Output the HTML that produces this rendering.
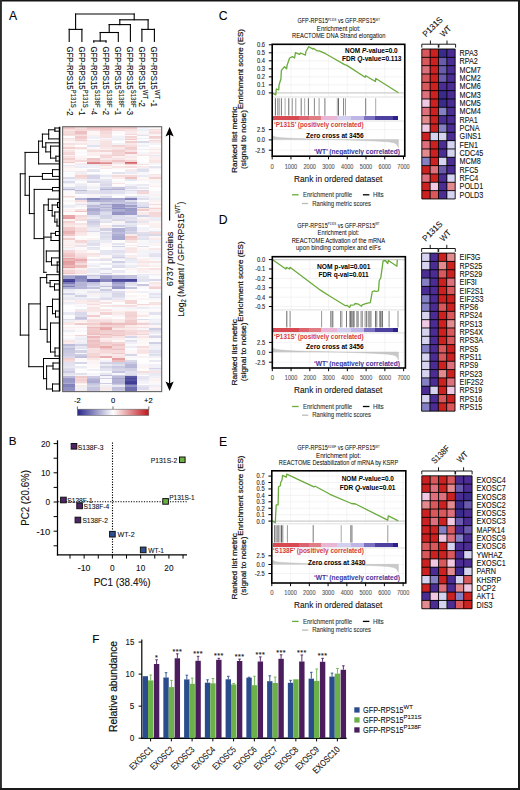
<!DOCTYPE html>
<html><head><meta charset="utf-8"><style>
html,body{margin:0;padding:0;background:#fff;}
svg{display:block;font-family:"Liberation Sans", sans-serif;}
</style></head><body>
<svg width="520" height="790" viewBox="0 0 520 790">
<rect width="520" height="790" fill="#fff"/>
<rect x="0" y="0" width="520" height="1.5" fill="#151515"/><rect x="0" y="0" width="1.9" height="790" fill="#2a2a2a"/><rect x="518" y="0" width="2" height="790" fill="#1a1a1a"/><rect x="0" y="788" width="520" height="2" fill="#1a1a1a"/>
<text x="9.00" y="19.80" font-size="12.2" fill="#000" stroke="#000" stroke-width="0.1" >A</text>
<text x="8.80" y="445.40" font-size="11.6" fill="#000" stroke="#000" stroke-width="0.1" >B</text>
<text x="218.80" y="20.30" font-size="12.2" fill="#000" stroke="#000" stroke-width="0.1" >C</text>
<text x="218.80" y="224.30" font-size="12.2" fill="#000" stroke="#000" stroke-width="0.1" >D</text>
<text x="219.00" y="445.80" font-size="12.2" fill="#000" stroke="#000" stroke-width="0.1" >E</text>
<text x="92.20" y="642.60" font-size="11.6" fill="#000" stroke="#000" stroke-width="0.1" >F</text>
<line x1="75.60" y1="14.00" x2="134.20" y2="14.00" stroke="#000" stroke-width="1.1" stroke-linecap="square"/>
<line x1="75.60" y1="14.00" x2="75.60" y2="29.40" stroke="#000" stroke-width="1.1" stroke-linecap="square"/>
<line x1="69.20" y1="29.40" x2="81.90" y2="29.40" stroke="#000" stroke-width="1.1" stroke-linecap="square"/>
<line x1="69.20" y1="29.40" x2="69.20" y2="41.50" stroke="#000" stroke-width="1.1" stroke-linecap="square"/>
<line x1="81.90" y1="29.40" x2="81.90" y2="41.50" stroke="#000" stroke-width="1.1" stroke-linecap="square"/>
<line x1="134.20" y1="14.00" x2="134.20" y2="19.80" stroke="#000" stroke-width="1.1" stroke-linecap="square"/>
<line x1="119.80" y1="19.80" x2="148.10" y2="19.80" stroke="#000" stroke-width="1.1" stroke-linecap="square"/>
<line x1="148.10" y1="19.80" x2="148.10" y2="29.40" stroke="#000" stroke-width="1.1" stroke-linecap="square"/>
<line x1="141.90" y1="29.40" x2="154.40" y2="29.40" stroke="#000" stroke-width="1.1" stroke-linecap="square"/>
<line x1="141.90" y1="29.40" x2="141.90" y2="41.50" stroke="#000" stroke-width="1.1" stroke-linecap="square"/>
<line x1="154.40" y1="29.40" x2="154.40" y2="41.50" stroke="#000" stroke-width="1.1" stroke-linecap="square"/>
<line x1="119.80" y1="19.80" x2="119.80" y2="24.60" stroke="#000" stroke-width="1.1" stroke-linecap="square"/>
<line x1="109.20" y1="24.60" x2="130.40" y2="24.60" stroke="#000" stroke-width="1.1" stroke-linecap="square"/>
<line x1="130.40" y1="24.60" x2="130.40" y2="41.50" stroke="#000" stroke-width="1.1" stroke-linecap="square"/>
<line x1="109.20" y1="24.60" x2="109.20" y2="32.50" stroke="#000" stroke-width="1.1" stroke-linecap="square"/>
<line x1="100.20" y1="32.50" x2="118.30" y2="32.50" stroke="#000" stroke-width="1.1" stroke-linecap="square"/>
<line x1="118.30" y1="32.50" x2="118.30" y2="41.50" stroke="#000" stroke-width="1.1" stroke-linecap="square"/>
<line x1="100.20" y1="32.50" x2="100.20" y2="41.00" stroke="#000" stroke-width="1.1" stroke-linecap="square"/>
<line x1="93.80" y1="41.00" x2="106.00" y2="41.00" stroke="#000" stroke-width="1.1" stroke-linecap="square"/>
<line x1="93.80" y1="41.00" x2="93.80" y2="42.30" stroke="#000" stroke-width="1.1" stroke-linecap="square"/>
<line x1="106.00" y1="41.00" x2="106.00" y2="42.30" stroke="#000" stroke-width="1.1" stroke-linecap="square"/>
<text transform="translate(66.50,46.6) rotate(90) scale(0.88,1)" font-size="8.8" fill="#111" stroke="#111" stroke-width="0.1">GFP-RPS15<tspan font-size="6.8" dy="-4.2" dx="0.3">P131S</tspan><tspan dy="4.2" dx="1">-2</tspan></text>
<text transform="translate(78.60,46.6) rotate(90) scale(0.88,1)" font-size="8.8" fill="#111" stroke="#111" stroke-width="0.1">GFP-RPS15<tspan font-size="6.8" dy="-4.2" dx="0.3">P131S</tspan><tspan dy="4.2" dx="1">-1</tspan></text>
<text transform="translate(90.70,46.6) rotate(90) scale(0.88,1)" font-size="8.8" fill="#111" stroke="#111" stroke-width="0.1">GFP-RPS15<tspan font-size="6.8" dy="-4.2" dx="0.3">S138F</tspan><tspan dy="4.2" dx="1">-4</tspan></text>
<text transform="translate(102.80,46.6) rotate(90) scale(0.88,1)" font-size="8.8" fill="#111" stroke="#111" stroke-width="0.1">GFP-RPS15<tspan font-size="6.8" dy="-4.2" dx="0.3">S138F</tspan><tspan dy="4.2" dx="1">-2</tspan></text>
<text transform="translate(114.90,46.6) rotate(90) scale(0.88,1)" font-size="8.8" fill="#111" stroke="#111" stroke-width="0.1">GFP-RPS15<tspan font-size="6.8" dy="-4.2" dx="0.3">S138F</tspan><tspan dy="4.2" dx="1">-1</tspan></text>
<text transform="translate(127.00,46.6) rotate(90) scale(0.88,1)" font-size="8.8" fill="#111" stroke="#111" stroke-width="0.1">GFP-RPS15<tspan font-size="6.8" dy="-4.2" dx="0.3">S138F</tspan><tspan dy="4.2" dx="1">-3</tspan></text>
<text transform="translate(139.10,46.6) rotate(90) scale(0.88,1)" font-size="8.8" fill="#111" stroke="#111" stroke-width="0.1">GFP-RPS15<tspan font-size="6.8" dy="-4.2" dx="0.3">WT</tspan><tspan dy="4.2" dx="1">-2</tspan></text>
<text transform="translate(151.20,46.6) rotate(90) scale(0.88,1)" font-size="8.8" fill="#111" stroke="#111" stroke-width="0.1">GFP-RPS15<tspan font-size="6.8" dy="-4.2" dx="0.3">WT</tspan><tspan dy="4.2" dx="1">-1</tspan></text>
<g shape-rendering="crispEdges">
<rect x="62.6" y="126.7" width="12.44" height="2.05" fill="#f0c7c8"/>
<rect x="74.99" y="126.7" width="12.44" height="2.05" fill="#f5dcdd"/>
<rect x="87.38" y="126.7" width="12.44" height="2.05" fill="#efc4c5"/>
<rect x="99.76" y="126.7" width="12.44" height="2.05" fill="#efc4c5"/>
<rect x="112.15" y="126.7" width="12.44" height="2.05" fill="#f2cecf"/>
<rect x="124.54" y="126.7" width="12.44" height="2.05" fill="#f1cbcc"/>
<rect x="136.92" y="126.7" width="12.44" height="2.05" fill="#f4f3f9"/>
<rect x="149.31" y="126.7" width="12.44" height="2.05" fill="#fdf8f8"/>
<rect x="62.6" y="128.7" width="12.44" height="1.05" fill="#f6dcdd"/>
<rect x="74.99" y="128.7" width="12.44" height="1.05" fill="#f3d4d5"/>
<rect x="87.38" y="128.7" width="12.44" height="1.05" fill="#f3d2d3"/>
<rect x="99.76" y="128.7" width="12.44" height="1.05" fill="#efc4c5"/>
<rect x="112.15" y="128.7" width="12.44" height="1.05" fill="#f6dcdd"/>
<rect x="124.54" y="128.7" width="12.44" height="1.05" fill="#f6dedf"/>
<rect x="136.92" y="128.7" width="12.44" height="1.05" fill="#eeeef6"/>
<rect x="149.31" y="128.7" width="12.44" height="1.05" fill="#f5dbdc"/>
<rect x="62.6" y="129.7" width="12.44" height="1.05" fill="#f8e5e6"/>
<rect x="74.99" y="129.7" width="12.44" height="1.05" fill="#f6dedf"/>
<rect x="87.38" y="129.7" width="12.44" height="1.05" fill="#f5dbdc"/>
<rect x="99.76" y="129.7" width="12.44" height="1.05" fill="#f2cecf"/>
<rect x="112.15" y="129.7" width="12.44" height="1.05" fill="#f4d8d8"/>
<rect x="124.54" y="129.7" width="12.44" height="1.05" fill="#f7e1e2"/>
<rect x="136.92" y="129.7" width="12.44" height="1.05" fill="#efeff6"/>
<rect x="149.31" y="129.7" width="12.44" height="1.05" fill="#faebec"/>
<rect x="62.6" y="130.7" width="12.44" height="0.35" fill="#faeeee"/>
<rect x="74.99" y="130.7" width="12.44" height="0.35" fill="#f6e0e0"/>
<rect x="87.38" y="130.7" width="12.44" height="0.35" fill="#f2cfd0"/>
<rect x="99.76" y="130.7" width="12.44" height="0.35" fill="#eec0c1"/>
<rect x="112.15" y="130.7" width="12.44" height="0.35" fill="#f6ddde"/>
<rect x="124.54" y="130.7" width="12.44" height="0.35" fill="#f2d0d1"/>
<rect x="136.92" y="130.7" width="12.44" height="0.35" fill="#e6e6f1"/>
<rect x="149.31" y="130.7" width="12.44" height="0.35" fill="#f9f9fb"/>
<rect x="62.6" y="131" width="12.44" height="2.55" fill="#f5dada"/>
<rect x="74.99" y="131" width="12.44" height="2.55" fill="#eebfc0"/>
<rect x="87.38" y="131" width="12.44" height="2.55" fill="#fcf6f6"/>
<rect x="99.76" y="131" width="12.44" height="2.55" fill="#f5dadb"/>
<rect x="112.15" y="131" width="12.44" height="2.55" fill="#fdf8f9"/>
<rect x="124.54" y="131" width="12.44" height="2.55" fill="#f9e9ea"/>
<rect x="136.92" y="131" width="12.44" height="2.55" fill="#f7f7fa"/>
<rect x="149.31" y="131" width="12.44" height="2.55" fill="#f6dede"/>
<rect x="62.6" y="133.5" width="12.44" height="1.55" fill="#f3d4d5"/>
<rect x="74.99" y="133.5" width="12.44" height="1.55" fill="#f2d0d1"/>
<rect x="87.38" y="133.5" width="12.44" height="1.55" fill="#fdf8f8"/>
<rect x="99.76" y="133.5" width="12.44" height="1.55" fill="#f6e0e0"/>
<rect x="112.15" y="133.5" width="12.44" height="1.55" fill="#fffefe"/>
<rect x="124.54" y="133.5" width="12.44" height="1.55" fill="#f5d9da"/>
<rect x="136.92" y="133.5" width="12.44" height="1.55" fill="#faeeee"/>
<rect x="149.31" y="133.5" width="12.44" height="1.55" fill="#fbf1f1"/>
<rect x="62.6" y="135" width="12.44" height="1.05" fill="#f6e0e0"/>
<rect x="74.99" y="135" width="12.44" height="1.05" fill="#f7e0e1"/>
<rect x="87.38" y="135" width="12.44" height="1.05" fill="#faeeee"/>
<rect x="99.76" y="135" width="12.44" height="1.05" fill="#f7e0e0"/>
<rect x="112.15" y="135" width="12.44" height="1.05" fill="#fdf7f7"/>
<rect x="124.54" y="135" width="12.44" height="1.05" fill="#fdf8f8"/>
<rect x="136.92" y="135" width="12.44" height="1.05" fill="#e3e3f0"/>
<rect x="149.31" y="135" width="12.44" height="1.05" fill="#f7f7fa"/>
<rect x="62.6" y="136" width="12.44" height="2.05" fill="#fdfdfe"/>
<rect x="74.99" y="136" width="12.44" height="2.05" fill="#f1cacb"/>
<rect x="87.38" y="136" width="12.44" height="2.05" fill="#f1f0f7"/>
<rect x="99.76" y="136" width="12.44" height="2.05" fill="#f6e0e0"/>
<rect x="112.15" y="136" width="12.44" height="2.05" fill="#f1f1f7"/>
<rect x="124.54" y="136" width="12.44" height="2.05" fill="#f3d4d5"/>
<rect x="136.92" y="136" width="12.44" height="2.05" fill="#fcfcfd"/>
<rect x="149.31" y="136" width="12.44" height="2.05" fill="#f2d0d1"/>
<rect x="62.6" y="138" width="12.44" height="1.05" fill="#f7e2e2"/>
<rect x="74.99" y="138" width="12.44" height="1.05" fill="#f1cdce"/>
<rect x="87.38" y="138" width="12.44" height="1.05" fill="#efeff6"/>
<rect x="99.76" y="138" width="12.44" height="1.05" fill="#f6f6fa"/>
<rect x="112.15" y="138" width="12.44" height="1.05" fill="#f0f0f7"/>
<rect x="124.54" y="138" width="12.44" height="1.05" fill="#f7e3e3"/>
<rect x="136.92" y="138" width="12.44" height="1.05" fill="#eeeef6"/>
<rect x="149.31" y="138" width="12.44" height="1.05" fill="#f5d9da"/>
<rect x="62.6" y="139" width="12.44" height="1.05" fill="#faebeb"/>
<rect x="74.99" y="139" width="12.44" height="1.05" fill="#f6dcdd"/>
<rect x="87.38" y="139" width="12.44" height="1.05" fill="#fefefe"/>
<rect x="99.76" y="139" width="12.44" height="1.05" fill="#faeced"/>
<rect x="112.15" y="139" width="12.44" height="1.05" fill="#ededf5"/>
<rect x="124.54" y="139" width="12.44" height="1.05" fill="#f0cacb"/>
<rect x="136.92" y="139" width="12.44" height="1.05" fill="#fefefe"/>
<rect x="149.31" y="139" width="12.44" height="1.05" fill="#fdf9fa"/>
<rect x="62.6" y="140" width="12.44" height="1.05" fill="#f9eaea"/>
<rect x="74.99" y="140" width="12.44" height="1.05" fill="#f2cecf"/>
<rect x="87.38" y="140" width="12.44" height="1.05" fill="#eeeef5"/>
<rect x="99.76" y="140" width="12.44" height="1.05" fill="#f9eaeb"/>
<rect x="112.15" y="140" width="12.44" height="1.05" fill="#f7f7fb"/>
<rect x="124.54" y="140" width="12.44" height="1.05" fill="#fcf4f4"/>
<rect x="136.92" y="140" width="12.44" height="1.05" fill="#fcfcfd"/>
<rect x="149.31" y="140" width="12.44" height="1.05" fill="#f5d9d9"/>
<rect x="62.6" y="141" width="12.44" height="2.05" fill="#fdf8f8"/>
<rect x="74.99" y="141" width="12.44" height="2.05" fill="#fbefef"/>
<rect x="87.38" y="141" width="12.44" height="2.05" fill="#fbf1f1"/>
<rect x="99.76" y="141" width="12.44" height="2.05" fill="#f7e3e3"/>
<rect x="112.15" y="141" width="12.44" height="2.05" fill="#ffffff"/>
<rect x="124.54" y="141" width="12.44" height="2.05" fill="#f1cdce"/>
<rect x="136.92" y="141" width="12.44" height="2.05" fill="#dad9ea"/>
<rect x="149.31" y="141" width="12.44" height="2.05" fill="#f8e7e7"/>
<rect x="62.6" y="143" width="12.44" height="1.55" fill="#f7e0e1"/>
<rect x="74.99" y="143" width="12.44" height="1.55" fill="#f9e8e8"/>
<rect x="87.38" y="143" width="12.44" height="1.55" fill="#f2f2f8"/>
<rect x="99.76" y="143" width="12.44" height="1.55" fill="#f7e2e2"/>
<rect x="112.15" y="143" width="12.44" height="1.55" fill="#f1f1f7"/>
<rect x="124.54" y="143" width="12.44" height="1.55" fill="#f8e7e7"/>
<rect x="136.92" y="143" width="12.44" height="1.55" fill="#f8f8fb"/>
<rect x="149.31" y="143" width="12.44" height="1.55" fill="#f4f3f9"/>
<rect x="62.6" y="144.5" width="12.44" height="2.55" fill="#fbefef"/>
<rect x="74.99" y="144.5" width="12.44" height="2.55" fill="#ffffff"/>
<rect x="87.38" y="144.5" width="12.44" height="2.55" fill="#e2e1ef"/>
<rect x="99.76" y="144.5" width="12.44" height="2.55" fill="#f7e0e1"/>
<rect x="112.15" y="144.5" width="12.44" height="2.55" fill="#f3d2d3"/>
<rect x="124.54" y="144.5" width="12.44" height="2.55" fill="#f6dedf"/>
<rect x="136.92" y="144.5" width="12.44" height="2.55" fill="#f1f1f7"/>
<rect x="149.31" y="144.5" width="12.44" height="2.55" fill="#ffffff"/>
<rect x="62.6" y="147" width="12.44" height="2.05" fill="#f2cecf"/>
<rect x="74.99" y="147" width="12.44" height="2.05" fill="#f5dbdc"/>
<rect x="87.38" y="147" width="12.44" height="2.05" fill="#fdf9fa"/>
<rect x="99.76" y="147" width="12.44" height="2.05" fill="#f8e7e7"/>
<rect x="112.15" y="147" width="12.44" height="2.05" fill="#f8e7e7"/>
<rect x="124.54" y="147" width="12.44" height="2.05" fill="#f1cdce"/>
<rect x="136.92" y="147" width="12.44" height="2.05" fill="#fcfcfe"/>
<rect x="149.31" y="147" width="12.44" height="2.05" fill="#fcf5f5"/>
<rect x="62.6" y="149" width="12.44" height="1.05" fill="#fcf3f3"/>
<rect x="74.99" y="149" width="12.44" height="1.05" fill="#fbf1f2"/>
<rect x="87.38" y="149" width="12.44" height="1.05" fill="#f9eaea"/>
<rect x="99.76" y="149" width="12.44" height="1.05" fill="#fbf0f0"/>
<rect x="112.15" y="149" width="12.44" height="1.05" fill="#f6dfe0"/>
<rect x="124.54" y="149" width="12.44" height="1.05" fill="#f3d2d3"/>
<rect x="136.92" y="149" width="12.44" height="1.05" fill="#f0f0f7"/>
<rect x="149.31" y="149" width="12.44" height="1.05" fill="#f9e9e9"/>
<rect x="62.6" y="150" width="12.44" height="2.05" fill="#f8e5e6"/>
<rect x="74.99" y="150" width="12.44" height="2.05" fill="#fefdfd"/>
<rect x="87.38" y="150" width="12.44" height="2.05" fill="#f5dbdc"/>
<rect x="99.76" y="150" width="12.44" height="2.05" fill="#f3d4d5"/>
<rect x="112.15" y="150" width="12.44" height="2.05" fill="#f2cecf"/>
<rect x="124.54" y="150" width="12.44" height="2.05" fill="#f7e3e3"/>
<rect x="136.92" y="150" width="12.44" height="2.05" fill="#fefdfd"/>
<rect x="149.31" y="150" width="12.44" height="2.05" fill="#fdf7f7"/>
<rect x="62.6" y="152" width="12.44" height="2.05" fill="#f4d8d9"/>
<rect x="74.99" y="152" width="12.44" height="2.05" fill="#fafafc"/>
<rect x="87.38" y="152" width="12.44" height="2.05" fill="#fbf0f0"/>
<rect x="99.76" y="152" width="12.44" height="2.05" fill="#fcf2f3"/>
<rect x="112.15" y="152" width="12.44" height="2.05" fill="#f4d5d6"/>
<rect x="124.54" y="152" width="12.44" height="2.05" fill="#ecbabb"/>
<rect x="136.92" y="152" width="12.44" height="2.05" fill="#f6f5fa"/>
<rect x="149.31" y="152" width="12.44" height="2.05" fill="#faecec"/>
<rect x="62.6" y="154" width="12.44" height="1.05" fill="#f4d6d7"/>
<rect x="74.99" y="154" width="12.44" height="1.05" fill="#ffffff"/>
<rect x="87.38" y="154" width="12.44" height="1.05" fill="#faeeee"/>
<rect x="99.76" y="154" width="12.44" height="1.05" fill="#f8e6e6"/>
<rect x="112.15" y="154" width="12.44" height="1.05" fill="#f4d5d6"/>
<rect x="124.54" y="154" width="12.44" height="1.05" fill="#fbf0f1"/>
<rect x="136.92" y="154" width="12.44" height="1.05" fill="#faeced"/>
<rect x="149.31" y="154" width="12.44" height="1.05" fill="#f7f7fb"/>
<rect x="62.6" y="155" width="12.44" height="1.05" fill="#fcf2f3"/>
<rect x="74.99" y="155" width="12.44" height="1.05" fill="#fdf7f7"/>
<rect x="87.38" y="155" width="12.44" height="1.05" fill="#fbefef"/>
<rect x="99.76" y="155" width="12.44" height="1.05" fill="#f4d6d7"/>
<rect x="112.15" y="155" width="12.44" height="1.05" fill="#f2cfcf"/>
<rect x="124.54" y="155" width="12.44" height="1.05" fill="#f3f3f9"/>
<rect x="136.92" y="155" width="12.44" height="1.05" fill="#f9e8e8"/>
<rect x="149.31" y="155" width="12.44" height="1.05" fill="#e9e9f3"/>
<rect x="62.6" y="156" width="12.44" height="2.05" fill="#f7e1e1"/>
<rect x="74.99" y="156" width="12.44" height="2.05" fill="#fcf5f5"/>
<rect x="87.38" y="156" width="12.44" height="2.05" fill="#fdfdfe"/>
<rect x="99.76" y="156" width="12.44" height="2.05" fill="#f4d8d9"/>
<rect x="112.15" y="156" width="12.44" height="2.05" fill="#faeeee"/>
<rect x="124.54" y="156" width="12.44" height="2.05" fill="#f9e9e9"/>
<rect x="136.92" y="156" width="12.44" height="2.05" fill="#fdfdfe"/>
<rect x="149.31" y="156" width="12.44" height="2.05" fill="#faeded"/>
<rect x="62.6" y="158" width="12.44" height="2.05" fill="#f2cfd0"/>
<rect x="74.99" y="158" width="12.44" height="2.05" fill="#faeeee"/>
<rect x="87.38" y="158" width="12.44" height="2.05" fill="#efc5c6"/>
<rect x="99.76" y="158" width="12.44" height="2.05" fill="#f9e9ea"/>
<rect x="112.15" y="158" width="12.44" height="2.05" fill="#f7e3e3"/>
<rect x="124.54" y="158" width="12.44" height="2.05" fill="#faeeee"/>
<rect x="136.92" y="158" width="12.44" height="2.05" fill="#fefdfd"/>
<rect x="149.31" y="158" width="12.44" height="2.05" fill="#faeeee"/>
<rect x="62.6" y="160" width="12.44" height="1.55" fill="#f7e1e1"/>
<rect x="74.99" y="160" width="12.44" height="1.55" fill="#f5d9da"/>
<rect x="87.38" y="160" width="12.44" height="1.55" fill="#f1cacb"/>
<rect x="99.76" y="160" width="12.44" height="1.55" fill="#f5d9d9"/>
<rect x="112.15" y="160" width="12.44" height="1.55" fill="#efc6c7"/>
<rect x="124.54" y="160" width="12.44" height="1.55" fill="#f4d6d7"/>
<rect x="136.92" y="160" width="12.44" height="1.55" fill="#ffffff"/>
<rect x="149.31" y="160" width="12.44" height="1.55" fill="#f8e6e6"/>
<rect x="62.6" y="161.5" width="12.44" height="1.05" fill="#f0c8c9"/>
<rect x="74.99" y="161.5" width="12.44" height="1.05" fill="#fdfdfe"/>
<rect x="87.38" y="161.5" width="12.44" height="1.05" fill="#de8688"/>
<rect x="99.76" y="161.5" width="12.44" height="1.05" fill="#e6a4a6"/>
<rect x="112.15" y="161.5" width="12.44" height="1.05" fill="#f6dddd"/>
<rect x="124.54" y="161.5" width="12.44" height="1.05" fill="#d56769"/>
<rect x="136.92" y="161.5" width="12.44" height="1.05" fill="#fdf8f8"/>
<rect x="149.31" y="161.5" width="12.44" height="1.05" fill="#f8e6e6"/>
<rect x="62.6" y="162.5" width="12.44" height="1.05" fill="#fefafa"/>
<rect x="74.99" y="162.5" width="12.44" height="1.05" fill="#faebec"/>
<rect x="87.38" y="162.5" width="12.44" height="1.05" fill="#dc7e80"/>
<rect x="99.76" y="162.5" width="12.44" height="1.05" fill="#e08d8f"/>
<rect x="112.15" y="162.5" width="12.44" height="1.05" fill="#f8e5e6"/>
<rect x="124.54" y="162.5" width="12.44" height="1.05" fill="#dd8183"/>
<rect x="136.92" y="162.5" width="12.44" height="1.05" fill="#fdf8f9"/>
<rect x="149.31" y="162.5" width="12.44" height="1.05" fill="#f6f6fa"/>
<rect x="62.6" y="163.5" width="12.44" height="1.55" fill="#fcfcfd"/>
<rect x="74.99" y="163.5" width="12.44" height="1.55" fill="#edecf5"/>
<rect x="87.38" y="163.5" width="12.44" height="1.55" fill="#e8e8f3"/>
<rect x="99.76" y="163.5" width="12.44" height="1.55" fill="#f7e3e4"/>
<rect x="112.15" y="163.5" width="12.44" height="1.55" fill="#fcf4f4"/>
<rect x="124.54" y="163.5" width="12.44" height="1.55" fill="#f4d8d9"/>
<rect x="136.92" y="163.5" width="12.44" height="1.55" fill="#f7e2e3"/>
<rect x="149.31" y="163.5" width="12.44" height="1.55" fill="#f6f6fa"/>
<rect x="62.6" y="165" width="12.44" height="1.05" fill="#e9e9f3"/>
<rect x="74.99" y="165" width="12.44" height="1.05" fill="#f4f4f9"/>
<rect x="87.38" y="165" width="12.44" height="1.05" fill="#f0eff6"/>
<rect x="99.76" y="165" width="12.44" height="1.05" fill="#f5dcdd"/>
<rect x="112.15" y="165" width="12.44" height="1.05" fill="#fefafa"/>
<rect x="124.54" y="165" width="12.44" height="1.05" fill="#fcf3f3"/>
<rect x="136.92" y="165" width="12.44" height="1.05" fill="#ffffff"/>
<rect x="149.31" y="165" width="12.44" height="1.05" fill="#ffffff"/>
<rect x="62.6" y="166" width="12.44" height="1.55" fill="#fbf0f1"/>
<rect x="74.99" y="166" width="12.44" height="1.55" fill="#ececf5"/>
<rect x="87.38" y="166" width="12.44" height="1.55" fill="#f0f0f7"/>
<rect x="99.76" y="166" width="12.44" height="1.55" fill="#fbf2f2"/>
<rect x="112.15" y="166" width="12.44" height="1.55" fill="#f8e6e7"/>
<rect x="124.54" y="166" width="12.44" height="1.55" fill="#f6dfe0"/>
<rect x="136.92" y="166" width="12.44" height="1.55" fill="#faecec"/>
<rect x="149.31" y="166" width="12.44" height="1.55" fill="#e5e5f1"/>
<rect x="62.6" y="167.5" width="12.44" height="0.55" fill="#eeeef6"/>
<rect x="74.99" y="167.5" width="12.44" height="0.55" fill="#fcf4f4"/>
<rect x="87.38" y="167.5" width="12.44" height="0.55" fill="#f9f9fc"/>
<rect x="99.76" y="167.5" width="12.44" height="0.55" fill="#f9e9ea"/>
<rect x="112.15" y="167.5" width="12.44" height="0.55" fill="#fcfcfd"/>
<rect x="124.54" y="167.5" width="12.44" height="0.55" fill="#f9eaea"/>
<rect x="136.92" y="167.5" width="12.44" height="0.55" fill="#f6f6fa"/>
<rect x="149.31" y="167.5" width="12.44" height="0.55" fill="#f6f6fa"/>
<rect x="62.6" y="168" width="12.44" height="1.05" fill="#fdf8f8"/>
<rect x="74.99" y="168" width="12.44" height="1.05" fill="#fefbfb"/>
<rect x="87.38" y="168" width="12.44" height="1.05" fill="#fffefe"/>
<rect x="99.76" y="168" width="12.44" height="1.05" fill="#f9e8e8"/>
<rect x="112.15" y="168" width="12.44" height="1.05" fill="#fcf5f5"/>
<rect x="124.54" y="168" width="12.44" height="1.05" fill="#fdfdfe"/>
<rect x="136.92" y="168" width="12.44" height="1.05" fill="#ebebf4"/>
<rect x="149.31" y="168" width="12.44" height="1.05" fill="#f4f3f9"/>
<rect x="62.6" y="169" width="12.44" height="2.05" fill="#fdf8f8"/>
<rect x="74.99" y="169" width="12.44" height="2.05" fill="#fdf9f9"/>
<rect x="87.38" y="169" width="12.44" height="2.05" fill="#e8e8f2"/>
<rect x="99.76" y="169" width="12.44" height="2.05" fill="#fffefe"/>
<rect x="112.15" y="169" width="12.44" height="2.05" fill="#fffefe"/>
<rect x="124.54" y="169" width="12.44" height="2.05" fill="#f9e9ea"/>
<rect x="136.92" y="169" width="12.44" height="2.05" fill="#dfdfed"/>
<rect x="149.31" y="169" width="12.44" height="2.05" fill="#fefafa"/>
<rect x="62.6" y="171" width="12.44" height="1.05" fill="#f1f1f7"/>
<rect x="74.99" y="171" width="12.44" height="1.05" fill="#f9eaea"/>
<rect x="87.38" y="171" width="12.44" height="1.05" fill="#e1e0ee"/>
<rect x="99.76" y="171" width="12.44" height="1.05" fill="#fefafa"/>
<rect x="112.15" y="171" width="12.44" height="1.05" fill="#ffffff"/>
<rect x="124.54" y="171" width="12.44" height="1.05" fill="#eaeaf3"/>
<rect x="136.92" y="171" width="12.44" height="1.05" fill="#e2e1ef"/>
<rect x="149.31" y="171" width="12.44" height="1.05" fill="#fefdfd"/>
<rect x="62.6" y="172" width="12.44" height="1.55" fill="#fbfbfd"/>
<rect x="74.99" y="172" width="12.44" height="1.55" fill="#eeeef6"/>
<rect x="87.38" y="172" width="12.44" height="1.55" fill="#fdfdfe"/>
<rect x="99.76" y="172" width="12.44" height="1.55" fill="#fffefe"/>
<rect x="112.15" y="172" width="12.44" height="1.55" fill="#e3e3ef"/>
<rect x="124.54" y="172" width="12.44" height="1.55" fill="#ececf5"/>
<rect x="136.92" y="172" width="12.44" height="1.55" fill="#f7f7fb"/>
<rect x="149.31" y="172" width="12.44" height="1.55" fill="#fefefe"/>
<rect x="62.6" y="173.5" width="12.44" height="1.05" fill="#fafafc"/>
<rect x="74.99" y="173.5" width="12.44" height="1.05" fill="#f9e9e9"/>
<rect x="87.38" y="173.5" width="12.44" height="1.05" fill="#ebebf4"/>
<rect x="99.76" y="173.5" width="12.44" height="1.05" fill="#f6f6fa"/>
<rect x="112.15" y="173.5" width="12.44" height="1.05" fill="#fdf6f6"/>
<rect x="124.54" y="173.5" width="12.44" height="1.05" fill="#fdf7f8"/>
<rect x="136.92" y="173.5" width="12.44" height="1.05" fill="#fdf8f8"/>
<rect x="149.31" y="173.5" width="12.44" height="1.05" fill="#f8e6e6"/>
<rect x="62.6" y="174.5" width="12.44" height="0.55" fill="#f8e4e5"/>
<rect x="74.99" y="174.5" width="12.44" height="0.55" fill="#f4d7d8"/>
<rect x="87.38" y="174.5" width="12.44" height="0.55" fill="#fdfdfe"/>
<rect x="99.76" y="174.5" width="12.44" height="0.55" fill="#fefbfc"/>
<rect x="112.15" y="174.5" width="12.44" height="0.55" fill="#f9eaea"/>
<rect x="124.54" y="174.5" width="12.44" height="0.55" fill="#f5f5fa"/>
<rect x="136.92" y="174.5" width="12.44" height="0.55" fill="#c5c5df"/>
<rect x="149.31" y="174.5" width="12.44" height="0.55" fill="#fcf5f5"/>
<rect x="62.6" y="175" width="12.44" height="1.55" fill="#fbfbfd"/>
<rect x="74.99" y="175" width="12.44" height="1.55" fill="#f3d2d2"/>
<rect x="87.38" y="175" width="12.44" height="1.55" fill="#d5d4e8"/>
<rect x="99.76" y="175" width="12.44" height="1.55" fill="#e9e9f3"/>
<rect x="112.15" y="175" width="12.44" height="1.55" fill="#f5dbdc"/>
<rect x="124.54" y="175" width="12.44" height="1.55" fill="#f5dcdc"/>
<rect x="136.92" y="175" width="12.44" height="1.55" fill="#eaeaf3"/>
<rect x="149.31" y="175" width="12.44" height="1.55" fill="#faeced"/>
<rect x="62.6" y="176.5" width="12.44" height="2.55" fill="#dcdcec"/>
<rect x="74.99" y="176.5" width="12.44" height="2.55" fill="#f5dada"/>
<rect x="87.38" y="176.5" width="12.44" height="2.55" fill="#d5d4e8"/>
<rect x="99.76" y="176.5" width="12.44" height="2.55" fill="#f7f7fa"/>
<rect x="112.15" y="176.5" width="12.44" height="2.55" fill="#faecec"/>
<rect x="124.54" y="176.5" width="12.44" height="2.55" fill="#eec2c3"/>
<rect x="136.92" y="176.5" width="12.44" height="2.55" fill="#fdf9f9"/>
<rect x="149.31" y="176.5" width="12.44" height="2.55" fill="#f3d2d2"/>
<rect x="62.6" y="179" width="12.44" height="1.55" fill="#f2f2f8"/>
<rect x="74.99" y="179" width="12.44" height="1.55" fill="#f1f1f7"/>
<rect x="87.38" y="179" width="12.44" height="1.55" fill="#eaeaf4"/>
<rect x="99.76" y="179" width="12.44" height="1.55" fill="#e7e6f2"/>
<rect x="112.15" y="179" width="12.44" height="1.55" fill="#fefdfd"/>
<rect x="124.54" y="179" width="12.44" height="1.55" fill="#e7e7f2"/>
<rect x="136.92" y="179" width="12.44" height="1.55" fill="#fcf3f4"/>
<rect x="149.31" y="179" width="12.44" height="1.55" fill="#fcf3f3"/>
<rect x="62.6" y="180.5" width="12.44" height="2.05" fill="#dbdbeb"/>
<rect x="74.99" y="180.5" width="12.44" height="2.05" fill="#fdfdfe"/>
<rect x="87.38" y="180.5" width="12.44" height="2.05" fill="#d9d9ea"/>
<rect x="99.76" y="180.5" width="12.44" height="2.05" fill="#e1e0ee"/>
<rect x="112.15" y="180.5" width="12.44" height="2.05" fill="#f9f9fc"/>
<rect x="124.54" y="180.5" width="12.44" height="2.05" fill="#fdfdfe"/>
<rect x="136.92" y="180.5" width="12.44" height="2.05" fill="#fefcfc"/>
<rect x="149.31" y="180.5" width="12.44" height="2.05" fill="#f6f6fa"/>
<rect x="62.6" y="182.5" width="12.44" height="0.55" fill="#eaeaf4"/>
<rect x="74.99" y="182.5" width="12.44" height="0.55" fill="#f5f5fa"/>
<rect x="87.38" y="182.5" width="12.44" height="0.55" fill="#f5f5f9"/>
<rect x="99.76" y="182.5" width="12.44" height="0.55" fill="#e9e8f3"/>
<rect x="112.15" y="182.5" width="12.44" height="0.55" fill="#f7f7fa"/>
<rect x="124.54" y="182.5" width="12.44" height="0.55" fill="#ececf4"/>
<rect x="136.92" y="182.5" width="12.44" height="0.55" fill="#fefeff"/>
<rect x="149.31" y="182.5" width="12.44" height="0.55" fill="#fdf7f7"/>
<rect x="62.6" y="183" width="12.44" height="1.05" fill="#efeff6"/>
<rect x="74.99" y="183" width="12.44" height="1.05" fill="#f3f2f8"/>
<rect x="87.38" y="183" width="12.44" height="1.05" fill="#fdfdfe"/>
<rect x="99.76" y="183" width="12.44" height="1.05" fill="#ddddec"/>
<rect x="112.15" y="183" width="12.44" height="1.05" fill="#f8e4e4"/>
<rect x="124.54" y="183" width="12.44" height="1.05" fill="#fffefe"/>
<rect x="136.92" y="183" width="12.44" height="1.05" fill="#fffefe"/>
<rect x="149.31" y="183" width="12.44" height="1.05" fill="#fdf7f7"/>
<rect x="62.6" y="184" width="12.44" height="1.55" fill="#f9f9fc"/>
<rect x="74.99" y="184" width="12.44" height="1.55" fill="#ececf4"/>
<rect x="87.38" y="184" width="12.44" height="1.55" fill="#fdf8f8"/>
<rect x="99.76" y="184" width="12.44" height="1.55" fill="#dad9ea"/>
<rect x="112.15" y="184" width="12.44" height="1.55" fill="#fefcfc"/>
<rect x="124.54" y="184" width="12.44" height="1.55" fill="#f1f0f7"/>
<rect x="136.92" y="184" width="12.44" height="1.55" fill="#eaeaf3"/>
<rect x="149.31" y="184" width="12.44" height="1.55" fill="#fdf7f7"/>
<rect x="62.6" y="185.5" width="12.44" height="1.55" fill="#f8f8fb"/>
<rect x="74.99" y="185.5" width="12.44" height="1.55" fill="#e5e4f0"/>
<rect x="87.38" y="185.5" width="12.44" height="1.55" fill="#f3f2f8"/>
<rect x="99.76" y="185.5" width="12.44" height="1.55" fill="#e5e5f1"/>
<rect x="112.15" y="185.5" width="12.44" height="1.55" fill="#fcf4f4"/>
<rect x="124.54" y="185.5" width="12.44" height="1.55" fill="#e0dfee"/>
<rect x="136.92" y="185.5" width="12.44" height="1.55" fill="#fdf8f8"/>
<rect x="149.31" y="185.5" width="12.44" height="1.55" fill="#faeeee"/>
<rect x="62.6" y="187" width="12.44" height="2.05" fill="#dddcec"/>
<rect x="74.99" y="187" width="12.44" height="2.05" fill="#e2e1ef"/>
<rect x="87.38" y="187" width="12.44" height="2.05" fill="#efeff6"/>
<rect x="99.76" y="187" width="12.44" height="2.05" fill="#cecee4"/>
<rect x="112.15" y="187" width="12.44" height="2.05" fill="#c5c4df"/>
<rect x="124.54" y="187" width="12.44" height="2.05" fill="#dedded"/>
<rect x="136.92" y="187" width="12.44" height="2.05" fill="#e8e8f2"/>
<rect x="149.31" y="187" width="12.44" height="2.05" fill="#fefefe"/>
<rect x="62.6" y="189" width="12.44" height="1.05" fill="#b7b7d7"/>
<rect x="74.99" y="189" width="12.44" height="1.05" fill="#e8e8f2"/>
<rect x="87.38" y="189" width="12.44" height="1.05" fill="#f9f9fc"/>
<rect x="99.76" y="189" width="12.44" height="1.05" fill="#b2b2d5"/>
<rect x="112.15" y="189" width="12.44" height="1.05" fill="#b2b1d4"/>
<rect x="124.54" y="189" width="12.44" height="1.05" fill="#f3f2f8"/>
<rect x="136.92" y="189" width="12.44" height="1.05" fill="#fdf7f7"/>
<rect x="149.31" y="189" width="12.44" height="1.05" fill="#fefcfc"/>
<rect x="62.6" y="190" width="12.44" height="1.05" fill="#efeef6"/>
<rect x="74.99" y="190" width="12.44" height="1.05" fill="#babad9"/>
<rect x="87.38" y="190" width="12.44" height="1.05" fill="#e6e6f1"/>
<rect x="99.76" y="190" width="12.44" height="1.05" fill="#dcdbeb"/>
<rect x="112.15" y="190" width="12.44" height="1.05" fill="#e3e3f0"/>
<rect x="124.54" y="190" width="12.44" height="1.05" fill="#dedeed"/>
<rect x="136.92" y="190" width="12.44" height="1.05" fill="#d7d7e9"/>
<rect x="149.31" y="190" width="12.44" height="1.05" fill="#fefdfe"/>
<rect x="62.6" y="191" width="12.44" height="2.55" fill="#fdf9f9"/>
<rect x="74.99" y="191" width="12.44" height="2.55" fill="#ddddec"/>
<rect x="87.38" y="191" width="12.44" height="2.55" fill="#e2e2ef"/>
<rect x="99.76" y="191" width="12.44" height="2.55" fill="#dcdbec"/>
<rect x="112.15" y="191" width="12.44" height="2.55" fill="#e0dfee"/>
<rect x="124.54" y="191" width="12.44" height="2.55" fill="#efeef6"/>
<rect x="136.92" y="191" width="12.44" height="2.55" fill="#f4d5d6"/>
<rect x="149.31" y="191" width="12.44" height="2.55" fill="#f5f5fa"/>
<rect x="62.6" y="193.5" width="12.44" height="0.55" fill="#fefbfb"/>
<rect x="74.99" y="193.5" width="12.44" height="0.55" fill="#d4d4e7"/>
<rect x="87.38" y="193.5" width="12.44" height="0.55" fill="#f3f2f8"/>
<rect x="99.76" y="193.5" width="12.44" height="0.55" fill="#d2d2e6"/>
<rect x="112.15" y="193.5" width="12.44" height="0.55" fill="#f0f0f7"/>
<rect x="124.54" y="193.5" width="12.44" height="0.55" fill="#f7f7fb"/>
<rect x="136.92" y="193.5" width="12.44" height="0.55" fill="#fcf4f4"/>
<rect x="149.31" y="193.5" width="12.44" height="0.55" fill="#fdf8f9"/>
<rect x="62.6" y="194" width="12.44" height="1.55" fill="#fdf9f9"/>
<rect x="74.99" y="194" width="12.44" height="1.55" fill="#fcfcfe"/>
<rect x="87.38" y="194" width="12.44" height="1.55" fill="#fcf3f4"/>
<rect x="99.76" y="194" width="12.44" height="1.55" fill="#f1f1f7"/>
<rect x="112.15" y="194" width="12.44" height="1.55" fill="#f7f7fb"/>
<rect x="124.54" y="194" width="12.44" height="1.55" fill="#fefcfc"/>
<rect x="136.92" y="194" width="12.44" height="1.55" fill="#f5f5f9"/>
<rect x="149.31" y="194" width="12.44" height="1.55" fill="#fbf1f1"/>
<rect x="62.6" y="195.5" width="12.44" height="1.55" fill="#f4d6d7"/>
<rect x="74.99" y="195.5" width="12.44" height="1.55" fill="#f6f5fa"/>
<rect x="87.38" y="195.5" width="12.44" height="1.55" fill="#f8f8fb"/>
<rect x="99.76" y="195.5" width="12.44" height="1.55" fill="#dbdbeb"/>
<rect x="112.15" y="195.5" width="12.44" height="1.55" fill="#ffffff"/>
<rect x="124.54" y="195.5" width="12.44" height="1.55" fill="#e2e2ef"/>
<rect x="136.92" y="195.5" width="12.44" height="1.55" fill="#eaeaf3"/>
<rect x="149.31" y="195.5" width="12.44" height="1.55" fill="#f6f6fa"/>
<rect x="62.6" y="197" width="12.44" height="1.05" fill="#f9eaea"/>
<rect x="74.99" y="197" width="12.44" height="1.05" fill="#f6f6fa"/>
<rect x="87.38" y="197" width="12.44" height="1.05" fill="#f0f0f7"/>
<rect x="99.76" y="197" width="12.44" height="1.05" fill="#dfdfed"/>
<rect x="112.15" y="197" width="12.44" height="1.05" fill="#fbfbfd"/>
<rect x="124.54" y="197" width="12.44" height="1.05" fill="#d7d7e9"/>
<rect x="136.92" y="197" width="12.44" height="1.05" fill="#eeeef6"/>
<rect x="149.31" y="197" width="12.44" height="1.05" fill="#f3f3f8"/>
<rect x="62.6" y="198" width="12.44" height="2.05" fill="#fefeff"/>
<rect x="74.99" y="198" width="12.44" height="2.05" fill="#b7b6d7"/>
<rect x="87.38" y="198" width="12.44" height="2.05" fill="#8c8bc0"/>
<rect x="99.76" y="198" width="12.44" height="2.05" fill="#a8a7cf"/>
<rect x="112.15" y="198" width="12.44" height="2.05" fill="#a8a7cf"/>
<rect x="124.54" y="198" width="12.44" height="2.05" fill="#8483bb"/>
<rect x="136.92" y="198" width="12.44" height="2.05" fill="#dedeed"/>
<rect x="149.31" y="198" width="12.44" height="2.05" fill="#efeff6"/>
<rect x="62.6" y="200" width="12.44" height="1.55" fill="#fcf5f5"/>
<rect x="74.99" y="200" width="12.44" height="1.55" fill="#f6dede"/>
<rect x="87.38" y="200" width="12.44" height="1.55" fill="#aeadd2"/>
<rect x="99.76" y="200" width="12.44" height="1.55" fill="#b3b3d5"/>
<rect x="112.15" y="200" width="12.44" height="1.55" fill="#bbbbd9"/>
<rect x="124.54" y="200" width="12.44" height="1.55" fill="#dcdcec"/>
<rect x="136.92" y="200" width="12.44" height="1.55" fill="#fcfcfe"/>
<rect x="149.31" y="200" width="12.44" height="1.55" fill="#fbf1f1"/>
<rect x="62.6" y="201.5" width="12.44" height="2.55" fill="#fdfdfe"/>
<rect x="74.99" y="201.5" width="12.44" height="2.55" fill="#fbf1f1"/>
<rect x="87.38" y="201.5" width="12.44" height="2.55" fill="#e2e2ef"/>
<rect x="99.76" y="201.5" width="12.44" height="2.55" fill="#d1d1e6"/>
<rect x="112.15" y="201.5" width="12.44" height="2.55" fill="#c7c6e0"/>
<rect x="124.54" y="201.5" width="12.44" height="2.55" fill="#bfbedb"/>
<rect x="136.92" y="201.5" width="12.44" height="2.55" fill="#e4e4f0"/>
<rect x="149.31" y="201.5" width="12.44" height="2.55" fill="#fdf7f7"/>
<rect x="62.6" y="204" width="12.44" height="1.05" fill="#f9f9fc"/>
<rect x="74.99" y="204" width="12.44" height="1.05" fill="#e1e1ef"/>
<rect x="87.38" y="204" width="12.44" height="1.05" fill="#dbdbeb"/>
<rect x="99.76" y="204" width="12.44" height="1.05" fill="#acabd1"/>
<rect x="112.15" y="204" width="12.44" height="1.05" fill="#9695c5"/>
<rect x="124.54" y="204" width="12.44" height="1.05" fill="#cccce3"/>
<rect x="136.92" y="204" width="12.44" height="1.05" fill="#e5e5f1"/>
<rect x="149.31" y="204" width="12.44" height="1.05" fill="#f5dadb"/>
<rect x="62.6" y="205" width="12.44" height="2.05" fill="#ebebf4"/>
<rect x="74.99" y="205" width="12.44" height="2.05" fill="#f3f3f8"/>
<rect x="87.38" y="205" width="12.44" height="2.05" fill="#bab9d9"/>
<rect x="99.76" y="205" width="12.44" height="2.05" fill="#cac9e2"/>
<rect x="112.15" y="205" width="12.44" height="2.05" fill="#9695c5"/>
<rect x="124.54" y="205" width="12.44" height="2.05" fill="#9e9eca"/>
<rect x="136.92" y="205" width="12.44" height="2.05" fill="#dfdeed"/>
<rect x="149.31" y="205" width="12.44" height="2.05" fill="#fdf7f7"/>
<rect x="62.6" y="207" width="12.44" height="1.05" fill="#efeff6"/>
<rect x="74.99" y="207" width="12.44" height="1.05" fill="#fdf8f8"/>
<rect x="87.38" y="207" width="12.44" height="1.05" fill="#c9c9e1"/>
<rect x="99.76" y="207" width="12.44" height="1.05" fill="#b3b3d5"/>
<rect x="112.15" y="207" width="12.44" height="1.05" fill="#a09fca"/>
<rect x="124.54" y="207" width="12.44" height="1.05" fill="#c0bfdc"/>
<rect x="136.92" y="207" width="12.44" height="1.05" fill="#babad9"/>
<rect x="149.31" y="207" width="12.44" height="1.05" fill="#faeeee"/>
<rect x="62.6" y="208" width="12.44" height="1.05" fill="#fefafa"/>
<rect x="74.99" y="208" width="12.44" height="1.05" fill="#fefeff"/>
<rect x="87.38" y="208" width="12.44" height="1.05" fill="#afaed3"/>
<rect x="99.76" y="208" width="12.44" height="1.05" fill="#cfcee4"/>
<rect x="112.15" y="208" width="12.44" height="1.05" fill="#8e8dc1"/>
<rect x="124.54" y="208" width="12.44" height="1.05" fill="#9897c6"/>
<rect x="136.92" y="208" width="12.44" height="1.05" fill="#f8e6e6"/>
<rect x="149.31" y="208" width="12.44" height="1.05" fill="#f3d2d3"/>
<rect x="62.6" y="209" width="12.44" height="1.55" fill="#fcf4f4"/>
<rect x="74.99" y="209" width="12.44" height="1.55" fill="#f7e3e3"/>
<rect x="87.38" y="209" width="12.44" height="1.55" fill="#a7a6ce"/>
<rect x="99.76" y="209" width="12.44" height="1.55" fill="#bfbfdc"/>
<rect x="112.15" y="209" width="12.44" height="1.55" fill="#aeaed2"/>
<rect x="124.54" y="209" width="12.44" height="1.55" fill="#9c9bc8"/>
<rect x="136.92" y="209" width="12.44" height="1.55" fill="#f1cbcc"/>
<rect x="149.31" y="209" width="12.44" height="1.55" fill="#faebeb"/>
<rect x="62.6" y="210.5" width="12.44" height="1.55" fill="#f9e8e8"/>
<rect x="74.99" y="210.5" width="12.44" height="1.55" fill="#efc3c4"/>
<rect x="87.38" y="210.5" width="12.44" height="1.55" fill="#b8b7d8"/>
<rect x="99.76" y="210.5" width="12.44" height="1.55" fill="#d0d0e5"/>
<rect x="112.15" y="210.5" width="12.44" height="1.55" fill="#aaa9d0"/>
<rect x="124.54" y="210.5" width="12.44" height="1.55" fill="#a2a1cc"/>
<rect x="136.92" y="210.5" width="12.44" height="1.55" fill="#fdf7f7"/>
<rect x="149.31" y="210.5" width="12.44" height="1.55" fill="#faecec"/>
<rect x="62.6" y="212" width="12.44" height="2.55" fill="#fefbfb"/>
<rect x="74.99" y="212" width="12.44" height="2.55" fill="#fefdfd"/>
<rect x="87.38" y="212" width="12.44" height="2.55" fill="#bbbbd9"/>
<rect x="99.76" y="212" width="12.44" height="2.55" fill="#dedded"/>
<rect x="112.15" y="212" width="12.44" height="2.55" fill="#9493c4"/>
<rect x="124.54" y="212" width="12.44" height="2.55" fill="#9e9eca"/>
<rect x="136.92" y="212" width="12.44" height="2.55" fill="#f9eaea"/>
<rect x="149.31" y="212" width="12.44" height="2.55" fill="#f4d8d9"/>
<rect x="62.6" y="214.5" width="12.44" height="0.55" fill="#f0f0f7"/>
<rect x="74.99" y="214.5" width="12.44" height="0.55" fill="#fdf6f6"/>
<rect x="87.38" y="214.5" width="12.44" height="0.55" fill="#babad9"/>
<rect x="99.76" y="214.5" width="12.44" height="0.55" fill="#d8d7e9"/>
<rect x="112.15" y="214.5" width="12.44" height="0.55" fill="#9392c3"/>
<rect x="124.54" y="214.5" width="12.44" height="0.55" fill="#b2b2d5"/>
<rect x="136.92" y="214.5" width="12.44" height="0.55" fill="#f9f9fc"/>
<rect x="149.31" y="214.5" width="12.44" height="0.55" fill="#faecec"/>
<rect x="62.6" y="215" width="12.44" height="2.05" fill="#e7a8a9"/>
<rect x="74.99" y="215" width="12.44" height="2.05" fill="#f4d8d9"/>
<rect x="87.38" y="215" width="12.44" height="2.05" fill="#e3e3f0"/>
<rect x="99.76" y="215" width="12.44" height="2.05" fill="#d3d3e7"/>
<rect x="112.15" y="215" width="12.44" height="2.05" fill="#dfdeed"/>
<rect x="124.54" y="215" width="12.44" height="2.05" fill="#e8e7f2"/>
<rect x="136.92" y="215" width="12.44" height="2.05" fill="#d4d3e7"/>
<rect x="149.31" y="215" width="12.44" height="2.05" fill="#f5dadb"/>
<rect x="62.6" y="217" width="12.44" height="2.05" fill="#e6a2a4"/>
<rect x="74.99" y="217" width="12.44" height="2.05" fill="#f7e1e1"/>
<rect x="87.38" y="217" width="12.44" height="2.05" fill="#ececf4"/>
<rect x="99.76" y="217" width="12.44" height="2.05" fill="#d5d5e8"/>
<rect x="112.15" y="217" width="12.44" height="2.05" fill="#e1e1ef"/>
<rect x="124.54" y="217" width="12.44" height="2.05" fill="#dedeed"/>
<rect x="136.92" y="217" width="12.44" height="2.05" fill="#f4f4f9"/>
<rect x="149.31" y="217" width="12.44" height="2.05" fill="#ededf5"/>
<rect x="62.6" y="219" width="12.44" height="1.55" fill="#fbf2f2"/>
<rect x="74.99" y="219" width="12.44" height="1.55" fill="#f6dddd"/>
<rect x="87.38" y="219" width="12.44" height="1.55" fill="#d9d8ea"/>
<rect x="99.76" y="219" width="12.44" height="1.55" fill="#eaeaf3"/>
<rect x="112.15" y="219" width="12.44" height="1.55" fill="#d8d8ea"/>
<rect x="124.54" y="219" width="12.44" height="1.55" fill="#e2e2ef"/>
<rect x="136.92" y="219" width="12.44" height="1.55" fill="#f9e9e9"/>
<rect x="149.31" y="219" width="12.44" height="1.55" fill="#ededf5"/>
<rect x="62.6" y="220.5" width="12.44" height="2.05" fill="#f2d1d2"/>
<rect x="74.99" y="220.5" width="12.44" height="2.05" fill="#fefdfd"/>
<rect x="87.38" y="220.5" width="12.44" height="2.05" fill="#cbcbe2"/>
<rect x="99.76" y="220.5" width="12.44" height="2.05" fill="#e3e3f0"/>
<rect x="112.15" y="220.5" width="12.44" height="2.05" fill="#fcf3f4"/>
<rect x="124.54" y="220.5" width="12.44" height="2.05" fill="#cecee4"/>
<rect x="136.92" y="220.5" width="12.44" height="2.05" fill="#e7e7f2"/>
<rect x="149.31" y="220.5" width="12.44" height="2.05" fill="#fdf7f7"/>
<rect x="62.6" y="222.5" width="12.44" height="0.55" fill="#eaeaf4"/>
<rect x="74.99" y="222.5" width="12.44" height="0.55" fill="#f8e6e6"/>
<rect x="87.38" y="222.5" width="12.44" height="0.55" fill="#dad9ea"/>
<rect x="99.76" y="222.5" width="12.44" height="0.55" fill="#e8e8f2"/>
<rect x="112.15" y="222.5" width="12.44" height="0.55" fill="#e8e8f2"/>
<rect x="124.54" y="222.5" width="12.44" height="0.55" fill="#cdcde3"/>
<rect x="136.92" y="222.5" width="12.44" height="0.55" fill="#fefeff"/>
<rect x="149.31" y="222.5" width="12.44" height="0.55" fill="#f8e5e5"/>
<rect x="62.6" y="223" width="12.44" height="2.05" fill="#f7e1e1"/>
<rect x="74.99" y="223" width="12.44" height="2.05" fill="#f7e3e3"/>
<rect x="87.38" y="223" width="12.44" height="2.05" fill="#d4d4e7"/>
<rect x="99.76" y="223" width="12.44" height="2.05" fill="#fcfcfd"/>
<rect x="112.15" y="223" width="12.44" height="2.05" fill="#f2f2f8"/>
<rect x="124.54" y="223" width="12.44" height="2.05" fill="#e8e8f2"/>
<rect x="136.92" y="223" width="12.44" height="2.05" fill="#faeeee"/>
<rect x="149.31" y="223" width="12.44" height="2.05" fill="#fbf1f1"/>
<rect x="62.6" y="225" width="12.44" height="2.05" fill="#f9e8e8"/>
<rect x="74.99" y="225" width="12.44" height="2.05" fill="#fbefef"/>
<rect x="87.38" y="225" width="12.44" height="2.05" fill="#dedeed"/>
<rect x="99.76" y="225" width="12.44" height="2.05" fill="#faeded"/>
<rect x="112.15" y="225" width="12.44" height="2.05" fill="#d1d1e6"/>
<rect x="124.54" y="225" width="12.44" height="2.05" fill="#e2e2ef"/>
<rect x="136.92" y="225" width="12.44" height="2.05" fill="#ffffff"/>
<rect x="149.31" y="225" width="12.44" height="2.05" fill="#fbefef"/>
<rect x="62.6" y="227" width="12.44" height="1.05" fill="#f1cdce"/>
<rect x="74.99" y="227" width="12.44" height="1.05" fill="#f7e3e3"/>
<rect x="87.38" y="227" width="12.44" height="1.05" fill="#eae9f3"/>
<rect x="99.76" y="227" width="12.44" height="1.05" fill="#fbf0f0"/>
<rect x="112.15" y="227" width="12.44" height="1.05" fill="#f5f5fa"/>
<rect x="124.54" y="227" width="12.44" height="1.05" fill="#c9c9e1"/>
<rect x="136.92" y="227" width="12.44" height="1.05" fill="#f2f2f8"/>
<rect x="149.31" y="227" width="12.44" height="1.05" fill="#fbf0f1"/>
<rect x="62.6" y="228" width="12.44" height="2.55" fill="#f0cacb"/>
<rect x="74.99" y="228" width="12.44" height="2.55" fill="#f6dddd"/>
<rect x="87.38" y="228" width="12.44" height="2.55" fill="#ebebf4"/>
<rect x="99.76" y="228" width="12.44" height="2.55" fill="#d1d0e5"/>
<rect x="112.15" y="228" width="12.44" height="2.55" fill="#b1b0d4"/>
<rect x="124.54" y="228" width="12.44" height="2.55" fill="#cacae2"/>
<rect x="136.92" y="228" width="12.44" height="2.55" fill="#f2f2f8"/>
<rect x="149.31" y="228" width="12.44" height="2.55" fill="#fafafc"/>
<rect x="62.6" y="230.5" width="12.44" height="1.55" fill="#e9b0b2"/>
<rect x="74.99" y="230.5" width="12.44" height="1.55" fill="#f4d6d7"/>
<rect x="87.38" y="230.5" width="12.44" height="1.55" fill="#dadaeb"/>
<rect x="99.76" y="230.5" width="12.44" height="1.55" fill="#f1f1f7"/>
<rect x="112.15" y="230.5" width="12.44" height="1.55" fill="#b1b1d4"/>
<rect x="124.54" y="230.5" width="12.44" height="1.55" fill="#d6d5e8"/>
<rect x="136.92" y="230.5" width="12.44" height="1.55" fill="#fcf4f4"/>
<rect x="149.31" y="230.5" width="12.44" height="1.55" fill="#e7e7f2"/>
<rect x="62.6" y="232" width="12.44" height="1.55" fill="#ebb4b5"/>
<rect x="74.99" y="232" width="12.44" height="1.55" fill="#f8e4e5"/>
<rect x="87.38" y="232" width="12.44" height="1.55" fill="#f8f8fb"/>
<rect x="99.76" y="232" width="12.44" height="1.55" fill="#d8d8e9"/>
<rect x="112.15" y="232" width="12.44" height="1.55" fill="#bdbcda"/>
<rect x="124.54" y="232" width="12.44" height="1.55" fill="#d0d0e5"/>
<rect x="136.92" y="232" width="12.44" height="1.55" fill="#dfdfed"/>
<rect x="149.31" y="232" width="12.44" height="1.55" fill="#f5dadb"/>
<rect x="62.6" y="233.5" width="12.44" height="0.55" fill="#eab2b4"/>
<rect x="74.99" y="233.5" width="12.44" height="0.55" fill="#f4f3f9"/>
<rect x="87.38" y="233.5" width="12.44" height="0.55" fill="#ebebf4"/>
<rect x="99.76" y="233.5" width="12.44" height="0.55" fill="#eae9f3"/>
<rect x="112.15" y="233.5" width="12.44" height="0.55" fill="#c8c7e0"/>
<rect x="124.54" y="233.5" width="12.44" height="0.55" fill="#e0dfee"/>
<rect x="136.92" y="233.5" width="12.44" height="0.55" fill="#ebebf4"/>
<rect x="149.31" y="233.5" width="12.44" height="0.55" fill="#ebebf4"/>
<rect x="62.6" y="234" width="12.44" height="2.05" fill="#f0c8c9"/>
<rect x="74.99" y="234" width="12.44" height="2.05" fill="#faebeb"/>
<rect x="87.38" y="234" width="12.44" height="2.05" fill="#fdf7f7"/>
<rect x="99.76" y="234" width="12.44" height="2.05" fill="#e2e2ef"/>
<rect x="112.15" y="234" width="12.44" height="2.05" fill="#afafd3"/>
<rect x="124.54" y="234" width="12.44" height="2.05" fill="#faebeb"/>
<rect x="136.92" y="234" width="12.44" height="2.05" fill="#dadaea"/>
<rect x="149.31" y="234" width="12.44" height="2.05" fill="#d9d9ea"/>
<rect x="62.6" y="236" width="12.44" height="2.05" fill="#fbf1f2"/>
<rect x="74.99" y="236" width="12.44" height="2.05" fill="#fefcfc"/>
<rect x="87.38" y="236" width="12.44" height="2.05" fill="#fffefe"/>
<rect x="99.76" y="236" width="12.44" height="2.05" fill="#dbdbeb"/>
<rect x="112.15" y="236" width="12.44" height="2.05" fill="#a8a7cf"/>
<rect x="124.54" y="236" width="12.44" height="2.05" fill="#efc4c5"/>
<rect x="136.92" y="236" width="12.44" height="2.05" fill="#e7e6f1"/>
<rect x="149.31" y="236" width="12.44" height="2.05" fill="#fcf3f3"/>
<rect x="62.6" y="238" width="12.44" height="2.05" fill="#f1cccd"/>
<rect x="74.99" y="238" width="12.44" height="2.05" fill="#fdf9f9"/>
<rect x="87.38" y="238" width="12.44" height="2.05" fill="#fbf2f2"/>
<rect x="99.76" y="238" width="12.44" height="2.05" fill="#e2e2ef"/>
<rect x="112.15" y="238" width="12.44" height="2.05" fill="#a8a7cf"/>
<rect x="124.54" y="238" width="12.44" height="2.05" fill="#f1cdce"/>
<rect x="136.92" y="238" width="12.44" height="2.05" fill="#e3e3f0"/>
<rect x="149.31" y="238" width="12.44" height="2.05" fill="#faebec"/>
<rect x="62.6" y="240" width="12.44" height="2.55" fill="#fbf1f1"/>
<rect x="74.99" y="240" width="12.44" height="2.55" fill="#f4d6d7"/>
<rect x="87.38" y="240" width="12.44" height="2.55" fill="#e7e7f2"/>
<rect x="99.76" y="240" width="12.44" height="2.55" fill="#ededf5"/>
<rect x="112.15" y="240" width="12.44" height="2.55" fill="#fcfcfd"/>
<rect x="124.54" y="240" width="12.44" height="2.55" fill="#f8e7e7"/>
<rect x="136.92" y="240" width="12.44" height="2.55" fill="#f8f8fb"/>
<rect x="149.31" y="240" width="12.44" height="2.55" fill="#f1f1f7"/>
<rect x="62.6" y="242.5" width="12.44" height="2.05" fill="#fbeff0"/>
<rect x="74.99" y="242.5" width="12.44" height="2.05" fill="#faeeee"/>
<rect x="87.38" y="242.5" width="12.44" height="2.05" fill="#dfdeed"/>
<rect x="99.76" y="242.5" width="12.44" height="2.05" fill="#fdf7f7"/>
<rect x="112.15" y="242.5" width="12.44" height="2.05" fill="#e3e2ef"/>
<rect x="124.54" y="242.5" width="12.44" height="2.05" fill="#fdfdfe"/>
<rect x="136.92" y="242.5" width="12.44" height="2.05" fill="#f5f5fa"/>
<rect x="149.31" y="242.5" width="12.44" height="2.05" fill="#fcf3f3"/>
<rect x="62.6" y="244.5" width="12.44" height="1.05" fill="#f9eaea"/>
<rect x="74.99" y="244.5" width="12.44" height="1.05" fill="#e7e7f2"/>
<rect x="87.38" y="244.5" width="12.44" height="1.05" fill="#e1e0ee"/>
<rect x="99.76" y="244.5" width="12.44" height="1.05" fill="#f9f9fc"/>
<rect x="112.15" y="244.5" width="12.44" height="1.05" fill="#f7f7fb"/>
<rect x="124.54" y="244.5" width="12.44" height="1.05" fill="#faecec"/>
<rect x="136.92" y="244.5" width="12.44" height="1.05" fill="#fefafa"/>
<rect x="149.31" y="244.5" width="12.44" height="1.05" fill="#f5f5fa"/>
<rect x="62.6" y="245.5" width="12.44" height="1.55" fill="#fcf5f5"/>
<rect x="74.99" y="245.5" width="12.44" height="1.55" fill="#f6ddde"/>
<rect x="87.38" y="245.5" width="12.44" height="1.55" fill="#fbfbfd"/>
<rect x="99.76" y="245.5" width="12.44" height="1.55" fill="#fdf7f7"/>
<rect x="112.15" y="245.5" width="12.44" height="1.55" fill="#d2d2e6"/>
<rect x="124.54" y="245.5" width="12.44" height="1.55" fill="#ffffff"/>
<rect x="136.92" y="245.5" width="12.44" height="1.55" fill="#dedeed"/>
<rect x="149.31" y="245.5" width="12.44" height="1.55" fill="#fefcfc"/>
<rect x="62.6" y="247" width="12.44" height="1.05" fill="#f9e9e9"/>
<rect x="74.99" y="247" width="12.44" height="1.05" fill="#fcfcfe"/>
<rect x="87.38" y="247" width="12.44" height="1.05" fill="#e3e2ef"/>
<rect x="99.76" y="247" width="12.44" height="1.05" fill="#fffefe"/>
<rect x="112.15" y="247" width="12.44" height="1.05" fill="#f3f3f8"/>
<rect x="124.54" y="247" width="12.44" height="1.05" fill="#f9ebeb"/>
<rect x="136.92" y="247" width="12.44" height="1.05" fill="#fefafa"/>
<rect x="149.31" y="247" width="12.44" height="1.05" fill="#fffdfd"/>
<rect x="62.6" y="248" width="12.44" height="2.05" fill="#f5f5f9"/>
<rect x="74.99" y="248" width="12.44" height="2.05" fill="#fdf7f7"/>
<rect x="87.38" y="248" width="12.44" height="2.05" fill="#e8e8f2"/>
<rect x="99.76" y="248" width="12.44" height="2.05" fill="#fffefe"/>
<rect x="112.15" y="248" width="12.44" height="2.05" fill="#f3f3f8"/>
<rect x="124.54" y="248" width="12.44" height="2.05" fill="#f8e5e5"/>
<rect x="136.92" y="248" width="12.44" height="2.05" fill="#fdf6f7"/>
<rect x="149.31" y="248" width="12.44" height="2.05" fill="#f9e9e9"/>
<rect x="62.6" y="250" width="12.44" height="2.55" fill="#f4d7d8"/>
<rect x="74.99" y="250" width="12.44" height="2.55" fill="#faedee"/>
<rect x="87.38" y="250" width="12.44" height="2.55" fill="#fefafa"/>
<rect x="99.76" y="250" width="12.44" height="2.55" fill="#e6e6f1"/>
<rect x="112.15" y="250" width="12.44" height="2.55" fill="#e1e1ef"/>
<rect x="124.54" y="250" width="12.44" height="2.55" fill="#f9e7e8"/>
<rect x="136.92" y="250" width="12.44" height="2.55" fill="#f3f3f8"/>
<rect x="149.31" y="250" width="12.44" height="2.55" fill="#f4f3f9"/>
<rect x="62.6" y="252.5" width="12.44" height="2.05" fill="#f0c8c9"/>
<rect x="74.99" y="252.5" width="12.44" height="2.05" fill="#f7e1e2"/>
<rect x="87.38" y="252.5" width="12.44" height="2.05" fill="#f7e2e3"/>
<rect x="99.76" y="252.5" width="12.44" height="2.05" fill="#e6e6f1"/>
<rect x="112.15" y="252.5" width="12.44" height="2.05" fill="#ecebf4"/>
<rect x="124.54" y="252.5" width="12.44" height="2.05" fill="#fdfdfe"/>
<rect x="136.92" y="252.5" width="12.44" height="2.05" fill="#f4f4f9"/>
<rect x="149.31" y="252.5" width="12.44" height="2.05" fill="#e6e5f1"/>
<rect x="62.6" y="254.5" width="12.44" height="2.05" fill="#eec1c2"/>
<rect x="74.99" y="254.5" width="12.44" height="2.05" fill="#f5dcdd"/>
<rect x="87.38" y="254.5" width="12.44" height="2.05" fill="#faebeb"/>
<rect x="99.76" y="254.5" width="12.44" height="2.05" fill="#fdf9f9"/>
<rect x="112.15" y="254.5" width="12.44" height="2.05" fill="#dedeed"/>
<rect x="124.54" y="254.5" width="12.44" height="2.05" fill="#faeded"/>
<rect x="136.92" y="254.5" width="12.44" height="2.05" fill="#f1f1f7"/>
<rect x="149.31" y="254.5" width="12.44" height="2.05" fill="#e2e1ef"/>
<rect x="62.6" y="256.5" width="12.44" height="1.55" fill="#f4d6d7"/>
<rect x="74.99" y="256.5" width="12.44" height="1.55" fill="#f3d3d3"/>
<rect x="87.38" y="256.5" width="12.44" height="1.55" fill="#ffffff"/>
<rect x="99.76" y="256.5" width="12.44" height="1.55" fill="#fbfbfd"/>
<rect x="112.15" y="256.5" width="12.44" height="1.55" fill="#d0d0e5"/>
<rect x="124.54" y="256.5" width="12.44" height="1.55" fill="#faebeb"/>
<rect x="136.92" y="256.5" width="12.44" height="1.55" fill="#fcfcfd"/>
<rect x="149.31" y="256.5" width="12.44" height="1.55" fill="#f6f6fa"/>
<rect x="62.6" y="258" width="12.44" height="1.05" fill="#e6a2a3"/>
<rect x="74.99" y="258" width="12.44" height="1.05" fill="#f1cccc"/>
<rect x="87.38" y="258" width="12.44" height="1.05" fill="#fafafc"/>
<rect x="99.76" y="258" width="12.44" height="1.05" fill="#f8e4e5"/>
<rect x="112.15" y="258" width="12.44" height="1.05" fill="#eaeaf3"/>
<rect x="124.54" y="258" width="12.44" height="1.05" fill="#e3e3ef"/>
<rect x="136.92" y="258" width="12.44" height="1.05" fill="#fcf5f5"/>
<rect x="149.31" y="258" width="12.44" height="1.05" fill="#f2f2f8"/>
<rect x="62.6" y="259" width="12.44" height="2.05" fill="#ebb5b6"/>
<rect x="74.99" y="259" width="12.44" height="2.05" fill="#e8aaac"/>
<rect x="87.38" y="259" width="12.44" height="2.05" fill="#e9e8f3"/>
<rect x="99.76" y="259" width="12.44" height="2.05" fill="#e3e3f0"/>
<rect x="112.15" y="259" width="12.44" height="2.05" fill="#f8f8fb"/>
<rect x="124.54" y="259" width="12.44" height="2.05" fill="#e9e9f3"/>
<rect x="136.92" y="259" width="12.44" height="2.05" fill="#faeeee"/>
<rect x="149.31" y="259" width="12.44" height="2.05" fill="#f9f9fb"/>
<rect x="62.6" y="261" width="12.44" height="2.05" fill="#e59ea0"/>
<rect x="74.99" y="261" width="12.44" height="2.05" fill="#f0c7c8"/>
<rect x="87.38" y="261" width="12.44" height="2.05" fill="#ffffff"/>
<rect x="99.76" y="261" width="12.44" height="2.05" fill="#fefbfb"/>
<rect x="112.15" y="261" width="12.44" height="2.05" fill="#d0d0e5"/>
<rect x="124.54" y="261" width="12.44" height="2.05" fill="#ececf5"/>
<rect x="136.92" y="261" width="12.44" height="2.05" fill="#f8e6e6"/>
<rect x="149.31" y="261" width="12.44" height="2.05" fill="#f8e4e5"/>
<rect x="62.6" y="263" width="12.44" height="2.05" fill="#e5a1a3"/>
<rect x="74.99" y="263" width="12.44" height="2.05" fill="#f5dcdc"/>
<rect x="87.38" y="263" width="12.44" height="2.05" fill="#f5f4f9"/>
<rect x="99.76" y="263" width="12.44" height="2.05" fill="#eaeaf3"/>
<rect x="112.15" y="263" width="12.44" height="2.05" fill="#ececf5"/>
<rect x="124.54" y="263" width="12.44" height="2.05" fill="#f8f8fb"/>
<rect x="136.92" y="263" width="12.44" height="2.05" fill="#fbf0f1"/>
<rect x="149.31" y="263" width="12.44" height="2.05" fill="#f9f9fc"/>
<rect x="62.6" y="265" width="12.44" height="1.55" fill="#ebb5b6"/>
<rect x="74.99" y="265" width="12.44" height="1.55" fill="#edbdbe"/>
<rect x="87.38" y="265" width="12.44" height="1.55" fill="#ededf5"/>
<rect x="99.76" y="265" width="12.44" height="1.55" fill="#fefeff"/>
<rect x="112.15" y="265" width="12.44" height="1.55" fill="#e0dfee"/>
<rect x="124.54" y="265" width="12.44" height="1.55" fill="#ededf5"/>
<rect x="136.92" y="265" width="12.44" height="1.55" fill="#f9e9e9"/>
<rect x="149.31" y="265" width="12.44" height="1.55" fill="#fbf1f1"/>
<rect x="62.6" y="266.5" width="12.44" height="1.05" fill="#e5a1a3"/>
<rect x="74.99" y="266.5" width="12.44" height="1.05" fill="#efc4c5"/>
<rect x="87.38" y="266.5" width="12.44" height="1.05" fill="#fdf9f9"/>
<rect x="99.76" y="266.5" width="12.44" height="1.05" fill="#f6f6fa"/>
<rect x="112.15" y="266.5" width="12.44" height="1.05" fill="#dbdbeb"/>
<rect x="124.54" y="266.5" width="12.44" height="1.05" fill="#ebebf4"/>
<rect x="136.92" y="266.5" width="12.44" height="1.05" fill="#fefdfd"/>
<rect x="149.31" y="266.5" width="12.44" height="1.05" fill="#fefbfb"/>
<rect x="62.6" y="267.5" width="12.44" height="0.55" fill="#f2cfcf"/>
<rect x="74.99" y="267.5" width="12.44" height="0.55" fill="#ecbabc"/>
<rect x="87.38" y="267.5" width="12.44" height="0.55" fill="#fefdfd"/>
<rect x="99.76" y="267.5" width="12.44" height="0.55" fill="#fdf8f8"/>
<rect x="112.15" y="267.5" width="12.44" height="0.55" fill="#f6f6fa"/>
<rect x="124.54" y="267.5" width="12.44" height="0.55" fill="#d2d1e6"/>
<rect x="136.92" y="267.5" width="12.44" height="0.55" fill="#fbefef"/>
<rect x="149.31" y="267.5" width="12.44" height="0.55" fill="#f3f3f8"/>
<rect x="62.6" y="268" width="12.44" height="2.05" fill="#f8e5e5"/>
<rect x="74.99" y="268" width="12.44" height="2.05" fill="#fbf0f0"/>
<rect x="87.38" y="268" width="12.44" height="2.05" fill="#eaeaf3"/>
<rect x="99.76" y="268" width="12.44" height="2.05" fill="#e1e0ee"/>
<rect x="112.15" y="268" width="12.44" height="2.05" fill="#ffffff"/>
<rect x="124.54" y="268" width="12.44" height="2.05" fill="#fcf3f3"/>
<rect x="136.92" y="268" width="12.44" height="2.05" fill="#faecec"/>
<rect x="149.31" y="268" width="12.44" height="2.05" fill="#f7e3e4"/>
<rect x="62.6" y="270" width="12.44" height="2.55" fill="#f3d5d5"/>
<rect x="74.99" y="270" width="12.44" height="2.55" fill="#f8e4e4"/>
<rect x="87.38" y="270" width="12.44" height="2.55" fill="#ebeaf4"/>
<rect x="99.76" y="270" width="12.44" height="2.55" fill="#f6f6fa"/>
<rect x="112.15" y="270" width="12.44" height="2.55" fill="#eae9f3"/>
<rect x="124.54" y="270" width="12.44" height="2.55" fill="#fbfbfd"/>
<rect x="136.92" y="270" width="12.44" height="2.55" fill="#fbf0f1"/>
<rect x="149.31" y="270" width="12.44" height="2.55" fill="#fcf4f5"/>
<rect x="62.6" y="272.5" width="12.44" height="1.05" fill="#f0c8c9"/>
<rect x="74.99" y="272.5" width="12.44" height="1.05" fill="#f6dedf"/>
<rect x="87.38" y="272.5" width="12.44" height="1.05" fill="#f7f7fa"/>
<rect x="99.76" y="272.5" width="12.44" height="1.05" fill="#d1d0e5"/>
<rect x="112.15" y="272.5" width="12.44" height="1.05" fill="#fefbfb"/>
<rect x="124.54" y="272.5" width="12.44" height="1.05" fill="#fdfdfe"/>
<rect x="136.92" y="272.5" width="12.44" height="1.05" fill="#fdfdfe"/>
<rect x="149.31" y="272.5" width="12.44" height="1.05" fill="#fdf7f7"/>
<rect x="62.6" y="273.5" width="12.44" height="1.55" fill="#fbeff0"/>
<rect x="74.99" y="273.5" width="12.44" height="1.55" fill="#fefbfb"/>
<rect x="87.38" y="273.5" width="12.44" height="1.55" fill="#ededf5"/>
<rect x="99.76" y="273.5" width="12.44" height="1.55" fill="#f0f0f7"/>
<rect x="112.15" y="273.5" width="12.44" height="1.55" fill="#f6f6fa"/>
<rect x="124.54" y="273.5" width="12.44" height="1.55" fill="#fefeff"/>
<rect x="136.92" y="273.5" width="12.44" height="1.55" fill="#eaeaf4"/>
<rect x="149.31" y="273.5" width="12.44" height="1.55" fill="#efeff6"/>
<rect x="62.6" y="275" width="12.44" height="1.05" fill="#b9b8d8"/>
<rect x="74.99" y="275" width="12.44" height="1.05" fill="#b5b5d6"/>
<rect x="87.38" y="275" width="12.44" height="1.05" fill="#c9c8e1"/>
<rect x="99.76" y="275" width="12.44" height="1.05" fill="#b6b5d7"/>
<rect x="112.15" y="275" width="12.44" height="1.05" fill="#c1c1dd"/>
<rect x="124.54" y="275" width="12.44" height="1.05" fill="#c3c3de"/>
<rect x="136.92" y="275" width="12.44" height="1.05" fill="#eeeef6"/>
<rect x="149.31" y="275" width="12.44" height="1.05" fill="#fcf3f3"/>
<rect x="62.6" y="276" width="12.44" height="2.55" fill="#a5a4cd"/>
<rect x="74.99" y="276" width="12.44" height="2.55" fill="#8887bd"/>
<rect x="87.38" y="276" width="12.44" height="2.55" fill="#dbdbeb"/>
<rect x="99.76" y="276" width="12.44" height="2.55" fill="#a4a3cc"/>
<rect x="112.15" y="276" width="12.44" height="2.55" fill="#bbbad9"/>
<rect x="124.54" y="276" width="12.44" height="2.55" fill="#c5c5df"/>
<rect x="136.92" y="276" width="12.44" height="2.55" fill="#e6e6f1"/>
<rect x="149.31" y="276" width="12.44" height="2.55" fill="#fbfbfd"/>
<rect x="62.6" y="278.5" width="12.44" height="0.55" fill="#aeaed2"/>
<rect x="74.99" y="278.5" width="12.44" height="0.55" fill="#9796c5"/>
<rect x="87.38" y="278.5" width="12.44" height="0.55" fill="#d7d6e9"/>
<rect x="99.76" y="278.5" width="12.44" height="0.55" fill="#c0bfdc"/>
<rect x="112.15" y="278.5" width="12.44" height="0.55" fill="#b8b7d8"/>
<rect x="124.54" y="278.5" width="12.44" height="0.55" fill="#c9c8e1"/>
<rect x="136.92" y="278.5" width="12.44" height="0.55" fill="#e7e6f1"/>
<rect x="149.31" y="278.5" width="12.44" height="0.55" fill="#fafafc"/>
<rect x="62.6" y="279" width="12.44" height="1.55" fill="#474699"/>
<rect x="74.99" y="279" width="12.44" height="1.55" fill="#908fc2"/>
<rect x="87.38" y="279" width="12.44" height="1.55" fill="#5c5aa5"/>
<rect x="99.76" y="279" width="12.44" height="1.55" fill="#8886bd"/>
<rect x="112.15" y="279" width="12.44" height="1.55" fill="#4d4b9c"/>
<rect x="124.54" y="279" width="12.44" height="1.55" fill="#48469a"/>
<rect x="136.92" y="279" width="12.44" height="1.55" fill="#e1e1ef"/>
<rect x="149.31" y="279" width="12.44" height="1.55" fill="#dadaeb"/>
<rect x="62.6" y="280.5" width="12.44" height="1.55" fill="#373590"/>
<rect x="74.99" y="280.5" width="12.44" height="1.55" fill="#9897c6"/>
<rect x="87.38" y="280.5" width="12.44" height="1.55" fill="#5452a0"/>
<rect x="99.76" y="280.5" width="12.44" height="1.55" fill="#8988be"/>
<rect x="112.15" y="280.5" width="12.44" height="1.55" fill="#5957a3"/>
<rect x="124.54" y="280.5" width="12.44" height="1.55" fill="#5c5ba5"/>
<rect x="136.92" y="280.5" width="12.44" height="1.55" fill="#e3e3ef"/>
<rect x="149.31" y="280.5" width="12.44" height="1.55" fill="#fbfbfd"/>
<rect x="62.6" y="282" width="12.44" height="1.55" fill="#7b7ab6"/>
<rect x="74.99" y="282" width="12.44" height="1.55" fill="#b6b5d7"/>
<rect x="87.38" y="282" width="12.44" height="1.55" fill="#c0bfdc"/>
<rect x="99.76" y="282" width="12.44" height="1.55" fill="#ebebf4"/>
<rect x="112.15" y="282" width="12.44" height="1.55" fill="#a09fcb"/>
<rect x="124.54" y="282" width="12.44" height="1.55" fill="#dcdbeb"/>
<rect x="136.92" y="282" width="12.44" height="1.55" fill="#fefefe"/>
<rect x="149.31" y="282" width="12.44" height="1.55" fill="#f9e7e8"/>
<rect x="62.6" y="283.5" width="12.44" height="2.05" fill="#a6a5ce"/>
<rect x="74.99" y="283.5" width="12.44" height="2.05" fill="#b4b3d6"/>
<rect x="87.38" y="283.5" width="12.44" height="2.05" fill="#cdcde3"/>
<rect x="99.76" y="283.5" width="12.44" height="2.05" fill="#e7e6f1"/>
<rect x="112.15" y="283.5" width="12.44" height="2.05" fill="#b0b0d4"/>
<rect x="124.54" y="283.5" width="12.44" height="2.05" fill="#e3e3f0"/>
<rect x="136.92" y="283.5" width="12.44" height="2.05" fill="#c9c8e1"/>
<rect x="149.31" y="283.5" width="12.44" height="2.05" fill="#faeeee"/>
<rect x="62.6" y="285.5" width="12.44" height="1.05" fill="#8180b9"/>
<rect x="74.99" y="285.5" width="12.44" height="1.05" fill="#bab9d9"/>
<rect x="87.38" y="285.5" width="12.44" height="1.05" fill="#e1e0ee"/>
<rect x="99.76" y="285.5" width="12.44" height="1.05" fill="#bfbfdc"/>
<rect x="112.15" y="285.5" width="12.44" height="1.05" fill="#a09fca"/>
<rect x="124.54" y="285.5" width="12.44" height="1.05" fill="#f5f5f9"/>
<rect x="136.92" y="285.5" width="12.44" height="1.05" fill="#fcf2f3"/>
<rect x="149.31" y="285.5" width="12.44" height="1.05" fill="#f6e0e0"/>
<rect x="62.6" y="286.5" width="12.44" height="2.05" fill="#b4b4d6"/>
<rect x="74.99" y="286.5" width="12.44" height="2.05" fill="#b4b4d6"/>
<rect x="87.38" y="286.5" width="12.44" height="2.05" fill="#c1c0dd"/>
<rect x="99.76" y="286.5" width="12.44" height="2.05" fill="#efeff6"/>
<rect x="112.15" y="286.5" width="12.44" height="2.05" fill="#9594c4"/>
<rect x="124.54" y="286.5" width="12.44" height="2.05" fill="#c6c6e0"/>
<rect x="136.92" y="286.5" width="12.44" height="2.05" fill="#f9f9fc"/>
<rect x="149.31" y="286.5" width="12.44" height="2.05" fill="#f3d1d2"/>
<rect x="62.6" y="288.5" width="12.44" height="0.55" fill="#8584bb"/>
<rect x="74.99" y="288.5" width="12.44" height="0.55" fill="#9b9ac7"/>
<rect x="87.38" y="288.5" width="12.44" height="0.55" fill="#dfdfed"/>
<rect x="99.76" y="288.5" width="12.44" height="0.55" fill="#eae9f3"/>
<rect x="112.15" y="288.5" width="12.44" height="0.55" fill="#a5a4cd"/>
<rect x="124.54" y="288.5" width="12.44" height="0.55" fill="#d8d7e9"/>
<rect x="136.92" y="288.5" width="12.44" height="0.55" fill="#f3f3f8"/>
<rect x="149.31" y="288.5" width="12.44" height="0.55" fill="#faeded"/>
<rect x="62.6" y="289" width="12.44" height="2.05" fill="#eaeaf4"/>
<rect x="74.99" y="289" width="12.44" height="2.05" fill="#f3f3f8"/>
<rect x="87.38" y="289" width="12.44" height="2.05" fill="#f5f4f9"/>
<rect x="99.76" y="289" width="12.44" height="2.05" fill="#cbcbe2"/>
<rect x="112.15" y="289" width="12.44" height="2.05" fill="#f5f5fa"/>
<rect x="124.54" y="289" width="12.44" height="2.05" fill="#fefafa"/>
<rect x="136.92" y="289" width="12.44" height="2.05" fill="#ffffff"/>
<rect x="149.31" y="289" width="12.44" height="2.05" fill="#fbfbfd"/>
<rect x="62.6" y="291" width="12.44" height="2.05" fill="#f1f1f7"/>
<rect x="74.99" y="291" width="12.44" height="2.05" fill="#f8f8fb"/>
<rect x="87.38" y="291" width="12.44" height="2.05" fill="#e5e5f1"/>
<rect x="99.76" y="291" width="12.44" height="2.05" fill="#e4e4f0"/>
<rect x="112.15" y="291" width="12.44" height="2.05" fill="#ddddec"/>
<rect x="124.54" y="291" width="12.44" height="2.05" fill="#fbefef"/>
<rect x="136.92" y="291" width="12.44" height="2.05" fill="#f1f1f7"/>
<rect x="149.31" y="291" width="12.44" height="2.05" fill="#f7f7fb"/>
<rect x="62.6" y="293" width="12.44" height="2.05" fill="#d3d3e7"/>
<rect x="74.99" y="293" width="12.44" height="2.05" fill="#f0f0f7"/>
<rect x="87.38" y="293" width="12.44" height="2.05" fill="#fbefef"/>
<rect x="99.76" y="293" width="12.44" height="2.05" fill="#eeeef5"/>
<rect x="112.15" y="293" width="12.44" height="2.05" fill="#d7d7e9"/>
<rect x="124.54" y="293" width="12.44" height="2.05" fill="#fffefe"/>
<rect x="136.92" y="293" width="12.44" height="2.05" fill="#fefdfd"/>
<rect x="149.31" y="293" width="12.44" height="2.05" fill="#e5e5f1"/>
<rect x="62.6" y="295" width="12.44" height="2.05" fill="#f1f0f7"/>
<rect x="74.99" y="295" width="12.44" height="2.05" fill="#d3d3e7"/>
<rect x="87.38" y="295" width="12.44" height="2.05" fill="#f5f5f9"/>
<rect x="99.76" y="295" width="12.44" height="2.05" fill="#eeeef6"/>
<rect x="112.15" y="295" width="12.44" height="2.05" fill="#d9d9ea"/>
<rect x="124.54" y="295" width="12.44" height="2.05" fill="#fcf3f3"/>
<rect x="136.92" y="295" width="12.44" height="2.05" fill="#fdf9f9"/>
<rect x="149.31" y="295" width="12.44" height="2.05" fill="#eeeef6"/>
<rect x="62.6" y="297" width="12.44" height="1.05" fill="#eaeaf3"/>
<rect x="74.99" y="297" width="12.44" height="1.05" fill="#ededf5"/>
<rect x="87.38" y="297" width="12.44" height="1.05" fill="#fdf8f9"/>
<rect x="99.76" y="297" width="12.44" height="1.05" fill="#e5e4f0"/>
<rect x="112.15" y="297" width="12.44" height="1.05" fill="#e1e1ef"/>
<rect x="124.54" y="297" width="12.44" height="1.05" fill="#f9f9fc"/>
<rect x="136.92" y="297" width="12.44" height="1.05" fill="#ffffff"/>
<rect x="149.31" y="297" width="12.44" height="1.05" fill="#dfdfed"/>
<rect x="62.6" y="298" width="12.44" height="1.55" fill="#e8e8f2"/>
<rect x="74.99" y="298" width="12.44" height="1.55" fill="#ecebf4"/>
<rect x="87.38" y="298" width="12.44" height="1.55" fill="#e8e8f2"/>
<rect x="99.76" y="298" width="12.44" height="1.55" fill="#dcdbeb"/>
<rect x="112.15" y="298" width="12.44" height="1.55" fill="#e9e8f3"/>
<rect x="124.54" y="298" width="12.44" height="1.55" fill="#fefafa"/>
<rect x="136.92" y="298" width="12.44" height="1.55" fill="#fcf5f5"/>
<rect x="149.31" y="298" width="12.44" height="1.55" fill="#f7f7fa"/>
<rect x="62.6" y="299.5" width="12.44" height="0.55" fill="#d9d9ea"/>
<rect x="74.99" y="299.5" width="12.44" height="0.55" fill="#d5d4e8"/>
<rect x="87.38" y="299.5" width="12.44" height="0.55" fill="#ffffff"/>
<rect x="99.76" y="299.5" width="12.44" height="0.55" fill="#fdf7f7"/>
<rect x="112.15" y="299.5" width="12.44" height="0.55" fill="#dad9ea"/>
<rect x="124.54" y="299.5" width="12.44" height="0.55" fill="#f8f8fb"/>
<rect x="136.92" y="299.5" width="12.44" height="0.55" fill="#f6f6fa"/>
<rect x="149.31" y="299.5" width="12.44" height="0.55" fill="#faebeb"/>
<rect x="62.6" y="300" width="12.44" height="2.05" fill="#fcf3f3"/>
<rect x="74.99" y="300" width="12.44" height="2.05" fill="#f9eaeb"/>
<rect x="87.38" y="300" width="12.44" height="2.05" fill="#f6e0e0"/>
<rect x="99.76" y="300" width="12.44" height="2.05" fill="#fdf7f7"/>
<rect x="112.15" y="300" width="12.44" height="2.05" fill="#f9ebeb"/>
<rect x="124.54" y="300" width="12.44" height="2.05" fill="#f4d6d7"/>
<rect x="136.92" y="300" width="12.44" height="2.05" fill="#fdfdfe"/>
<rect x="149.31" y="300" width="12.44" height="2.05" fill="#fefbfb"/>
<rect x="62.6" y="302" width="12.44" height="1.55" fill="#ededf5"/>
<rect x="74.99" y="302" width="12.44" height="1.55" fill="#faecec"/>
<rect x="87.38" y="302" width="12.44" height="1.55" fill="#faecec"/>
<rect x="99.76" y="302" width="12.44" height="1.55" fill="#f7e3e4"/>
<rect x="112.15" y="302" width="12.44" height="1.55" fill="#fffefe"/>
<rect x="124.54" y="302" width="12.44" height="1.55" fill="#f4d5d6"/>
<rect x="136.92" y="302" width="12.44" height="1.55" fill="#fdfdfe"/>
<rect x="149.31" y="302" width="12.44" height="1.55" fill="#f7e3e4"/>
<rect x="62.6" y="303.5" width="12.44" height="1.05" fill="#f6f6fa"/>
<rect x="74.99" y="303.5" width="12.44" height="1.05" fill="#fafafc"/>
<rect x="87.38" y="303.5" width="12.44" height="1.05" fill="#f5dbdb"/>
<rect x="99.76" y="303.5" width="12.44" height="1.05" fill="#fefefe"/>
<rect x="112.15" y="303.5" width="12.44" height="1.05" fill="#f8f8fb"/>
<rect x="124.54" y="303.5" width="12.44" height="1.05" fill="#fdf9f9"/>
<rect x="136.92" y="303.5" width="12.44" height="1.05" fill="#f4d7d7"/>
<rect x="149.31" y="303.5" width="12.44" height="1.05" fill="#f7e0e0"/>
<rect x="62.6" y="304.5" width="12.44" height="2.05" fill="#fefefe"/>
<rect x="74.99" y="304.5" width="12.44" height="2.05" fill="#f6f6fa"/>
<rect x="87.38" y="304.5" width="12.44" height="2.05" fill="#fcf4f4"/>
<rect x="99.76" y="304.5" width="12.44" height="2.05" fill="#f8e7e7"/>
<rect x="112.15" y="304.5" width="12.44" height="2.05" fill="#f7e0e1"/>
<rect x="124.54" y="304.5" width="12.44" height="2.05" fill="#f6dede"/>
<rect x="136.92" y="304.5" width="12.44" height="2.05" fill="#fcf5f5"/>
<rect x="149.31" y="304.5" width="12.44" height="2.05" fill="#fdf9f9"/>
<rect x="62.6" y="306.5" width="12.44" height="2.55" fill="#ffffff"/>
<rect x="74.99" y="306.5" width="12.44" height="2.55" fill="#fffefe"/>
<rect x="87.38" y="306.5" width="12.44" height="2.55" fill="#f8e4e4"/>
<rect x="99.76" y="306.5" width="12.44" height="2.55" fill="#fefdfd"/>
<rect x="112.15" y="306.5" width="12.44" height="2.55" fill="#f8f7fb"/>
<rect x="124.54" y="306.5" width="12.44" height="2.55" fill="#f2f2f8"/>
<rect x="136.92" y="306.5" width="12.44" height="2.55" fill="#ececf4"/>
<rect x="149.31" y="306.5" width="12.44" height="2.55" fill="#f4f3f9"/>
<rect x="62.6" y="309" width="12.44" height="2.05" fill="#fcfcfe"/>
<rect x="74.99" y="309" width="12.44" height="2.05" fill="#ecebf4"/>
<rect x="87.38" y="309" width="12.44" height="2.05" fill="#f8e7e7"/>
<rect x="99.76" y="309" width="12.44" height="2.05" fill="#f8e4e5"/>
<rect x="112.15" y="309" width="12.44" height="2.05" fill="#fcf5f5"/>
<rect x="124.54" y="309" width="12.44" height="2.05" fill="#fcf5f5"/>
<rect x="136.92" y="309" width="12.44" height="2.05" fill="#fcfcfd"/>
<rect x="149.31" y="309" width="12.44" height="2.05" fill="#fefbfb"/>
<rect x="62.6" y="311" width="12.44" height="1.05" fill="#fefcfc"/>
<rect x="74.99" y="311" width="12.44" height="1.05" fill="#f7e2e2"/>
<rect x="87.38" y="311" width="12.44" height="1.05" fill="#f9e8e8"/>
<rect x="99.76" y="311" width="12.44" height="1.05" fill="#fbf1f2"/>
<rect x="112.15" y="311" width="12.44" height="1.05" fill="#faeeee"/>
<rect x="124.54" y="311" width="12.44" height="1.05" fill="#f7e3e4"/>
<rect x="136.92" y="311" width="12.44" height="1.05" fill="#f8f8fb"/>
<rect x="149.31" y="311" width="12.44" height="1.05" fill="#fdf6f6"/>
<rect x="62.6" y="312" width="12.44" height="2.55" fill="#e8e8f2"/>
<rect x="74.99" y="312" width="12.44" height="2.55" fill="#d8d8e9"/>
<rect x="87.38" y="312" width="12.44" height="2.55" fill="#fcf4f5"/>
<rect x="99.76" y="312" width="12.44" height="2.55" fill="#f3d3d3"/>
<rect x="112.15" y="312" width="12.44" height="2.55" fill="#f9e8e8"/>
<rect x="124.54" y="312" width="12.44" height="2.55" fill="#f3d4d5"/>
<rect x="136.92" y="312" width="12.44" height="2.55" fill="#fdf7f7"/>
<rect x="149.31" y="312" width="12.44" height="2.55" fill="#e3e3f0"/>
<rect x="62.6" y="314.5" width="12.44" height="2.05" fill="#fcfcfe"/>
<rect x="74.99" y="314.5" width="12.44" height="2.05" fill="#dddcec"/>
<rect x="87.38" y="314.5" width="12.44" height="2.05" fill="#f1cdce"/>
<rect x="99.76" y="314.5" width="12.44" height="2.05" fill="#fffefe"/>
<rect x="112.15" y="314.5" width="12.44" height="2.05" fill="#fcf4f4"/>
<rect x="124.54" y="314.5" width="12.44" height="2.05" fill="#f2cfd0"/>
<rect x="136.92" y="314.5" width="12.44" height="2.05" fill="#f9e8e8"/>
<rect x="149.31" y="314.5" width="12.44" height="2.05" fill="#fbfbfd"/>
<rect x="62.6" y="316.5" width="12.44" height="2.55" fill="#fbfafd"/>
<rect x="74.99" y="316.5" width="12.44" height="2.55" fill="#c4c3de"/>
<rect x="87.38" y="316.5" width="12.44" height="2.55" fill="#fcf4f4"/>
<rect x="99.76" y="316.5" width="12.44" height="2.55" fill="#fcf4f4"/>
<rect x="112.15" y="316.5" width="12.44" height="2.55" fill="#fefcfc"/>
<rect x="124.54" y="316.5" width="12.44" height="2.55" fill="#f5d9da"/>
<rect x="136.92" y="316.5" width="12.44" height="2.55" fill="#ffffff"/>
<rect x="149.31" y="316.5" width="12.44" height="2.55" fill="#fafafc"/>
<rect x="62.6" y="319" width="12.44" height="1.05" fill="#dcdbeb"/>
<rect x="74.99" y="319" width="12.44" height="1.05" fill="#cdcde4"/>
<rect x="87.38" y="319" width="12.44" height="1.05" fill="#f6e0e0"/>
<rect x="99.76" y="319" width="12.44" height="1.05" fill="#f8e4e4"/>
<rect x="112.15" y="319" width="12.44" height="1.05" fill="#f9e9e9"/>
<rect x="124.54" y="319" width="12.44" height="1.05" fill="#f5d9da"/>
<rect x="136.92" y="319" width="12.44" height="1.05" fill="#ddddec"/>
<rect x="149.31" y="319" width="12.44" height="1.05" fill="#eeeef6"/>
<rect x="62.6" y="320" width="12.44" height="1.55" fill="#efeff6"/>
<rect x="74.99" y="320" width="12.44" height="1.55" fill="#fbefef"/>
<rect x="87.38" y="320" width="12.44" height="1.55" fill="#f5dcdc"/>
<rect x="99.76" y="320" width="12.44" height="1.55" fill="#f6dfe0"/>
<rect x="112.15" y="320" width="12.44" height="1.55" fill="#f9eaea"/>
<rect x="124.54" y="320" width="12.44" height="1.55" fill="#f1cbcc"/>
<rect x="136.92" y="320" width="12.44" height="1.55" fill="#fdf7f8"/>
<rect x="149.31" y="320" width="12.44" height="1.55" fill="#f2f2f8"/>
<rect x="62.6" y="321.5" width="12.44" height="1.05" fill="#f8e5e6"/>
<rect x="74.99" y="321.5" width="12.44" height="1.05" fill="#fefafa"/>
<rect x="87.38" y="321.5" width="12.44" height="1.05" fill="#f7e1e1"/>
<rect x="99.76" y="321.5" width="12.44" height="1.05" fill="#f1cacb"/>
<rect x="112.15" y="321.5" width="12.44" height="1.05" fill="#f7e3e4"/>
<rect x="124.54" y="321.5" width="12.44" height="1.05" fill="#f1cbcb"/>
<rect x="136.92" y="321.5" width="12.44" height="1.05" fill="#faecec"/>
<rect x="149.31" y="321.5" width="12.44" height="1.05" fill="#efeff6"/>
<rect x="62.6" y="322.5" width="12.44" height="2.05" fill="#f8e6e7"/>
<rect x="74.99" y="322.5" width="12.44" height="2.05" fill="#f0c9c9"/>
<rect x="87.38" y="322.5" width="12.44" height="2.05" fill="#f2cfcf"/>
<rect x="99.76" y="322.5" width="12.44" height="2.05" fill="#ebb6b7"/>
<rect x="112.15" y="322.5" width="12.44" height="2.05" fill="#edbec0"/>
<rect x="124.54" y="322.5" width="12.44" height="2.05" fill="#eebfc0"/>
<rect x="136.92" y="322.5" width="12.44" height="2.05" fill="#f2cfd0"/>
<rect x="149.31" y="322.5" width="12.44" height="2.05" fill="#e2e2ef"/>
<rect x="62.6" y="324.5" width="12.44" height="2.05" fill="#fcfcfd"/>
<rect x="74.99" y="324.5" width="12.44" height="2.05" fill="#f9f9fc"/>
<rect x="87.38" y="324.5" width="12.44" height="2.05" fill="#f6ddde"/>
<rect x="99.76" y="324.5" width="12.44" height="2.05" fill="#f3d3d3"/>
<rect x="112.15" y="324.5" width="12.44" height="2.05" fill="#f3d2d3"/>
<rect x="124.54" y="324.5" width="12.44" height="2.05" fill="#f9eaea"/>
<rect x="136.92" y="324.5" width="12.44" height="2.05" fill="#fcf4f4"/>
<rect x="149.31" y="324.5" width="12.44" height="2.05" fill="#fcf5f5"/>
<rect x="62.6" y="326.5" width="12.44" height="1.55" fill="#faeeef"/>
<rect x="74.99" y="326.5" width="12.44" height="1.55" fill="#fbeff0"/>
<rect x="87.38" y="326.5" width="12.44" height="1.55" fill="#edbcbd"/>
<rect x="99.76" y="326.5" width="12.44" height="1.55" fill="#e9aeb0"/>
<rect x="112.15" y="326.5" width="12.44" height="1.55" fill="#f2d1d2"/>
<rect x="124.54" y="326.5" width="12.44" height="1.55" fill="#f7e0e0"/>
<rect x="136.92" y="326.5" width="12.44" height="1.55" fill="#f6dedf"/>
<rect x="149.31" y="326.5" width="12.44" height="1.55" fill="#faeeee"/>
<rect x="62.6" y="328" width="12.44" height="1.55" fill="#fcf4f5"/>
<rect x="74.99" y="328" width="12.44" height="1.55" fill="#fbfbfd"/>
<rect x="87.38" y="328" width="12.44" height="1.55" fill="#f1cbcb"/>
<rect x="99.76" y="328" width="12.44" height="1.55" fill="#e8aaab"/>
<rect x="112.15" y="328" width="12.44" height="1.55" fill="#f9e8e8"/>
<rect x="124.54" y="328" width="12.44" height="1.55" fill="#f9e9e9"/>
<rect x="136.92" y="328" width="12.44" height="1.55" fill="#f6f6fa"/>
<rect x="149.31" y="328" width="12.44" height="1.55" fill="#cecee4"/>
<rect x="62.6" y="329.5" width="12.44" height="2.05" fill="#ededf5"/>
<rect x="74.99" y="329.5" width="12.44" height="2.05" fill="#fcf6f6"/>
<rect x="87.38" y="329.5" width="12.44" height="2.05" fill="#f0c9ca"/>
<rect x="99.76" y="329.5" width="12.44" height="2.05" fill="#f1cdce"/>
<rect x="112.15" y="329.5" width="12.44" height="2.05" fill="#f1cbcc"/>
<rect x="124.54" y="329.5" width="12.44" height="2.05" fill="#f5dadb"/>
<rect x="136.92" y="329.5" width="12.44" height="2.05" fill="#f6dcdd"/>
<rect x="149.31" y="329.5" width="12.44" height="2.05" fill="#e1e1ee"/>
<rect x="62.6" y="331.5" width="12.44" height="2.05" fill="#fbfbfd"/>
<rect x="74.99" y="331.5" width="12.44" height="2.05" fill="#fffefe"/>
<rect x="87.38" y="331.5" width="12.44" height="2.05" fill="#efc5c6"/>
<rect x="99.76" y="331.5" width="12.44" height="2.05" fill="#f3d2d3"/>
<rect x="112.15" y="331.5" width="12.44" height="2.05" fill="#f2cfd0"/>
<rect x="124.54" y="331.5" width="12.44" height="2.05" fill="#f4d5d6"/>
<rect x="136.92" y="331.5" width="12.44" height="2.05" fill="#f8e4e5"/>
<rect x="149.31" y="331.5" width="12.44" height="2.05" fill="#edecf5"/>
<rect x="62.6" y="333.5" width="12.44" height="1.55" fill="#fefefe"/>
<rect x="74.99" y="333.5" width="12.44" height="1.55" fill="#fefdfd"/>
<rect x="87.38" y="333.5" width="12.44" height="1.55" fill="#edbebf"/>
<rect x="99.76" y="333.5" width="12.44" height="1.55" fill="#edbbbc"/>
<rect x="112.15" y="333.5" width="12.44" height="1.55" fill="#f2d1d2"/>
<rect x="124.54" y="333.5" width="12.44" height="1.55" fill="#f4d5d6"/>
<rect x="136.92" y="333.5" width="12.44" height="1.55" fill="#f3d3d4"/>
<rect x="149.31" y="333.5" width="12.44" height="1.55" fill="#fbfbfd"/>
<rect x="62.6" y="335" width="12.44" height="1.05" fill="#fcf2f3"/>
<rect x="74.99" y="335" width="12.44" height="1.05" fill="#f3d3d4"/>
<rect x="87.38" y="335" width="12.44" height="1.05" fill="#f8e4e5"/>
<rect x="99.76" y="335" width="12.44" height="1.05" fill="#f3d2d3"/>
<rect x="112.15" y="335" width="12.44" height="1.05" fill="#efc3c4"/>
<rect x="124.54" y="335" width="12.44" height="1.05" fill="#f9e9ea"/>
<rect x="136.92" y="335" width="12.44" height="1.05" fill="#fcf5f6"/>
<rect x="149.31" y="335" width="12.44" height="1.05" fill="#e4e4f0"/>
<rect x="62.6" y="336" width="12.44" height="1.55" fill="#fefdfd"/>
<rect x="74.99" y="336" width="12.44" height="1.55" fill="#f2f2f8"/>
<rect x="87.38" y="336" width="12.44" height="1.55" fill="#ecb8b9"/>
<rect x="99.76" y="336" width="12.44" height="1.55" fill="#f2d0d1"/>
<rect x="112.15" y="336" width="12.44" height="1.55" fill="#f7e1e1"/>
<rect x="124.54" y="336" width="12.44" height="1.55" fill="#d7d7e9"/>
<rect x="136.92" y="336" width="12.44" height="1.55" fill="#f9e7e8"/>
<rect x="149.31" y="336" width="12.44" height="1.55" fill="#d8d7e9"/>
<rect x="62.6" y="337.5" width="12.44" height="2.05" fill="#f7f7fb"/>
<rect x="74.99" y="337.5" width="12.44" height="2.05" fill="#ececf4"/>
<rect x="87.38" y="337.5" width="12.44" height="2.05" fill="#f2d1d2"/>
<rect x="99.76" y="337.5" width="12.44" height="2.05" fill="#faedee"/>
<rect x="112.15" y="337.5" width="12.44" height="2.05" fill="#faedee"/>
<rect x="124.54" y="337.5" width="12.44" height="2.05" fill="#f8f8fb"/>
<rect x="136.92" y="337.5" width="12.44" height="2.05" fill="#fcf3f3"/>
<rect x="149.31" y="337.5" width="12.44" height="2.05" fill="#f9f9fc"/>
<rect x="62.6" y="339.5" width="12.44" height="2.05" fill="#f8e5e5"/>
<rect x="74.99" y="339.5" width="12.44" height="2.05" fill="#f2f2f8"/>
<rect x="87.38" y="339.5" width="12.44" height="2.05" fill="#eebfc0"/>
<rect x="99.76" y="339.5" width="12.44" height="2.05" fill="#f8e6e6"/>
<rect x="112.15" y="339.5" width="12.44" height="2.05" fill="#fdf8f8"/>
<rect x="124.54" y="339.5" width="12.44" height="2.05" fill="#e0e0ee"/>
<rect x="136.92" y="339.5" width="12.44" height="2.05" fill="#fdf8f8"/>
<rect x="149.31" y="339.5" width="12.44" height="2.05" fill="#fefbfb"/>
<rect x="62.6" y="341.5" width="12.44" height="2.05" fill="#faecec"/>
<rect x="74.99" y="341.5" width="12.44" height="2.05" fill="#eeeef6"/>
<rect x="87.38" y="341.5" width="12.44" height="2.05" fill="#f0c8c9"/>
<rect x="99.76" y="341.5" width="12.44" height="2.05" fill="#f1cccd"/>
<rect x="112.15" y="341.5" width="12.44" height="2.05" fill="#f4d5d6"/>
<rect x="124.54" y="341.5" width="12.44" height="2.05" fill="#f1f0f7"/>
<rect x="136.92" y="341.5" width="12.44" height="2.05" fill="#fdf8f8"/>
<rect x="149.31" y="341.5" width="12.44" height="2.05" fill="#cfcfe5"/>
<rect x="62.6" y="343.5" width="12.44" height="0.55" fill="#fefbfb"/>
<rect x="74.99" y="343.5" width="12.44" height="0.55" fill="#e2e2ef"/>
<rect x="87.38" y="343.5" width="12.44" height="0.55" fill="#f1cccd"/>
<rect x="99.76" y="343.5" width="12.44" height="0.55" fill="#f4d7d7"/>
<rect x="112.15" y="343.5" width="12.44" height="0.55" fill="#f8e6e6"/>
<rect x="124.54" y="343.5" width="12.44" height="0.55" fill="#c1c1dd"/>
<rect x="136.92" y="343.5" width="12.44" height="0.55" fill="#f6dfdf"/>
<rect x="149.31" y="343.5" width="12.44" height="0.55" fill="#ebebf4"/>
<rect x="62.6" y="344" width="12.44" height="2.05" fill="#bdbddb"/>
<rect x="74.99" y="344" width="12.44" height="2.05" fill="#d0d0e5"/>
<rect x="87.38" y="344" width="12.44" height="2.05" fill="#eec2c3"/>
<rect x="99.76" y="344" width="12.44" height="2.05" fill="#f3d1d2"/>
<rect x="112.15" y="344" width="12.44" height="2.05" fill="#efc4c5"/>
<rect x="124.54" y="344" width="12.44" height="2.05" fill="#fafafc"/>
<rect x="136.92" y="344" width="12.44" height="2.05" fill="#fefafa"/>
<rect x="149.31" y="344" width="12.44" height="2.05" fill="#eeeef6"/>
<rect x="62.6" y="346" width="12.44" height="1.55" fill="#d1d1e6"/>
<rect x="74.99" y="346" width="12.44" height="1.55" fill="#e7e6f1"/>
<rect x="87.38" y="346" width="12.44" height="1.55" fill="#efc3c5"/>
<rect x="99.76" y="346" width="12.44" height="1.55" fill="#e8acad"/>
<rect x="112.15" y="346" width="12.44" height="1.55" fill="#f3d5d6"/>
<rect x="124.54" y="346" width="12.44" height="1.55" fill="#eeedf5"/>
<rect x="136.92" y="346" width="12.44" height="1.55" fill="#f6dddd"/>
<rect x="149.31" y="346" width="12.44" height="1.55" fill="#f1f1f8"/>
<rect x="62.6" y="347.5" width="12.44" height="1.05" fill="#bdbddb"/>
<rect x="74.99" y="347.5" width="12.44" height="1.05" fill="#e1e0ee"/>
<rect x="87.38" y="347.5" width="12.44" height="1.05" fill="#f8e4e4"/>
<rect x="99.76" y="347.5" width="12.44" height="1.05" fill="#efc4c5"/>
<rect x="112.15" y="347.5" width="12.44" height="1.05" fill="#f3d1d2"/>
<rect x="124.54" y="347.5" width="12.44" height="1.05" fill="#fbfbfd"/>
<rect x="136.92" y="347.5" width="12.44" height="1.05" fill="#fbefef"/>
<rect x="149.31" y="347.5" width="12.44" height="1.05" fill="#f0f0f7"/>
<rect x="62.6" y="348.5" width="12.44" height="1.55" fill="#c2c1dd"/>
<rect x="74.99" y="348.5" width="12.44" height="1.55" fill="#fafafc"/>
<rect x="87.38" y="348.5" width="12.44" height="1.55" fill="#f7e0e1"/>
<rect x="99.76" y="348.5" width="12.44" height="1.55" fill="#f2d0d1"/>
<rect x="112.15" y="348.5" width="12.44" height="1.55" fill="#eec0c1"/>
<rect x="124.54" y="348.5" width="12.44" height="1.55" fill="#fdfdfe"/>
<rect x="136.92" y="348.5" width="12.44" height="1.55" fill="#f9eaea"/>
<rect x="149.31" y="348.5" width="12.44" height="1.55" fill="#f0f0f7"/>
<rect x="62.6" y="350" width="12.44" height="2.55" fill="#c8c7e0"/>
<rect x="74.99" y="350" width="12.44" height="2.55" fill="#d2d1e6"/>
<rect x="87.38" y="350" width="12.44" height="2.55" fill="#f7e0e0"/>
<rect x="99.76" y="350" width="12.44" height="2.55" fill="#f5d9da"/>
<rect x="112.15" y="350" width="12.44" height="2.55" fill="#f5dbdc"/>
<rect x="124.54" y="350" width="12.44" height="2.55" fill="#fdf7f7"/>
<rect x="136.92" y="350" width="12.44" height="2.55" fill="#f8e4e5"/>
<rect x="149.31" y="350" width="12.44" height="2.55" fill="#e0e0ee"/>
<rect x="62.6" y="352.5" width="12.44" height="1.55" fill="#cfcee4"/>
<rect x="74.99" y="352.5" width="12.44" height="1.55" fill="#f9f9fc"/>
<rect x="87.38" y="352.5" width="12.44" height="1.55" fill="#f3d4d4"/>
<rect x="99.76" y="352.5" width="12.44" height="1.55" fill="#f7e2e2"/>
<rect x="112.15" y="352.5" width="12.44" height="1.55" fill="#f1cacb"/>
<rect x="124.54" y="352.5" width="12.44" height="1.55" fill="#fcf2f2"/>
<rect x="136.92" y="352.5" width="12.44" height="1.55" fill="#f9e9e9"/>
<rect x="149.31" y="352.5" width="12.44" height="1.55" fill="#ebebf4"/>
<rect x="62.6" y="354" width="12.44" height="1.55" fill="#cecde4"/>
<rect x="74.99" y="354" width="12.44" height="1.55" fill="#cccce3"/>
<rect x="87.38" y="354" width="12.44" height="1.55" fill="#f4d6d7"/>
<rect x="99.76" y="354" width="12.44" height="1.55" fill="#f9ebeb"/>
<rect x="112.15" y="354" width="12.44" height="1.55" fill="#f9e8e8"/>
<rect x="124.54" y="354" width="12.44" height="1.55" fill="#d7d6e9"/>
<rect x="136.92" y="354" width="12.44" height="1.55" fill="#fefdfd"/>
<rect x="149.31" y="354" width="12.44" height="1.55" fill="#dedeed"/>
<rect x="62.6" y="355.5" width="12.44" height="2.05" fill="#d8d7e9"/>
<rect x="74.99" y="355.5" width="12.44" height="2.05" fill="#bfbedb"/>
<rect x="87.38" y="355.5" width="12.44" height="2.05" fill="#f2d0d1"/>
<rect x="99.76" y="355.5" width="12.44" height="2.05" fill="#e9aeaf"/>
<rect x="112.15" y="355.5" width="12.44" height="2.05" fill="#f7e1e2"/>
<rect x="124.54" y="355.5" width="12.44" height="2.05" fill="#f8f8fb"/>
<rect x="136.92" y="355.5" width="12.44" height="2.05" fill="#fbf2f2"/>
<rect x="149.31" y="355.5" width="12.44" height="2.05" fill="#f1f1f7"/>
<rect x="62.6" y="357.5" width="12.44" height="0.55" fill="#d5d5e8"/>
<rect x="74.99" y="357.5" width="12.44" height="0.55" fill="#babad9"/>
<rect x="87.38" y="357.5" width="12.44" height="0.55" fill="#f8e5e5"/>
<rect x="99.76" y="357.5" width="12.44" height="0.55" fill="#f1cacb"/>
<rect x="112.15" y="357.5" width="12.44" height="0.55" fill="#f7e1e2"/>
<rect x="124.54" y="357.5" width="12.44" height="0.55" fill="#fdf7f7"/>
<rect x="136.92" y="357.5" width="12.44" height="0.55" fill="#faeeee"/>
<rect x="149.31" y="357.5" width="12.44" height="0.55" fill="#ececf5"/>
<rect x="62.6" y="358" width="12.44" height="2.05" fill="#f2cfd0"/>
<rect x="74.99" y="358" width="12.44" height="2.05" fill="#fdf9f9"/>
<rect x="87.38" y="358" width="12.44" height="2.05" fill="#f8e7e7"/>
<rect x="99.76" y="358" width="12.44" height="2.05" fill="#fdf7f7"/>
<rect x="112.15" y="358" width="12.44" height="2.05" fill="#e5a0a2"/>
<rect x="124.54" y="358" width="12.44" height="2.05" fill="#fafafc"/>
<rect x="136.92" y="358" width="12.44" height="2.05" fill="#fefefe"/>
<rect x="149.31" y="358" width="12.44" height="2.05" fill="#fdfdfe"/>
<rect x="62.6" y="360" width="12.44" height="2.05" fill="#f5dadb"/>
<rect x="74.99" y="360" width="12.44" height="2.05" fill="#fbfbfd"/>
<rect x="87.38" y="360" width="12.44" height="2.05" fill="#fcf4f4"/>
<rect x="99.76" y="360" width="12.44" height="2.05" fill="#f2f2f8"/>
<rect x="112.15" y="360" width="12.44" height="2.05" fill="#edbbbc"/>
<rect x="124.54" y="360" width="12.44" height="2.05" fill="#d9d8ea"/>
<rect x="136.92" y="360" width="12.44" height="2.05" fill="#ffffff"/>
<rect x="149.31" y="360" width="12.44" height="2.05" fill="#eaeaf3"/>
<rect x="62.6" y="362" width="12.44" height="1.55" fill="#e0e0ee"/>
<rect x="74.99" y="362" width="12.44" height="1.55" fill="#d8d7e9"/>
<rect x="87.38" y="362" width="12.44" height="1.55" fill="#fcf4f4"/>
<rect x="99.76" y="362" width="12.44" height="1.55" fill="#d3d3e7"/>
<rect x="112.15" y="362" width="12.44" height="1.55" fill="#d0d0e5"/>
<rect x="124.54" y="362" width="12.44" height="1.55" fill="#cbcae2"/>
<rect x="136.92" y="362" width="12.44" height="1.55" fill="#fefcfc"/>
<rect x="149.31" y="362" width="12.44" height="1.55" fill="#fffdfd"/>
<rect x="62.6" y="363.5" width="12.44" height="2.05" fill="#e3e2ef"/>
<rect x="74.99" y="363.5" width="12.44" height="2.05" fill="#fefeff"/>
<rect x="87.38" y="363.5" width="12.44" height="2.05" fill="#fdf7f7"/>
<rect x="99.76" y="363.5" width="12.44" height="2.05" fill="#ebebf4"/>
<rect x="112.15" y="363.5" width="12.44" height="2.05" fill="#dedeed"/>
<rect x="124.54" y="363.5" width="12.44" height="2.05" fill="#b9b8d8"/>
<rect x="136.92" y="363.5" width="12.44" height="2.05" fill="#f7f7fb"/>
<rect x="149.31" y="363.5" width="12.44" height="2.05" fill="#f1f1f7"/>
<rect x="62.6" y="365.5" width="12.44" height="2.05" fill="#e8e8f2"/>
<rect x="74.99" y="365.5" width="12.44" height="2.05" fill="#ebebf4"/>
<rect x="87.38" y="365.5" width="12.44" height="2.05" fill="#fdf9f9"/>
<rect x="99.76" y="365.5" width="12.44" height="2.05" fill="#d4d4e7"/>
<rect x="112.15" y="365.5" width="12.44" height="2.05" fill="#c9c9e1"/>
<rect x="124.54" y="365.5" width="12.44" height="2.05" fill="#b6b6d7"/>
<rect x="136.92" y="365.5" width="12.44" height="2.05" fill="#fcf4f4"/>
<rect x="149.31" y="365.5" width="12.44" height="2.05" fill="#f1f1f7"/>
<rect x="62.6" y="367.5" width="12.44" height="1.05" fill="#ddddec"/>
<rect x="74.99" y="367.5" width="12.44" height="1.05" fill="#f6f6fa"/>
<rect x="87.38" y="367.5" width="12.44" height="1.05" fill="#fefefe"/>
<rect x="99.76" y="367.5" width="12.44" height="1.05" fill="#e2e1ef"/>
<rect x="112.15" y="367.5" width="12.44" height="1.05" fill="#d1d1e6"/>
<rect x="124.54" y="367.5" width="12.44" height="1.05" fill="#cecee4"/>
<rect x="136.92" y="367.5" width="12.44" height="1.05" fill="#fdf7f8"/>
<rect x="149.31" y="367.5" width="12.44" height="1.05" fill="#d7d6e9"/>
<rect x="62.6" y="368.5" width="12.44" height="2.55" fill="#dad9ea"/>
<rect x="74.99" y="368.5" width="12.44" height="2.55" fill="#fefbfb"/>
<rect x="87.38" y="368.5" width="12.44" height="2.55" fill="#f0f0f7"/>
<rect x="99.76" y="368.5" width="12.44" height="2.55" fill="#e5e5f1"/>
<rect x="112.15" y="368.5" width="12.44" height="2.55" fill="#d7d7e9"/>
<rect x="124.54" y="368.5" width="12.44" height="2.55" fill="#d1d0e5"/>
<rect x="136.92" y="368.5" width="12.44" height="2.55" fill="#fefbfb"/>
<rect x="149.31" y="368.5" width="12.44" height="2.55" fill="#ecebf4"/>
<rect x="62.6" y="371" width="12.44" height="2.05" fill="#cccbe3"/>
<rect x="74.99" y="371" width="12.44" height="2.05" fill="#fefeff"/>
<rect x="87.38" y="371" width="12.44" height="2.05" fill="#ffffff"/>
<rect x="99.76" y="371" width="12.44" height="2.05" fill="#f9f8fb"/>
<rect x="112.15" y="371" width="12.44" height="2.05" fill="#c6c5df"/>
<rect x="124.54" y="371" width="12.44" height="2.05" fill="#e0e0ee"/>
<rect x="136.92" y="371" width="12.44" height="2.05" fill="#f6ddde"/>
<rect x="149.31" y="371" width="12.44" height="2.05" fill="#f8e4e5"/>
<rect x="62.6" y="373" width="12.44" height="2.05" fill="#e3e3f0"/>
<rect x="74.99" y="373" width="12.44" height="2.05" fill="#e2e2ef"/>
<rect x="87.38" y="373" width="12.44" height="2.05" fill="#f6f6fa"/>
<rect x="99.76" y="373" width="12.44" height="2.05" fill="#e6e6f1"/>
<rect x="112.15" y="373" width="12.44" height="2.05" fill="#f7f7fb"/>
<rect x="124.54" y="373" width="12.44" height="2.05" fill="#e0dfee"/>
<rect x="136.92" y="373" width="12.44" height="2.05" fill="#efeff6"/>
<rect x="149.31" y="373" width="12.44" height="2.05" fill="#e9e9f3"/>
<rect x="62.6" y="375" width="12.44" height="1.05" fill="#eaeaf3"/>
<rect x="74.99" y="375" width="12.44" height="1.05" fill="#f5f5fa"/>
<rect x="87.38" y="375" width="12.44" height="1.05" fill="#f8f8fb"/>
<rect x="99.76" y="375" width="12.44" height="1.05" fill="#bfbedb"/>
<rect x="112.15" y="375" width="12.44" height="1.05" fill="#cfcfe5"/>
<rect x="124.54" y="375" width="12.44" height="1.05" fill="#cfcee4"/>
<rect x="136.92" y="375" width="12.44" height="1.05" fill="#fefafa"/>
<rect x="149.31" y="375" width="12.44" height="1.05" fill="#ebebf4"/>
<rect x="62.6" y="376" width="12.44" height="1.55" fill="#bbbad9"/>
<rect x="74.99" y="376" width="12.44" height="1.55" fill="#f0c9ca"/>
<rect x="87.38" y="376" width="12.44" height="1.55" fill="#cccbe3"/>
<rect x="99.76" y="376" width="12.44" height="1.55" fill="#f6f6fa"/>
<rect x="112.15" y="376" width="12.44" height="1.55" fill="#bbbad9"/>
<rect x="124.54" y="376" width="12.44" height="1.55" fill="#5958a3"/>
<rect x="136.92" y="376" width="12.44" height="1.55" fill="#e6e5f1"/>
<rect x="149.31" y="376" width="12.44" height="1.55" fill="#f0f0f7"/>
<rect x="62.6" y="377.5" width="12.44" height="1.55" fill="#9c9bc8"/>
<rect x="74.99" y="377.5" width="12.44" height="1.55" fill="#f4d7d8"/>
<rect x="87.38" y="377.5" width="12.44" height="1.55" fill="#bfbedb"/>
<rect x="99.76" y="377.5" width="12.44" height="1.55" fill="#d2d1e6"/>
<rect x="112.15" y="377.5" width="12.44" height="1.55" fill="#a7a6ce"/>
<rect x="124.54" y="377.5" width="12.44" height="1.55" fill="#48469a"/>
<rect x="136.92" y="377.5" width="12.44" height="1.55" fill="#e3e3f0"/>
<rect x="149.31" y="377.5" width="12.44" height="1.55" fill="#fcf4f4"/>
<rect x="62.6" y="379" width="12.44" height="2.05" fill="#9796c5"/>
<rect x="74.99" y="379" width="12.44" height="2.05" fill="#f2d0d1"/>
<rect x="87.38" y="379" width="12.44" height="2.05" fill="#b2b1d4"/>
<rect x="99.76" y="379" width="12.44" height="2.05" fill="#f9f9fc"/>
<rect x="112.15" y="379" width="12.44" height="2.05" fill="#b3b2d5"/>
<rect x="124.54" y="379" width="12.44" height="2.05" fill="#5553a1"/>
<rect x="136.92" y="379" width="12.44" height="2.05" fill="#ebebf4"/>
<rect x="149.31" y="379" width="12.44" height="2.05" fill="#fbf1f1"/>
<rect x="62.6" y="381" width="12.44" height="2.05" fill="#9b9ac8"/>
<rect x="74.99" y="381" width="12.44" height="2.05" fill="#f4d7d8"/>
<rect x="87.38" y="381" width="12.44" height="2.05" fill="#acabd1"/>
<rect x="99.76" y="381" width="12.44" height="2.05" fill="#fafafc"/>
<rect x="112.15" y="381" width="12.44" height="2.05" fill="#afaed3"/>
<rect x="124.54" y="381" width="12.44" height="2.05" fill="#413f96"/>
<rect x="136.92" y="381" width="12.44" height="2.05" fill="#f2f2f8"/>
<rect x="149.31" y="381" width="12.44" height="2.05" fill="#fdf7f7"/>
<rect x="62.6" y="383" width="12.44" height="1.05" fill="#acabd1"/>
<rect x="74.99" y="383" width="12.44" height="1.05" fill="#faeeee"/>
<rect x="87.38" y="383" width="12.44" height="1.05" fill="#c3c2de"/>
<rect x="99.76" y="383" width="12.44" height="1.05" fill="#cecde4"/>
<rect x="112.15" y="383" width="12.44" height="1.05" fill="#b5b4d6"/>
<rect x="124.54" y="383" width="12.44" height="1.05" fill="#3d3b94"/>
<rect x="136.92" y="383" width="12.44" height="1.05" fill="#f5f5fa"/>
<rect x="149.31" y="383" width="12.44" height="1.05" fill="#f9f9fc"/>
<rect x="62.6" y="384" width="12.44" height="1.05" fill="#8382bb"/>
<rect x="74.99" y="384" width="12.44" height="1.05" fill="#fefbfb"/>
<rect x="87.38" y="384" width="12.44" height="1.05" fill="#c8c8e1"/>
<rect x="99.76" y="384" width="12.44" height="1.05" fill="#fdf9f9"/>
<rect x="112.15" y="384" width="12.44" height="1.05" fill="#cacae2"/>
<rect x="124.54" y="384" width="12.44" height="1.05" fill="#6765ab"/>
<rect x="136.92" y="384" width="12.44" height="1.05" fill="#ffffff"/>
<rect x="149.31" y="384" width="12.44" height="1.05" fill="#f7f7fb"/>
<rect x="62.6" y="385" width="12.44" height="2.05" fill="#8483bb"/>
<rect x="74.99" y="385" width="12.44" height="2.05" fill="#f9eaea"/>
<rect x="87.38" y="385" width="12.44" height="2.05" fill="#d3d3e7"/>
<rect x="99.76" y="385" width="12.44" height="2.05" fill="#f0f0f7"/>
<rect x="112.15" y="385" width="12.44" height="2.05" fill="#e9e9f3"/>
<rect x="124.54" y="385" width="12.44" height="2.05" fill="#8f8ec1"/>
<rect x="136.92" y="385" width="12.44" height="2.05" fill="#e5e5f1"/>
<rect x="149.31" y="385" width="12.44" height="2.05" fill="#eeeef6"/>
<rect x="62.6" y="387" width="12.44" height="2.55" fill="#908fc2"/>
<rect x="74.99" y="387" width="12.44" height="2.55" fill="#f0eff6"/>
<rect x="87.38" y="387" width="12.44" height="2.55" fill="#c5c4df"/>
<rect x="99.76" y="387" width="12.44" height="2.55" fill="#f9e8e8"/>
<rect x="112.15" y="387" width="12.44" height="2.55" fill="#c1c1dd"/>
<rect x="124.54" y="387" width="12.44" height="2.55" fill="#6e6daf"/>
<rect x="136.92" y="387" width="12.44" height="2.55" fill="#dddcec"/>
<rect x="149.31" y="387" width="12.44" height="2.55" fill="#fcf2f3"/>
<rect x="62.6" y="389.5" width="12.44" height="2.15" fill="#9594c4"/>
<rect x="74.99" y="389.5" width="12.44" height="2.15" fill="#f8e6e7"/>
<rect x="87.38" y="389.5" width="12.44" height="2.15" fill="#c5c5df"/>
<rect x="99.76" y="389.5" width="12.44" height="2.15" fill="#f0f0f7"/>
<rect x="112.15" y="389.5" width="12.44" height="2.15" fill="#c9c9e1"/>
<rect x="124.54" y="389.5" width="12.44" height="2.15" fill="#6d6cae"/>
<rect x="136.92" y="389.5" width="12.44" height="2.15" fill="#fbf0f0"/>
<rect x="149.31" y="389.5" width="12.44" height="2.15" fill="#f2f2f8"/>
</g>
<rect x="62.6" y="126.7" width="99.1" height="264.9" fill="none" stroke="#666" stroke-width="1.1"/>
<line x1="20.30" y1="173.80" x2="20.30" y2="335.10" stroke="#000" stroke-width="1.0" stroke-linecap="square"/>
<line x1="20.30" y1="173.80" x2="25.10" y2="173.80" stroke="#000" stroke-width="1.0" stroke-linecap="square"/>
<line x1="25.10" y1="152.40" x2="25.10" y2="195.30" stroke="#000" stroke-width="1.0" stroke-linecap="square"/>
<line x1="25.10" y1="152.40" x2="38.60" y2="152.40" stroke="#000" stroke-width="1.0" stroke-linecap="square"/>
<line x1="38.60" y1="141.10" x2="38.60" y2="163.90" stroke="#000" stroke-width="1.0" stroke-linecap="square"/>
<line x1="38.60" y1="163.90" x2="59.40" y2="163.90" stroke="#000" stroke-width="1.0" stroke-linecap="square"/>
<line x1="38.60" y1="141.10" x2="42.40" y2="141.10" stroke="#000" stroke-width="1.0" stroke-linecap="square"/>
<line x1="42.40" y1="134.10" x2="42.40" y2="147.10" stroke="#000" stroke-width="1.0" stroke-linecap="square"/>
<line x1="42.40" y1="134.10" x2="48.70" y2="134.10" stroke="#000" stroke-width="1.0" stroke-linecap="square"/>
<line x1="42.40" y1="147.10" x2="45.80" y2="147.10" stroke="#000" stroke-width="1.0" stroke-linecap="square"/>
<line x1="48.70" y1="129.80" x2="48.70" y2="138.90" stroke="#000" stroke-width="1.0" stroke-linecap="square"/>
<line x1="48.70" y1="138.90" x2="59.40" y2="138.90" stroke="#000" stroke-width="1.0" stroke-linecap="square"/>
<line x1="48.70" y1="129.80" x2="54.90" y2="129.80" stroke="#000" stroke-width="1.0" stroke-linecap="square"/>
<line x1="54.90" y1="128.00" x2="54.90" y2="131.20" stroke="#000" stroke-width="1.0" stroke-linecap="square"/>
<line x1="54.90" y1="128.00" x2="59.40" y2="128.00" stroke="#000" stroke-width="1.0" stroke-linecap="square"/>
<line x1="54.90" y1="131.20" x2="59.40" y2="131.20" stroke="#000" stroke-width="1.0" stroke-linecap="square"/>
<line x1="45.80" y1="142.80" x2="45.80" y2="151.90" stroke="#000" stroke-width="1.0" stroke-linecap="square"/>
<line x1="45.80" y1="142.80" x2="59.40" y2="142.80" stroke="#000" stroke-width="1.0" stroke-linecap="square"/>
<line x1="45.80" y1="151.90" x2="50.60" y2="151.90" stroke="#000" stroke-width="1.0" stroke-linecap="square"/>
<line x1="50.60" y1="146.10" x2="50.60" y2="158.10" stroke="#000" stroke-width="1.0" stroke-linecap="square"/>
<line x1="50.60" y1="146.10" x2="59.40" y2="146.10" stroke="#000" stroke-width="1.0" stroke-linecap="square"/>
<line x1="50.60" y1="158.10" x2="55.90" y2="158.10" stroke="#000" stroke-width="1.0" stroke-linecap="square"/>
<line x1="55.90" y1="156.20" x2="55.90" y2="161.00" stroke="#000" stroke-width="1.0" stroke-linecap="square"/>
<line x1="55.90" y1="156.20" x2="59.40" y2="156.20" stroke="#000" stroke-width="1.0" stroke-linecap="square"/>
<line x1="55.90" y1="161.00" x2="59.40" y2="161.00" stroke="#000" stroke-width="1.0" stroke-linecap="square"/>
<line x1="25.10" y1="195.30" x2="29.40" y2="195.30" stroke="#000" stroke-width="1.0" stroke-linecap="square"/>
<line x1="29.40" y1="176.40" x2="29.40" y2="213.60" stroke="#000" stroke-width="1.0" stroke-linecap="square"/>
<line x1="29.40" y1="176.40" x2="42.40" y2="176.40" stroke="#000" stroke-width="1.0" stroke-linecap="square"/>
<line x1="42.40" y1="173.50" x2="42.40" y2="179.30" stroke="#000" stroke-width="1.0" stroke-linecap="square"/>
<line x1="42.40" y1="173.50" x2="52.50" y2="173.50" stroke="#000" stroke-width="1.0" stroke-linecap="square"/>
<line x1="42.40" y1="179.30" x2="59.40" y2="179.30" stroke="#000" stroke-width="1.0" stroke-linecap="square"/>
<line x1="52.50" y1="169.70" x2="52.50" y2="176.40" stroke="#000" stroke-width="1.0" stroke-linecap="square"/>
<line x1="52.50" y1="169.70" x2="59.40" y2="169.70" stroke="#000" stroke-width="1.0" stroke-linecap="square"/>
<line x1="52.50" y1="176.40" x2="59.40" y2="176.40" stroke="#000" stroke-width="1.0" stroke-linecap="square"/>
<line x1="29.40" y1="213.60" x2="34.20" y2="213.60" stroke="#000" stroke-width="1.0" stroke-linecap="square"/>
<line x1="34.20" y1="189.40" x2="34.20" y2="238.60" stroke="#000" stroke-width="1.0" stroke-linecap="square"/>
<line x1="34.20" y1="189.40" x2="52.50" y2="189.40" stroke="#000" stroke-width="1.0" stroke-linecap="square"/>
<line x1="52.50" y1="187.50" x2="52.50" y2="190.80" stroke="#000" stroke-width="1.0" stroke-linecap="square"/>
<line x1="52.50" y1="187.50" x2="59.40" y2="187.50" stroke="#000" stroke-width="1.0" stroke-linecap="square"/>
<line x1="52.50" y1="190.80" x2="59.40" y2="190.80" stroke="#000" stroke-width="1.0" stroke-linecap="square"/>
<line x1="34.20" y1="238.60" x2="43.80" y2="238.60" stroke="#000" stroke-width="1.0" stroke-linecap="square"/>
<line x1="43.80" y1="204.90" x2="43.80" y2="272.30" stroke="#000" stroke-width="1.0" stroke-linecap="square"/>
<line x1="43.80" y1="204.90" x2="48.30" y2="204.90" stroke="#000" stroke-width="1.0" stroke-linecap="square"/>
<line x1="48.30" y1="199.10" x2="48.30" y2="210.50" stroke="#000" stroke-width="1.0" stroke-linecap="square"/>
<line x1="48.30" y1="199.10" x2="59.40" y2="199.10" stroke="#000" stroke-width="1.0" stroke-linecap="square"/>
<line x1="48.30" y1="210.50" x2="52.20" y2="210.50" stroke="#000" stroke-width="1.0" stroke-linecap="square"/>
<line x1="52.20" y1="205.00" x2="52.20" y2="216.00" stroke="#000" stroke-width="1.0" stroke-linecap="square"/>
<line x1="52.20" y1="205.00" x2="57.50" y2="205.00" stroke="#000" stroke-width="1.0" stroke-linecap="square"/>
<line x1="52.20" y1="216.00" x2="54.80" y2="216.00" stroke="#000" stroke-width="1.0" stroke-linecap="square"/>
<line x1="57.50" y1="202.50" x2="57.50" y2="207.50" stroke="#000" stroke-width="1.0" stroke-linecap="square"/>
<line x1="57.50" y1="202.50" x2="59.40" y2="202.50" stroke="#000" stroke-width="1.0" stroke-linecap="square"/>
<line x1="57.50" y1="207.50" x2="59.40" y2="207.50" stroke="#000" stroke-width="1.0" stroke-linecap="square"/>
<line x1="54.80" y1="212.00" x2="54.80" y2="222.00" stroke="#000" stroke-width="1.0" stroke-linecap="square"/>
<line x1="54.80" y1="212.00" x2="59.40" y2="212.00" stroke="#000" stroke-width="1.0" stroke-linecap="square"/>
<line x1="54.80" y1="222.00" x2="57.00" y2="222.00" stroke="#000" stroke-width="1.0" stroke-linecap="square"/>
<line x1="57.00" y1="219.00" x2="57.00" y2="226.00" stroke="#000" stroke-width="1.0" stroke-linecap="square"/>
<line x1="57.00" y1="226.00" x2="59.40" y2="226.00" stroke="#000" stroke-width="1.0" stroke-linecap="square"/>
<line x1="43.80" y1="237.10" x2="51.00" y2="237.10" stroke="#000" stroke-width="1.0" stroke-linecap="square"/>
<line x1="51.00" y1="233.30" x2="51.00" y2="240.50" stroke="#000" stroke-width="1.0" stroke-linecap="square"/>
<line x1="51.00" y1="233.30" x2="55.50" y2="233.30" stroke="#000" stroke-width="1.0" stroke-linecap="square"/>
<line x1="51.00" y1="240.50" x2="59.40" y2="240.50" stroke="#000" stroke-width="1.0" stroke-linecap="square"/>
<line x1="55.50" y1="231.50" x2="55.50" y2="235.50" stroke="#000" stroke-width="1.0" stroke-linecap="square"/>
<line x1="55.50" y1="231.50" x2="59.40" y2="231.50" stroke="#000" stroke-width="1.0" stroke-linecap="square"/>
<line x1="55.50" y1="235.50" x2="59.40" y2="235.50" stroke="#000" stroke-width="1.0" stroke-linecap="square"/>
<line x1="43.80" y1="272.30" x2="46.30" y2="272.30" stroke="#000" stroke-width="1.0" stroke-linecap="square"/>
<line x1="46.30" y1="251.00" x2="46.30" y2="261.70" stroke="#000" stroke-width="1.0" stroke-linecap="square"/>
<line x1="46.30" y1="251.00" x2="59.40" y2="251.00" stroke="#000" stroke-width="1.0" stroke-linecap="square"/>
<line x1="46.30" y1="261.70" x2="51.50" y2="261.70" stroke="#000" stroke-width="1.0" stroke-linecap="square"/>
<line x1="51.50" y1="257.90" x2="51.50" y2="265.10" stroke="#000" stroke-width="1.0" stroke-linecap="square"/>
<line x1="51.50" y1="257.90" x2="59.40" y2="257.90" stroke="#000" stroke-width="1.0" stroke-linecap="square"/>
<line x1="51.50" y1="265.10" x2="59.40" y2="265.10" stroke="#000" stroke-width="1.0" stroke-linecap="square"/>
<line x1="57.20" y1="262.00" x2="57.20" y2="272.00" stroke="#000" stroke-width="1.0" stroke-linecap="square"/>
<line x1="57.20" y1="262.00" x2="59.40" y2="262.00" stroke="#000" stroke-width="1.0" stroke-linecap="square"/>
<line x1="57.20" y1="272.00" x2="59.40" y2="272.00" stroke="#000" stroke-width="1.0" stroke-linecap="square"/>
<line x1="20.30" y1="335.10" x2="28.80" y2="335.10" stroke="#000" stroke-width="1.0" stroke-linecap="square"/>
<line x1="28.80" y1="303.90" x2="28.80" y2="366.70" stroke="#000" stroke-width="1.0" stroke-linecap="square"/>
<line x1="28.80" y1="303.90" x2="40.30" y2="303.90" stroke="#000" stroke-width="1.0" stroke-linecap="square"/>
<line x1="40.30" y1="277.60" x2="40.30" y2="329.40" stroke="#000" stroke-width="1.0" stroke-linecap="square"/>
<line x1="40.30" y1="277.60" x2="46.70" y2="277.60" stroke="#000" stroke-width="1.0" stroke-linecap="square"/>
<line x1="46.70" y1="274.70" x2="46.70" y2="282.90" stroke="#000" stroke-width="1.0" stroke-linecap="square"/>
<line x1="46.70" y1="274.70" x2="59.40" y2="274.70" stroke="#000" stroke-width="1.0" stroke-linecap="square"/>
<line x1="46.70" y1="282.90" x2="50.10" y2="282.90" stroke="#000" stroke-width="1.0" stroke-linecap="square"/>
<line x1="50.10" y1="280.50" x2="50.10" y2="286.70" stroke="#000" stroke-width="1.0" stroke-linecap="square"/>
<line x1="50.10" y1="280.50" x2="59.40" y2="280.50" stroke="#000" stroke-width="1.0" stroke-linecap="square"/>
<line x1="50.10" y1="286.70" x2="54.50" y2="286.70" stroke="#000" stroke-width="1.0" stroke-linecap="square"/>
<line x1="54.50" y1="284.00" x2="54.50" y2="290.00" stroke="#000" stroke-width="1.0" stroke-linecap="square"/>
<line x1="54.50" y1="284.00" x2="59.40" y2="284.00" stroke="#000" stroke-width="1.0" stroke-linecap="square"/>
<line x1="54.50" y1="290.00" x2="59.40" y2="290.00" stroke="#000" stroke-width="1.0" stroke-linecap="square"/>
<line x1="40.30" y1="329.40" x2="47.20" y2="329.40" stroke="#000" stroke-width="1.0" stroke-linecap="square"/>
<line x1="47.20" y1="306.50" x2="47.20" y2="342.00" stroke="#000" stroke-width="1.0" stroke-linecap="square"/>
<line x1="47.20" y1="306.50" x2="52.50" y2="306.50" stroke="#000" stroke-width="1.0" stroke-linecap="square"/>
<line x1="52.50" y1="299.20" x2="52.50" y2="313.70" stroke="#000" stroke-width="1.0" stroke-linecap="square"/>
<line x1="52.50" y1="299.20" x2="59.40" y2="299.20" stroke="#000" stroke-width="1.0" stroke-linecap="square"/>
<line x1="52.50" y1="313.70" x2="55.50" y2="313.70" stroke="#000" stroke-width="1.0" stroke-linecap="square"/>
<line x1="55.50" y1="311.00" x2="55.50" y2="317.00" stroke="#000" stroke-width="1.0" stroke-linecap="square"/>
<line x1="55.50" y1="311.00" x2="59.40" y2="311.00" stroke="#000" stroke-width="1.0" stroke-linecap="square"/>
<line x1="55.50" y1="317.00" x2="59.40" y2="317.00" stroke="#000" stroke-width="1.0" stroke-linecap="square"/>
<line x1="47.20" y1="342.00" x2="50.50" y2="342.00" stroke="#000" stroke-width="1.0" stroke-linecap="square"/>
<line x1="50.50" y1="323.00" x2="50.50" y2="352.00" stroke="#000" stroke-width="1.0" stroke-linecap="square"/>
<line x1="50.50" y1="323.00" x2="59.40" y2="323.00" stroke="#000" stroke-width="1.0" stroke-linecap="square"/>
<line x1="50.50" y1="352.00" x2="55.00" y2="352.00" stroke="#000" stroke-width="1.0" stroke-linecap="square"/>
<line x1="55.00" y1="348.00" x2="55.00" y2="356.00" stroke="#000" stroke-width="1.0" stroke-linecap="square"/>
<line x1="55.00" y1="348.00" x2="59.40" y2="348.00" stroke="#000" stroke-width="1.0" stroke-linecap="square"/>
<line x1="55.00" y1="356.00" x2="59.40" y2="356.00" stroke="#000" stroke-width="1.0" stroke-linecap="square"/>
<line x1="28.80" y1="366.70" x2="43.50" y2="366.70" stroke="#000" stroke-width="1.0" stroke-linecap="square"/>
<line x1="43.50" y1="358.50" x2="43.50" y2="378.70" stroke="#000" stroke-width="1.0" stroke-linecap="square"/>
<line x1="43.50" y1="358.50" x2="59.40" y2="358.50" stroke="#000" stroke-width="1.0" stroke-linecap="square"/>
<line x1="43.50" y1="378.70" x2="46.60" y2="378.70" stroke="#000" stroke-width="1.0" stroke-linecap="square"/>
<line x1="46.60" y1="366.00" x2="46.60" y2="389.00" stroke="#000" stroke-width="1.0" stroke-linecap="square"/>
<line x1="46.60" y1="366.00" x2="53.00" y2="366.00" stroke="#000" stroke-width="1.0" stroke-linecap="square"/>
<line x1="53.00" y1="363.00" x2="53.00" y2="369.00" stroke="#000" stroke-width="1.0" stroke-linecap="square"/>
<line x1="53.00" y1="363.00" x2="59.40" y2="363.00" stroke="#000" stroke-width="1.0" stroke-linecap="square"/>
<line x1="53.00" y1="369.00" x2="59.40" y2="369.00" stroke="#000" stroke-width="1.0" stroke-linecap="square"/>
<line x1="46.60" y1="389.00" x2="52.50" y2="389.00" stroke="#000" stroke-width="1.0" stroke-linecap="square"/>
<line x1="52.50" y1="384.00" x2="52.50" y2="391.00" stroke="#000" stroke-width="1.0" stroke-linecap="square"/>
<line x1="52.50" y1="384.00" x2="59.40" y2="384.00" stroke="#000" stroke-width="1.0" stroke-linecap="square"/>
<line x1="52.50" y1="391.00" x2="59.40" y2="391.00" stroke="#000" stroke-width="1.0" stroke-linecap="square"/>
<line x1="59.60" y1="126.80" x2="59.60" y2="391.20" stroke="#000" stroke-width="1.6" />
<line x1="169.60" y1="133.00" x2="169.60" y2="220.50" stroke="#000" stroke-width="1.2" />
<line x1="169.60" y1="295.80" x2="169.60" y2="386.00" stroke="#000" stroke-width="1.2" />
<path d="M165.5,136.4 L169.6,127.0 L173.7,136.4 L169.6,134.4 Z" fill="#000"/>
<path d="M165.5,381.6 L169.6,390.9 L173.7,381.6 L169.6,383.6 Z" fill="#000"/>
<text transform="translate(172.5,286.3) rotate(-90)" font-size="9.2" fill="#111" stroke="#111" stroke-width="0.1" textLength="54.5" lengthAdjust="spacingAndGlyphs">6737 proteins</text>
<text transform="translate(183.9,316.7) rotate(-90)" font-size="9.4" fill="#111" stroke="#111" stroke-width="0.1" textLength="115" lengthAdjust="spacingAndGlyphs">Log<tspan font-size="6.4" dy="2">2</tspan><tspan dy="-2"> (Mutant / GFP-RPS15</tspan><tspan font-size="6.4" dy="-3.6">WT</tspan><tspan dy="3.6">)</tspan></text>
<defs><linearGradient id="cb" x1="0" x2="1" y1="0" y2="0"><stop offset="0" stop-color="#28268a"/><stop offset="0.5" stop-color="#ffffff"/><stop offset="1" stop-color="#c0141a"/></linearGradient></defs>
<rect x="77.4" y="409.2" width="71.4" height="6.2" fill="url(#cb)" stroke="#666" stroke-width="0.6"/>
<line x1="77.40" y1="406.40" x2="77.40" y2="409.20" stroke="#333" stroke-width="0.7" />
<line x1="113.00" y1="406.40" x2="113.00" y2="409.20" stroke="#333" stroke-width="0.7" />
<line x1="148.80" y1="406.40" x2="148.80" y2="409.20" stroke="#333" stroke-width="0.7" />
<text x="77.40" y="403.20" font-size="7.6" fill="#000" text-anchor="middle" stroke="#000" stroke-width="0.1" >-2</text>
<text x="113.00" y="403.20" font-size="7.6" fill="#000" text-anchor="middle" stroke="#000" stroke-width="0.1" >0</text>
<text x="148.40" y="403.20" font-size="7.6" fill="#000" text-anchor="middle" stroke="#000" stroke-width="0.1" >+2</text>
<line x1="57.50" y1="440.30" x2="57.50" y2="555.50" stroke="#000" stroke-width="1.25" />
<line x1="56.90" y1="554.90" x2="187.00" y2="554.90" stroke="#000" stroke-width="1.3" />
<line x1="53.60" y1="443.60" x2="57.50" y2="443.60" stroke="#000" stroke-width="1.0" />
<line x1="53.60" y1="458.20" x2="57.50" y2="458.20" stroke="#000" stroke-width="1.0" />
<line x1="53.60" y1="472.80" x2="57.50" y2="472.80" stroke="#000" stroke-width="1.0" />
<line x1="53.60" y1="487.40" x2="57.50" y2="487.40" stroke="#000" stroke-width="1.0" />
<line x1="53.60" y1="502.00" x2="57.50" y2="502.00" stroke="#000" stroke-width="1.0" />
<line x1="53.60" y1="516.60" x2="57.50" y2="516.60" stroke="#000" stroke-width="1.0" />
<line x1="53.60" y1="531.20" x2="57.50" y2="531.20" stroke="#000" stroke-width="1.0" />
<line x1="53.60" y1="545.80" x2="57.50" y2="545.80" stroke="#000" stroke-width="1.0" />
<text x="50.20" y="446.90" font-size="9.2" fill="#111" text-anchor="end" textLength="9.30" lengthAdjust="spacingAndGlyphs" stroke="#111" stroke-width="0.1" >20</text>
<text x="50.20" y="476.10" font-size="9.2" fill="#111" text-anchor="end" textLength="9.30" lengthAdjust="spacingAndGlyphs" stroke="#111" stroke-width="0.1" >10</text>
<text x="50.20" y="505.30" font-size="9.2" fill="#111" text-anchor="end" textLength="4.60" lengthAdjust="spacingAndGlyphs" stroke="#111" stroke-width="0.1" >0</text>
<text x="50.20" y="534.50" font-size="9.2" fill="#111" text-anchor="end" textLength="13.60" lengthAdjust="spacingAndGlyphs" stroke="#111" stroke-width="0.1" >-10</text>
<line x1="70.01" y1="554.90" x2="70.01" y2="558.60" stroke="#000" stroke-width="1.0" />
<line x1="84.14" y1="554.90" x2="84.14" y2="558.60" stroke="#000" stroke-width="1.0" />
<line x1="98.27" y1="554.90" x2="98.27" y2="558.60" stroke="#000" stroke-width="1.0" />
<line x1="112.40" y1="554.90" x2="112.40" y2="558.60" stroke="#000" stroke-width="1.0" />
<line x1="126.53" y1="554.90" x2="126.53" y2="558.60" stroke="#000" stroke-width="1.0" />
<line x1="140.66" y1="554.90" x2="140.66" y2="558.60" stroke="#000" stroke-width="1.0" />
<line x1="154.79" y1="554.90" x2="154.79" y2="558.60" stroke="#000" stroke-width="1.0" />
<line x1="168.92" y1="554.90" x2="168.92" y2="558.60" stroke="#000" stroke-width="1.0" />
<line x1="183.05" y1="554.90" x2="183.05" y2="558.60" stroke="#000" stroke-width="1.0" />
<text x="84.14" y="570.60" font-size="8.6" fill="#111" text-anchor="middle" textLength="12.80" lengthAdjust="spacingAndGlyphs" stroke="#111" stroke-width="0.1" >-10</text>
<text x="112.40" y="570.60" font-size="8.6" fill="#111" text-anchor="middle" textLength="4.60" lengthAdjust="spacingAndGlyphs" stroke="#111" stroke-width="0.1" >0</text>
<text x="140.66" y="570.60" font-size="8.6" fill="#111" text-anchor="middle" textLength="9.10" lengthAdjust="spacingAndGlyphs" stroke="#111" stroke-width="0.1" >10</text>
<text x="168.92" y="570.60" font-size="8.6" fill="#111" text-anchor="middle" textLength="9.10" lengthAdjust="spacingAndGlyphs" stroke="#111" stroke-width="0.1" >20</text>
<text x="93.70" y="586.00" font-size="10.3" fill="#111" textLength="56.90" lengthAdjust="spacingAndGlyphs" stroke="#111" stroke-width="0.1" >PC1 (38.4%)</text>
<text transform="translate(29.3,525.8) rotate(-90)" font-size="10.3" fill="#111" stroke="#111" stroke-width="0.1" textLength="55.8" lengthAdjust="spacingAndGlyphs">PC2 (20.6%)</text>
<line x1="112.50" y1="442.50" x2="112.50" y2="554.90" stroke="#000" stroke-width="1.1" stroke-dasharray="1.2,1.4"/>
<line x1="58.10" y1="501.80" x2="187.00" y2="501.80" stroke="#000" stroke-width="1.1" stroke-dasharray="1.2,1.4"/>
<rect x="71.2" y="443.5" width="5.6" height="5.6" fill="#4f2468" stroke="#111" stroke-width="1.0"/>
<text x="77.80" y="449.80" font-size="8.0" fill="#111" textLength="25.70" lengthAdjust="spacingAndGlyphs" stroke="#111" stroke-width="0.1" >S138F-3</text>
<rect x="179.5" y="457" width="5.6" height="5.6" fill="#6cb043" stroke="#111" stroke-width="1.0"/>
<text x="150.80" y="463.00" font-size="8.0" fill="#111" textLength="26.40" lengthAdjust="spacingAndGlyphs" stroke="#111" stroke-width="0.1" >P131S-2</text>
<rect x="60.6" y="497.2" width="5.6" height="5.6" fill="#4f2468" stroke="#111" stroke-width="1.0"/>
<text x="67.30" y="502.50" font-size="8.0" fill="#111" textLength="25.40" lengthAdjust="spacingAndGlyphs" stroke="#111" stroke-width="0.1" >S138F-1</text>
<rect x="76.8" y="503.1" width="5.6" height="5.6" fill="#4f2468" stroke="#111" stroke-width="1.0"/>
<text x="83.50" y="508.70" font-size="8.0" fill="#111" textLength="25.70" lengthAdjust="spacingAndGlyphs" stroke="#111" stroke-width="0.1" >S138F-4</text>
<rect x="75.1" y="517.2" width="5.6" height="5.6" fill="#4f2468" stroke="#111" stroke-width="1.0"/>
<text x="82.40" y="523.20" font-size="8.0" fill="#111" textLength="25.60" lengthAdjust="spacingAndGlyphs" stroke="#111" stroke-width="0.1" >S138F-2</text>
<rect x="162.8" y="498.6" width="5.6" height="5.6" fill="#6cb043" stroke="#111" stroke-width="1.0"/>
<text x="169.20" y="500.20" font-size="8.0" fill="#111" textLength="25.40" lengthAdjust="spacingAndGlyphs" stroke="#111" stroke-width="0.1" >P131S-1</text>
<rect x="109.6" y="531.4" width="5.6" height="5.6" fill="#2e5291" stroke="#111" stroke-width="1.0"/>
<text x="117.60" y="537.20" font-size="8.0" fill="#111" textLength="17.00" lengthAdjust="spacingAndGlyphs" stroke="#111" stroke-width="0.1" >WT-2</text>
<rect x="140.4" y="547.1" width="5.6" height="5.6" fill="#2e5291" stroke="#111" stroke-width="1.0"/>
<text x="148.30" y="552.80" font-size="8.0" fill="#111" textLength="15.70" lengthAdjust="spacingAndGlyphs" stroke="#111" stroke-width="0.1" >WT-1</text>
<line x1="272.20" y1="92.90" x2="404.80" y2="92.90" stroke="#ececec" stroke-width="0.6" />
<line x1="272.20" y1="84.88" x2="404.80" y2="84.88" stroke="#ececec" stroke-width="0.6" />
<line x1="272.20" y1="76.86" x2="404.80" y2="76.86" stroke="#ececec" stroke-width="0.6" />
<line x1="272.20" y1="68.84" x2="404.80" y2="68.84" stroke="#ececec" stroke-width="0.6" />
<line x1="272.20" y1="60.82" x2="404.80" y2="60.82" stroke="#ececec" stroke-width="0.6" />
<line x1="272.20" y1="52.80" x2="404.80" y2="52.80" stroke="#ececec" stroke-width="0.6" />
<line x1="272.20" y1="44.78" x2="404.80" y2="44.78" stroke="#ececec" stroke-width="0.6" />
<line x1="290.96" y1="44.30" x2="290.96" y2="97.00" stroke="#ececec" stroke-width="0.6" />
<line x1="290.96" y1="120.60" x2="290.96" y2="156.20" stroke="#ececec" stroke-width="0.6" />
<line x1="309.72" y1="44.30" x2="309.72" y2="97.00" stroke="#ececec" stroke-width="0.6" />
<line x1="309.72" y1="120.60" x2="309.72" y2="156.20" stroke="#ececec" stroke-width="0.6" />
<line x1="328.48" y1="44.30" x2="328.48" y2="97.00" stroke="#ececec" stroke-width="0.6" />
<line x1="328.48" y1="120.60" x2="328.48" y2="156.20" stroke="#ececec" stroke-width="0.6" />
<line x1="347.24" y1="44.30" x2="347.24" y2="97.00" stroke="#ececec" stroke-width="0.6" />
<line x1="347.24" y1="120.60" x2="347.24" y2="156.20" stroke="#ececec" stroke-width="0.6" />
<line x1="366.00" y1="44.30" x2="366.00" y2="97.00" stroke="#ececec" stroke-width="0.6" />
<line x1="366.00" y1="120.60" x2="366.00" y2="156.20" stroke="#ececec" stroke-width="0.6" />
<line x1="384.76" y1="44.30" x2="384.76" y2="97.00" stroke="#ececec" stroke-width="0.6" />
<line x1="384.76" y1="120.60" x2="384.76" y2="156.20" stroke="#ececec" stroke-width="0.6" />
<line x1="403.52" y1="44.30" x2="403.52" y2="97.00" stroke="#ececec" stroke-width="0.6" />
<line x1="403.52" y1="120.60" x2="403.52" y2="156.20" stroke="#ececec" stroke-width="0.6" />
<line x1="272.20" y1="129.60" x2="404.80" y2="129.60" stroke="#ececec" stroke-width="0.6" />
<line x1="272.20" y1="139.90" x2="404.80" y2="139.90" stroke="#ececec" stroke-width="0.6" />
<line x1="272.20" y1="150.20" x2="404.80" y2="150.20" stroke="#ececec" stroke-width="0.6" />
<line x1="272.20" y1="92.90" x2="404.80" y2="92.90" stroke="#cfcfcf" stroke-width="1.3" />
<line x1="272.20" y1="97.00" x2="404.80" y2="97.00" stroke="#d8d8d8" stroke-width="0.8" />
<line x1="272.20" y1="121.00" x2="404.80" y2="121.00" stroke="#d8d8d8" stroke-width="0.8" />
<line x1="275.40" y1="98.20" x2="275.40" y2="115.60" stroke="#666" stroke-width="1.0" />
<line x1="277.80" y1="98.20" x2="277.80" y2="115.60" stroke="#888" stroke-width="1.0" />
<line x1="279.20" y1="98.20" x2="279.20" y2="115.60" stroke="#999" stroke-width="1.0" />
<line x1="281.40" y1="98.20" x2="281.40" y2="115.60" stroke="#777" stroke-width="1.0" />
<line x1="285.10" y1="98.20" x2="285.10" y2="115.60" stroke="#aaa" stroke-width="1.0" />
<line x1="288.80" y1="98.20" x2="288.80" y2="115.60" stroke="#666" stroke-width="1.0" />
<line x1="292.20" y1="98.20" x2="292.20" y2="115.60" stroke="#888" stroke-width="1.0" />
<line x1="295.80" y1="98.20" x2="295.80" y2="115.60" stroke="#999" stroke-width="1.0" />
<line x1="301.20" y1="98.20" x2="301.20" y2="115.60" stroke="#777" stroke-width="1.0" />
<line x1="304.70" y1="98.20" x2="304.70" y2="115.60" stroke="#aaa" stroke-width="1.0" />
<line x1="308.40" y1="98.20" x2="308.40" y2="115.60" stroke="#666" stroke-width="1.0" />
<line x1="314.40" y1="98.20" x2="314.40" y2="115.60" stroke="#888" stroke-width="1.0" />
<line x1="319.10" y1="98.20" x2="319.10" y2="115.60" stroke="#999" stroke-width="1.0" />
<line x1="324.90" y1="98.20" x2="324.90" y2="115.60" stroke="#777" stroke-width="1.0" />
<line x1="337.30" y1="98.20" x2="337.30" y2="115.60" stroke="#aaa" stroke-width="1.0" />
<line x1="338.50" y1="98.20" x2="338.50" y2="115.60" stroke="#666" stroke-width="1.0" />
<line x1="343.50" y1="98.20" x2="343.50" y2="115.60" stroke="#888" stroke-width="1.0" />
<line x1="345.40" y1="98.20" x2="345.40" y2="115.60" stroke="#999" stroke-width="1.0" />
<line x1="365.70" y1="98.20" x2="365.70" y2="115.60" stroke="#777" stroke-width="1.0" />
<line x1="375.70" y1="98.20" x2="375.70" y2="115.60" stroke="#aaa" stroke-width="1.0" />
<g shape-rendering="crispEdges">
<rect x="272.6" y="116.1" width="26.3" height="4" fill="#d84a52"/>
<rect x="298.8" y="116.1" width="10.6" height="4" fill="#dc6470"/>
<rect x="309.3" y="116.1" width="11.8" height="4" fill="#e07d84"/>
<rect x="321" y="116.1" width="15.9" height="4" fill="#e9b6d6"/>
<rect x="336.8" y="116.1" width="14.5" height="4" fill="#d3cff0"/>
<rect x="351.2" y="116.1" width="13.1" height="4" fill="#bdb6e6"/>
<rect x="364.2" y="116.1" width="10.6" height="4" fill="#7a71c1"/>
<rect x="374.7" y="116.1" width="18.4" height="4" fill="#4c40a0"/>
<rect x="393" y="116.1" width="5.4" height="4" fill="#2b2088"/>
</g>
<path d="M272.80,139.60 L272.80,135.60 L274.00,136.40 L277.00,137.20 L282.00,137.70 L292.00,138.30 L305.00,138.80 L320.00,139.20 L337.00,139.60 L355.00,140.20 L375.00,141.00 L388.00,141.80 L394.00,142.80 L396.50,144.20 L397.80,146.20 L398.40,147.50 L398.40,139.60 Z" fill="#c9c9c9" stroke="#bbb" stroke-width="0.4"/>
<path d="M272.20,92.90 L273.50,93.60 L275.80,94.80 L276.30,89.00 L278.70,89.80 L279.10,84.70 L280.90,79.00 L281.40,70.30 L284.50,66.70 L286.60,68.80 L287.10,65.20 L289.60,58.00 L292.40,56.60 L294.60,58.00 L295.40,52.70 L299.60,54.40 L300.60,53.00 L305.40,55.10 L305.90,51.50 L308.80,46.70 L312.60,48.90 L313.40,48.30 L316.90,50.80 L319.20,50.80 L325.60,53.70 L330.00,56.20 L344.60,64.60 L346.90,65.40 L365.10,77.20 L365.60,75.70 L375.40,81.50 L375.80,78.50 L398.50,92.80" fill="none" stroke="#6aab3b" stroke-width="1.3" stroke-linejoin="round"/>
<rect x="272.20" y="44.30" width="132.60" height="111.90" fill="none" stroke="#000" stroke-width="1.6"/>
<line x1="268.80" y1="92.90" x2="272.20" y2="92.90" stroke="#000" stroke-width="1.0" />
<line x1="268.80" y1="84.88" x2="272.20" y2="84.88" stroke="#000" stroke-width="1.0" />
<line x1="268.80" y1="76.86" x2="272.20" y2="76.86" stroke="#000" stroke-width="1.0" />
<line x1="268.80" y1="68.84" x2="272.20" y2="68.84" stroke="#000" stroke-width="1.0" />
<line x1="268.80" y1="60.82" x2="272.20" y2="60.82" stroke="#000" stroke-width="1.0" />
<line x1="268.80" y1="52.80" x2="272.20" y2="52.80" stroke="#000" stroke-width="1.0" />
<line x1="268.80" y1="44.78" x2="272.20" y2="44.78" stroke="#000" stroke-width="1.0" />
<line x1="268.80" y1="129.60" x2="272.20" y2="129.60" stroke="#000" stroke-width="1.0" />
<line x1="268.80" y1="139.90" x2="272.20" y2="139.90" stroke="#000" stroke-width="1.0" />
<line x1="268.80" y1="150.20" x2="272.20" y2="150.20" stroke="#000" stroke-width="1.0" />
<line x1="272.20" y1="156.20" x2="272.20" y2="159.40" stroke="#000" stroke-width="1.0" />
<text x="272.20" y="168.60" font-size="6.4" fill="#555" text-anchor="middle" textLength="3.30" lengthAdjust="spacingAndGlyphs" stroke="#555" stroke-width="0.1" >0</text>
<line x1="290.96" y1="156.20" x2="290.96" y2="159.40" stroke="#000" stroke-width="1.0" />
<text x="290.96" y="168.60" font-size="6.4" fill="#555" text-anchor="middle" textLength="12.40" lengthAdjust="spacingAndGlyphs" stroke="#555" stroke-width="0.1" >1000</text>
<line x1="309.72" y1="156.20" x2="309.72" y2="159.40" stroke="#000" stroke-width="1.0" />
<text x="309.72" y="168.60" font-size="6.4" fill="#555" text-anchor="middle" textLength="12.40" lengthAdjust="spacingAndGlyphs" stroke="#555" stroke-width="0.1" >2000</text>
<line x1="328.48" y1="156.20" x2="328.48" y2="159.40" stroke="#000" stroke-width="1.0" />
<text x="328.48" y="168.60" font-size="6.4" fill="#555" text-anchor="middle" textLength="12.40" lengthAdjust="spacingAndGlyphs" stroke="#555" stroke-width="0.1" >3000</text>
<line x1="347.24" y1="156.20" x2="347.24" y2="159.40" stroke="#000" stroke-width="1.0" />
<text x="347.24" y="168.60" font-size="6.4" fill="#555" text-anchor="middle" textLength="12.40" lengthAdjust="spacingAndGlyphs" stroke="#555" stroke-width="0.1" >4000</text>
<line x1="366.00" y1="156.20" x2="366.00" y2="159.40" stroke="#000" stroke-width="1.0" />
<text x="366.00" y="168.60" font-size="6.4" fill="#555" text-anchor="middle" textLength="12.40" lengthAdjust="spacingAndGlyphs" stroke="#555" stroke-width="0.1" >5000</text>
<line x1="384.76" y1="156.20" x2="384.76" y2="159.40" stroke="#000" stroke-width="1.0" />
<text x="384.76" y="168.60" font-size="6.4" fill="#555" text-anchor="middle" textLength="12.40" lengthAdjust="spacingAndGlyphs" stroke="#555" stroke-width="0.1" >6000</text>
<line x1="403.52" y1="156.20" x2="403.52" y2="159.40" stroke="#000" stroke-width="1.0" />
<text x="403.52" y="168.60" font-size="6.4" fill="#555" text-anchor="middle" textLength="12.40" lengthAdjust="spacingAndGlyphs" stroke="#555" stroke-width="0.1" >7000</text>
<text x="265.00" y="95.30" font-size="6.8" fill="#222" text-anchor="end" textLength="8.00" lengthAdjust="spacingAndGlyphs" stroke="#222" stroke-width="0.1" >0.0</text>
<text x="265.00" y="87.28" font-size="6.8" fill="#222" text-anchor="end" textLength="8.00" lengthAdjust="spacingAndGlyphs" stroke="#222" stroke-width="0.1" >0.1</text>
<text x="265.00" y="79.26" font-size="6.8" fill="#222" text-anchor="end" textLength="8.00" lengthAdjust="spacingAndGlyphs" stroke="#222" stroke-width="0.1" >0.2</text>
<text x="265.00" y="71.24" font-size="6.8" fill="#222" text-anchor="end" textLength="8.00" lengthAdjust="spacingAndGlyphs" stroke="#222" stroke-width="0.1" >0.3</text>
<text x="265.00" y="63.22" font-size="6.8" fill="#222" text-anchor="end" textLength="8.00" lengthAdjust="spacingAndGlyphs" stroke="#222" stroke-width="0.1" >0.4</text>
<text x="265.00" y="55.20" font-size="6.8" fill="#222" text-anchor="end" textLength="8.00" lengthAdjust="spacingAndGlyphs" stroke="#222" stroke-width="0.1" >0.5</text>
<text x="265.00" y="47.18" font-size="6.8" fill="#222" text-anchor="end" textLength="8.00" lengthAdjust="spacingAndGlyphs" stroke="#222" stroke-width="0.1" >0.6</text>
<text x="265.00" y="132.00" font-size="6.8" fill="#222" text-anchor="end" textLength="8.00" lengthAdjust="spacingAndGlyphs" stroke="#222" stroke-width="0.1" >2.5</text>
<text x="265.00" y="142.30" font-size="6.8" fill="#222" text-anchor="end" textLength="8.00" lengthAdjust="spacingAndGlyphs" stroke="#222" stroke-width="0.1" >0.0</text>
<text x="265.00" y="152.60" font-size="6.8" fill="#222" text-anchor="end" textLength="9.80" lengthAdjust="spacingAndGlyphs" stroke="#222" stroke-width="0.1" >-2.5</text>
<text x="345.10" y="53.10" font-size="6.9" font-weight="bold" fill="#000" textLength="52.60" lengthAdjust="spacingAndGlyphs">NOM <tspan font-style="italic">P</tspan>-value=0.0</text>
<text x="342.00" y="60.80" font-size="6.9" font-weight="bold" fill="#000" textLength="59.50" lengthAdjust="spacingAndGlyphs">FDR <tspan font-style="italic">Q</tspan>-value=0.113</text>
<text x="273.90" y="127.40" font-size="6.9" fill="#d33a40" font-weight="bold" textLength="89.70" lengthAdjust="spacingAndGlyphs" >‘P131S’ (positively correlated)</text>
<text x="306.10" y="137.80" font-size="6.9" fill="#000" font-weight="bold" textLength="57.50" lengthAdjust="spacingAndGlyphs" >Zero cross at 3456</text>
<text x="313.90" y="153.80" font-size="6.9" fill="#3b34a0" font-weight="bold" textLength="86.10" lengthAdjust="spacingAndGlyphs" >‘WT’ (negatively correlated)</text>
<text x="338.70" y="23.30" font-size="6.6" fill="#000" text-anchor="middle" textLength="82.50" lengthAdjust="spacingAndGlyphs">GFP-RPS15<tspan font-size="3.4" dy="-2.6">P131S</tspan><tspan dy="2.6"> vs GFP-RPS15</tspan><tspan font-size="3.4" dy="-2.6">WT</tspan><tspan dy="2.6"></tspan></text>
<text x="338.70" y="30.90" font-size="6.6" fill="#000" text-anchor="middle" textLength="43.70" lengthAdjust="spacingAndGlyphs">Enrichment plot:</text>
<text x="338.70" y="37.70" font-size="6.6" fill="#000" text-anchor="middle" textLength="93.50" lengthAdjust="spacingAndGlyphs">REACTOME DNA Strand elongation</text>
<text x="294.00" y="181.60" font-size="9.4" fill="#111" textLength="88.30" lengthAdjust="spacingAndGlyphs" stroke="#111" stroke-width="0.1" >Rank in ordered dataset</text>
<text transform="translate(243.4,109.30) rotate(-90)" font-size="7.4" fill="#111" stroke="#111" stroke-width="0.2" textLength="80.3" lengthAdjust="spacingAndGlyphs">Enrichment score (ES)</text>
<text transform="translate(236.9,173.00) rotate(-90)" font-size="7.4" fill="#111" stroke="#111" stroke-width="0.2" textLength="66.3" lengthAdjust="spacingAndGlyphs">Ranked list metric</text>
<text transform="translate(246.4,168.90) rotate(-90)" font-size="7.4" fill="#111" stroke="#111" stroke-width="0.2" textLength="58.8" lengthAdjust="spacingAndGlyphs">(signal to noise)</text>
<line x1="292.10" y1="194.80" x2="298.60" y2="194.80" stroke="#6aab3b" stroke-width="1.3" />
<text x="302.90" y="197.00" font-size="6.8" fill="#333" textLength="49.30" lengthAdjust="spacingAndGlyphs" stroke="#333" stroke-width="0.1" >Enrichment profile</text>
<line x1="362.90" y1="194.80" x2="369.40" y2="194.80" stroke="#000" stroke-width="1.3" />
<text x="372.90" y="197.00" font-size="6.8" fill="#333" textLength="10.80" lengthAdjust="spacingAndGlyphs" stroke="#333" stroke-width="0.1" >Hits</text>
<line x1="302.00" y1="203.50" x2="308.30" y2="203.50" stroke="#bbb" stroke-width="1.3" />
<text x="312.30" y="205.70" font-size="6.8" fill="#333" textLength="58.70" lengthAdjust="spacingAndGlyphs" stroke="#333" stroke-width="0.1" >Ranking metric scores</text>
<line x1="272.30" y1="259.60" x2="405.40" y2="259.60" stroke="#ececec" stroke-width="0.6" />
<line x1="272.30" y1="268.98" x2="405.40" y2="268.98" stroke="#ececec" stroke-width="0.6" />
<line x1="272.30" y1="278.36" x2="405.40" y2="278.36" stroke="#ececec" stroke-width="0.6" />
<line x1="272.30" y1="287.74" x2="405.40" y2="287.74" stroke="#ececec" stroke-width="0.6" />
<line x1="272.30" y1="297.12" x2="405.40" y2="297.12" stroke="#ececec" stroke-width="0.6" />
<line x1="272.30" y1="306.50" x2="405.40" y2="306.50" stroke="#ececec" stroke-width="0.6" />
<line x1="291.06" y1="256.70" x2="291.06" y2="309.90" stroke="#ececec" stroke-width="0.6" />
<line x1="291.06" y1="332.50" x2="291.06" y2="368.00" stroke="#ececec" stroke-width="0.6" />
<line x1="309.82" y1="256.70" x2="309.82" y2="309.90" stroke="#ececec" stroke-width="0.6" />
<line x1="309.82" y1="332.50" x2="309.82" y2="368.00" stroke="#ececec" stroke-width="0.6" />
<line x1="328.58" y1="256.70" x2="328.58" y2="309.90" stroke="#ececec" stroke-width="0.6" />
<line x1="328.58" y1="332.50" x2="328.58" y2="368.00" stroke="#ececec" stroke-width="0.6" />
<line x1="347.34" y1="256.70" x2="347.34" y2="309.90" stroke="#ececec" stroke-width="0.6" />
<line x1="347.34" y1="332.50" x2="347.34" y2="368.00" stroke="#ececec" stroke-width="0.6" />
<line x1="366.10" y1="256.70" x2="366.10" y2="309.90" stroke="#ececec" stroke-width="0.6" />
<line x1="366.10" y1="332.50" x2="366.10" y2="368.00" stroke="#ececec" stroke-width="0.6" />
<line x1="384.86" y1="256.70" x2="384.86" y2="309.90" stroke="#ececec" stroke-width="0.6" />
<line x1="384.86" y1="332.50" x2="384.86" y2="368.00" stroke="#ececec" stroke-width="0.6" />
<line x1="403.62" y1="256.70" x2="403.62" y2="309.90" stroke="#ececec" stroke-width="0.6" />
<line x1="403.62" y1="332.50" x2="403.62" y2="368.00" stroke="#ececec" stroke-width="0.6" />
<line x1="272.30" y1="342.40" x2="405.40" y2="342.40" stroke="#ececec" stroke-width="0.6" />
<line x1="272.30" y1="352.30" x2="405.40" y2="352.30" stroke="#ececec" stroke-width="0.6" />
<line x1="272.30" y1="362.20" x2="405.40" y2="362.20" stroke="#ececec" stroke-width="0.6" />
<line x1="272.30" y1="259.60" x2="405.40" y2="259.60" stroke="#cfcfcf" stroke-width="1.3" />
<line x1="272.30" y1="309.90" x2="405.40" y2="309.90" stroke="#d8d8d8" stroke-width="0.8" />
<line x1="272.30" y1="332.90" x2="405.40" y2="332.90" stroke="#d8d8d8" stroke-width="0.8" />
<line x1="286.80" y1="311.00" x2="286.80" y2="327.40" stroke="#666" stroke-width="1.0" />
<line x1="290.10" y1="311.00" x2="290.10" y2="327.40" stroke="#888" stroke-width="1.0" />
<line x1="321.60" y1="311.00" x2="321.60" y2="327.40" stroke="#999" stroke-width="1.0" />
<line x1="330.80" y1="311.00" x2="330.80" y2="327.40" stroke="#777" stroke-width="1.0" />
<line x1="331.80" y1="311.00" x2="331.80" y2="327.40" stroke="#aaa" stroke-width="1.0" />
<line x1="332.80" y1="311.00" x2="332.80" y2="327.40" stroke="#666" stroke-width="1.0" />
<line x1="340.60" y1="311.00" x2="340.60" y2="327.40" stroke="#888" stroke-width="1.0" />
<line x1="341.90" y1="311.00" x2="341.90" y2="327.40" stroke="#999" stroke-width="1.0" />
<line x1="346.50" y1="311.00" x2="346.50" y2="327.40" stroke="#777" stroke-width="1.0" />
<line x1="349.60" y1="311.00" x2="349.60" y2="327.40" stroke="#aaa" stroke-width="1.0" />
<line x1="350.60" y1="311.00" x2="350.60" y2="327.40" stroke="#666" stroke-width="1.0" />
<line x1="351.60" y1="311.00" x2="351.60" y2="327.40" stroke="#888" stroke-width="1.0" />
<line x1="352.60" y1="311.00" x2="352.60" y2="327.40" stroke="#999" stroke-width="1.0" />
<line x1="353.60" y1="311.00" x2="353.60" y2="327.40" stroke="#777" stroke-width="1.0" />
<line x1="354.40" y1="311.00" x2="354.40" y2="327.40" stroke="#aaa" stroke-width="1.0" />
<line x1="357.00" y1="311.00" x2="357.00" y2="327.40" stroke="#666" stroke-width="1.0" />
<line x1="358.20" y1="311.00" x2="358.20" y2="327.40" stroke="#888" stroke-width="1.0" />
<line x1="361.00" y1="311.00" x2="361.00" y2="327.40" stroke="#999" stroke-width="1.0" />
<line x1="362.20" y1="311.00" x2="362.20" y2="327.40" stroke="#777" stroke-width="1.0" />
<line x1="365.00" y1="311.00" x2="365.00" y2="327.40" stroke="#aaa" stroke-width="1.0" />
<line x1="366.30" y1="311.00" x2="366.30" y2="327.40" stroke="#666" stroke-width="1.0" />
<line x1="368.20" y1="311.00" x2="368.20" y2="327.40" stroke="#888" stroke-width="1.0" />
<line x1="369.20" y1="311.00" x2="369.20" y2="327.40" stroke="#999" stroke-width="1.0" />
<line x1="370.20" y1="311.00" x2="370.20" y2="327.40" stroke="#777" stroke-width="1.0" />
<line x1="371.20" y1="311.00" x2="371.20" y2="327.40" stroke="#aaa" stroke-width="1.0" />
<line x1="375.60" y1="311.00" x2="375.60" y2="327.40" stroke="#666" stroke-width="1.0" />
<line x1="376.80" y1="311.00" x2="376.80" y2="327.40" stroke="#888" stroke-width="1.0" />
<line x1="379.60" y1="311.00" x2="379.60" y2="327.40" stroke="#999" stroke-width="1.0" />
<line x1="380.60" y1="311.00" x2="380.60" y2="327.40" stroke="#777" stroke-width="1.0" />
<line x1="381.60" y1="311.00" x2="381.60" y2="327.40" stroke="#aaa" stroke-width="1.0" />
<line x1="382.40" y1="311.00" x2="382.40" y2="327.40" stroke="#666" stroke-width="1.0" />
<line x1="389.10" y1="311.00" x2="389.10" y2="327.40" stroke="#888" stroke-width="1.0" />
<line x1="398.00" y1="311.00" x2="398.00" y2="327.40" stroke="#999" stroke-width="1.0" />
<g shape-rendering="crispEdges">
<rect x="272.6" y="327.9" width="26.3" height="4.1" fill="#d84a52"/>
<rect x="298.8" y="327.9" width="10.6" height="4.1" fill="#dc6470"/>
<rect x="309.3" y="327.9" width="11.8" height="4.1" fill="#e07d84"/>
<rect x="321" y="327.9" width="15.9" height="4.1" fill="#e9b6d6"/>
<rect x="336.8" y="327.9" width="14.5" height="4.1" fill="#d3cff0"/>
<rect x="351.2" y="327.9" width="13.1" height="4.1" fill="#bdb6e6"/>
<rect x="364.2" y="327.9" width="10.6" height="4.1" fill="#7a71c1"/>
<rect x="374.7" y="327.9" width="18.4" height="4.1" fill="#4c40a0"/>
<rect x="393" y="327.9" width="5.4" height="4.1" fill="#2b2088"/>
</g>
<path d="M272.80,352.00 L272.80,348.00 L274.00,348.80 L277.00,349.60 L282.00,350.10 L292.00,350.70 L305.00,351.20 L320.00,351.60 L337.00,352.00 L355.00,352.60 L375.00,353.40 L388.00,354.20 L394.00,355.20 L396.50,356.60 L397.80,358.60 L398.40,359.90 L398.40,352.00 Z" fill="#c9c9c9" stroke="#bbb" stroke-width="0.4"/>
<path d="M272.60,259.80 L285.90,269.00 L286.40,267.30 L289.50,269.00 L290.00,267.30 L320.80,290.40 L330.00,296.20 L345.40,305.70 L347.20,305.40 L349.70,307.40 L350.60,305.10 L354.30,304.80 L355.00,303.50 L358.50,304.20 L361.50,306.20 L362.20,304.80 L365.70,303.60 L367.70,303.10 L370.30,302.60 L372.30,291.50 L374.60,290.80 L376.20,291.50 L378.50,290.80 L379.20,280.80 L380.80,277.70 L383.10,260.80 L385.40,260.50 L387.70,263.50 L388.40,260.50 L396.90,266.20 L397.30,259.80" fill="none" stroke="#6aab3b" stroke-width="1.3" stroke-linejoin="round"/>
<rect x="272.30" y="256.70" width="133.10" height="111.30" fill="none" stroke="#000" stroke-width="1.6"/>
<line x1="268.90" y1="259.60" x2="272.30" y2="259.60" stroke="#000" stroke-width="1.0" />
<line x1="268.90" y1="268.98" x2="272.30" y2="268.98" stroke="#000" stroke-width="1.0" />
<line x1="268.90" y1="278.36" x2="272.30" y2="278.36" stroke="#000" stroke-width="1.0" />
<line x1="268.90" y1="287.74" x2="272.30" y2="287.74" stroke="#000" stroke-width="1.0" />
<line x1="268.90" y1="297.12" x2="272.30" y2="297.12" stroke="#000" stroke-width="1.0" />
<line x1="268.90" y1="306.50" x2="272.30" y2="306.50" stroke="#000" stroke-width="1.0" />
<line x1="268.90" y1="342.40" x2="272.30" y2="342.40" stroke="#000" stroke-width="1.0" />
<line x1="268.90" y1="352.30" x2="272.30" y2="352.30" stroke="#000" stroke-width="1.0" />
<line x1="268.90" y1="362.20" x2="272.30" y2="362.20" stroke="#000" stroke-width="1.0" />
<line x1="272.30" y1="368.00" x2="272.30" y2="371.20" stroke="#000" stroke-width="1.0" />
<text x="272.30" y="380.40" font-size="6.4" fill="#555" text-anchor="middle" textLength="3.30" lengthAdjust="spacingAndGlyphs" stroke="#555" stroke-width="0.1" >0</text>
<line x1="291.06" y1="368.00" x2="291.06" y2="371.20" stroke="#000" stroke-width="1.0" />
<text x="291.06" y="380.40" font-size="6.4" fill="#555" text-anchor="middle" textLength="12.40" lengthAdjust="spacingAndGlyphs" stroke="#555" stroke-width="0.1" >1000</text>
<line x1="309.82" y1="368.00" x2="309.82" y2="371.20" stroke="#000" stroke-width="1.0" />
<text x="309.82" y="380.40" font-size="6.4" fill="#555" text-anchor="middle" textLength="12.40" lengthAdjust="spacingAndGlyphs" stroke="#555" stroke-width="0.1" >2000</text>
<line x1="328.58" y1="368.00" x2="328.58" y2="371.20" stroke="#000" stroke-width="1.0" />
<text x="328.58" y="380.40" font-size="6.4" fill="#555" text-anchor="middle" textLength="12.40" lengthAdjust="spacingAndGlyphs" stroke="#555" stroke-width="0.1" >3000</text>
<line x1="347.34" y1="368.00" x2="347.34" y2="371.20" stroke="#000" stroke-width="1.0" />
<text x="347.34" y="380.40" font-size="6.4" fill="#555" text-anchor="middle" textLength="12.40" lengthAdjust="spacingAndGlyphs" stroke="#555" stroke-width="0.1" >4000</text>
<line x1="366.10" y1="368.00" x2="366.10" y2="371.20" stroke="#000" stroke-width="1.0" />
<text x="366.10" y="380.40" font-size="6.4" fill="#555" text-anchor="middle" textLength="12.40" lengthAdjust="spacingAndGlyphs" stroke="#555" stroke-width="0.1" >5000</text>
<line x1="384.86" y1="368.00" x2="384.86" y2="371.20" stroke="#000" stroke-width="1.0" />
<text x="384.86" y="380.40" font-size="6.4" fill="#555" text-anchor="middle" textLength="12.40" lengthAdjust="spacingAndGlyphs" stroke="#555" stroke-width="0.1" >6000</text>
<line x1="403.62" y1="368.00" x2="403.62" y2="371.20" stroke="#000" stroke-width="1.0" />
<text x="403.62" y="380.40" font-size="6.4" fill="#555" text-anchor="middle" textLength="12.40" lengthAdjust="spacingAndGlyphs" stroke="#555" stroke-width="0.1" >7000</text>
<text x="265.10" y="262.00" font-size="6.8" fill="#222" text-anchor="end" textLength="8.00" lengthAdjust="spacingAndGlyphs" stroke="#222" stroke-width="0.1" >0.0</text>
<text x="265.10" y="271.38" font-size="6.8" fill="#222" text-anchor="end" textLength="9.80" lengthAdjust="spacingAndGlyphs" stroke="#222" stroke-width="0.1" >-0.1</text>
<text x="265.10" y="280.76" font-size="6.8" fill="#222" text-anchor="end" textLength="9.80" lengthAdjust="spacingAndGlyphs" stroke="#222" stroke-width="0.1" >-0.2</text>
<text x="265.10" y="290.14" font-size="6.8" fill="#222" text-anchor="end" textLength="9.80" lengthAdjust="spacingAndGlyphs" stroke="#222" stroke-width="0.1" >-0.3</text>
<text x="265.10" y="299.52" font-size="6.8" fill="#222" text-anchor="end" textLength="9.80" lengthAdjust="spacingAndGlyphs" stroke="#222" stroke-width="0.1" >-0.4</text>
<text x="265.10" y="308.90" font-size="6.8" fill="#222" text-anchor="end" textLength="9.80" lengthAdjust="spacingAndGlyphs" stroke="#222" stroke-width="0.1" >-0.5</text>
<text x="265.10" y="344.80" font-size="6.8" fill="#222" text-anchor="end" textLength="8.00" lengthAdjust="spacingAndGlyphs" stroke="#222" stroke-width="0.1" >2.5</text>
<text x="265.10" y="354.70" font-size="6.8" fill="#222" text-anchor="end" textLength="8.00" lengthAdjust="spacingAndGlyphs" stroke="#222" stroke-width="0.1" >0.0</text>
<text x="265.10" y="364.60" font-size="6.8" fill="#222" text-anchor="end" textLength="9.80" lengthAdjust="spacingAndGlyphs" stroke="#222" stroke-width="0.1" >-2.5</text>
<text x="317.00" y="268.90" font-size="6.9" font-weight="bold" fill="#000" textLength="53.40" lengthAdjust="spacingAndGlyphs">NOM p-val=0.001</text>
<text x="318.40" y="277.40" font-size="6.9" font-weight="bold" fill="#000" textLength="50.30" lengthAdjust="spacingAndGlyphs">FDR q-val=0.011</text>
<text x="273.90" y="339.40" font-size="6.9" fill="#d33a40" font-weight="bold" textLength="89.70" lengthAdjust="spacingAndGlyphs" >‘P131S’ (positively correlated)</text>
<text x="306.10" y="349.10" font-size="6.9" fill="#000" font-weight="bold" textLength="57.50" lengthAdjust="spacingAndGlyphs" >Zero cross at 3456</text>
<text x="313.90" y="365.90" font-size="6.9" fill="#3b34a0" font-weight="bold" textLength="86.10" lengthAdjust="spacingAndGlyphs" >‘WT’ (negatively correlated)</text>
<text x="338.40" y="227.70" font-size="6.6" fill="#000" text-anchor="middle" textLength="82.40" lengthAdjust="spacingAndGlyphs">GFP-RPS15<tspan font-size="3.4" dy="-2.6">P131S</tspan><tspan dy="2.6"> vs GFP-RPS15</tspan><tspan font-size="3.4" dy="-2.6">WT</tspan><tspan dy="2.6"></tspan></text>
<text x="338.40" y="235.00" font-size="6.6" fill="#000" text-anchor="middle" textLength="41.60" lengthAdjust="spacingAndGlyphs">Enrichment plot:</text>
<text x="338.40" y="243.00" font-size="6.6" fill="#000" text-anchor="middle" textLength="93.50" lengthAdjust="spacingAndGlyphs">REACTOME Activation of the mRNA</text>
<text x="338.40" y="250.40" font-size="6.6" fill="#000" text-anchor="middle" textLength="84.90" lengthAdjust="spacingAndGlyphs">upon binding complex and eIFs</text>
<text x="294.00" y="393.30" font-size="9.4" fill="#111" textLength="88.30" lengthAdjust="spacingAndGlyphs" stroke="#111" stroke-width="0.1" >Rank in ordered dataset</text>
<text transform="translate(243.4,321.70) rotate(-90)" font-size="7.4" fill="#111" stroke="#111" stroke-width="0.2" textLength="80.3" lengthAdjust="spacingAndGlyphs">Enrichment score (ES)</text>
<text transform="translate(236.9,385.40) rotate(-90)" font-size="7.4" fill="#111" stroke="#111" stroke-width="0.2" textLength="66.3" lengthAdjust="spacingAndGlyphs">Ranked list metric</text>
<text transform="translate(246.4,381.30) rotate(-90)" font-size="7.4" fill="#111" stroke="#111" stroke-width="0.2" textLength="58.8" lengthAdjust="spacingAndGlyphs">(signal to noise)</text>
<line x1="292.10" y1="406.50" x2="298.60" y2="406.50" stroke="#6aab3b" stroke-width="1.3" />
<text x="302.90" y="408.70" font-size="6.8" fill="#333" textLength="49.30" lengthAdjust="spacingAndGlyphs" stroke="#333" stroke-width="0.1" >Enrichment profile</text>
<line x1="362.90" y1="406.50" x2="369.40" y2="406.50" stroke="#000" stroke-width="1.3" />
<text x="372.90" y="408.70" font-size="6.8" fill="#333" textLength="10.80" lengthAdjust="spacingAndGlyphs" stroke="#333" stroke-width="0.1" >Hits</text>
<line x1="302.00" y1="415.20" x2="308.30" y2="415.20" stroke="#bbb" stroke-width="1.3" />
<text x="312.30" y="417.40" font-size="6.8" fill="#333" textLength="58.70" lengthAdjust="spacingAndGlyphs" stroke="#333" stroke-width="0.1" >Ranking metric scores</text>
<line x1="271.80" y1="521.10" x2="405.80" y2="521.10" stroke="#ececec" stroke-width="0.6" />
<line x1="271.80" y1="514.67" x2="405.80" y2="514.67" stroke="#ececec" stroke-width="0.6" />
<line x1="271.80" y1="508.24" x2="405.80" y2="508.24" stroke="#ececec" stroke-width="0.6" />
<line x1="271.80" y1="501.81" x2="405.80" y2="501.81" stroke="#ececec" stroke-width="0.6" />
<line x1="271.80" y1="495.38" x2="405.80" y2="495.38" stroke="#ececec" stroke-width="0.6" />
<line x1="271.80" y1="488.95" x2="405.80" y2="488.95" stroke="#ececec" stroke-width="0.6" />
<line x1="271.80" y1="482.52" x2="405.80" y2="482.52" stroke="#ececec" stroke-width="0.6" />
<line x1="271.80" y1="476.09" x2="405.80" y2="476.09" stroke="#ececec" stroke-width="0.6" />
<line x1="290.56" y1="470.80" x2="290.56" y2="523.80" stroke="#ececec" stroke-width="0.6" />
<line x1="290.56" y1="547.50" x2="290.56" y2="583.00" stroke="#ececec" stroke-width="0.6" />
<line x1="309.32" y1="470.80" x2="309.32" y2="523.80" stroke="#ececec" stroke-width="0.6" />
<line x1="309.32" y1="547.50" x2="309.32" y2="583.00" stroke="#ececec" stroke-width="0.6" />
<line x1="328.08" y1="470.80" x2="328.08" y2="523.80" stroke="#ececec" stroke-width="0.6" />
<line x1="328.08" y1="547.50" x2="328.08" y2="583.00" stroke="#ececec" stroke-width="0.6" />
<line x1="346.84" y1="470.80" x2="346.84" y2="523.80" stroke="#ececec" stroke-width="0.6" />
<line x1="346.84" y1="547.50" x2="346.84" y2="583.00" stroke="#ececec" stroke-width="0.6" />
<line x1="365.60" y1="470.80" x2="365.60" y2="523.80" stroke="#ececec" stroke-width="0.6" />
<line x1="365.60" y1="547.50" x2="365.60" y2="583.00" stroke="#ececec" stroke-width="0.6" />
<line x1="384.36" y1="470.80" x2="384.36" y2="523.80" stroke="#ececec" stroke-width="0.6" />
<line x1="384.36" y1="547.50" x2="384.36" y2="583.00" stroke="#ececec" stroke-width="0.6" />
<line x1="403.12" y1="470.80" x2="403.12" y2="523.80" stroke="#ececec" stroke-width="0.6" />
<line x1="403.12" y1="547.50" x2="403.12" y2="583.00" stroke="#ececec" stroke-width="0.6" />
<line x1="271.80" y1="555.80" x2="405.80" y2="555.80" stroke="#ececec" stroke-width="0.6" />
<line x1="271.80" y1="564.50" x2="405.80" y2="564.50" stroke="#ececec" stroke-width="0.6" />
<line x1="271.80" y1="573.50" x2="405.80" y2="573.50" stroke="#ececec" stroke-width="0.6" />
<line x1="271.80" y1="521.10" x2="405.80" y2="521.10" stroke="#cfcfcf" stroke-width="1.3" />
<line x1="271.80" y1="523.80" x2="405.80" y2="523.80" stroke="#d8d8d8" stroke-width="0.8" />
<line x1="271.80" y1="547.90" x2="405.80" y2="547.90" stroke="#d8d8d8" stroke-width="0.8" />
<line x1="274.70" y1="525.20" x2="274.70" y2="542.60" stroke="#666" stroke-width="1.0" />
<line x1="276.10" y1="525.20" x2="276.10" y2="542.60" stroke="#888" stroke-width="1.0" />
<line x1="277.40" y1="525.20" x2="277.40" y2="542.60" stroke="#999" stroke-width="1.0" />
<line x1="278.80" y1="525.20" x2="278.80" y2="542.60" stroke="#777" stroke-width="1.0" />
<line x1="280.10" y1="525.20" x2="280.10" y2="542.60" stroke="#aaa" stroke-width="1.0" />
<line x1="281.50" y1="525.20" x2="281.50" y2="542.60" stroke="#666" stroke-width="1.0" />
<line x1="282.80" y1="525.20" x2="282.80" y2="542.60" stroke="#888" stroke-width="1.0" />
<line x1="287.40" y1="525.20" x2="287.40" y2="542.60" stroke="#999" stroke-width="1.0" />
<line x1="313.20" y1="525.20" x2="313.20" y2="542.60" stroke="#777" stroke-width="1.0" />
<line x1="341.20" y1="525.20" x2="341.20" y2="542.60" stroke="#aaa" stroke-width="1.0" />
<line x1="350.90" y1="525.20" x2="350.90" y2="542.60" stroke="#666" stroke-width="1.0" />
<line x1="352.00" y1="525.20" x2="352.00" y2="542.60" stroke="#888" stroke-width="1.0" />
<line x1="387.80" y1="525.20" x2="387.80" y2="542.60" stroke="#999" stroke-width="1.0" />
<g shape-rendering="crispEdges">
<rect x="272.6" y="543.1" width="26.3" height="3.9" fill="#d84a52"/>
<rect x="298.8" y="543.1" width="10.6" height="3.9" fill="#dc6470"/>
<rect x="309.3" y="543.1" width="11.8" height="3.9" fill="#e07d84"/>
<rect x="321" y="543.1" width="15.9" height="3.9" fill="#e9b6d6"/>
<rect x="336.8" y="543.1" width="14.5" height="3.9" fill="#d3cff0"/>
<rect x="351.2" y="543.1" width="13.1" height="3.9" fill="#bdb6e6"/>
<rect x="364.2" y="543.1" width="10.6" height="3.9" fill="#7a71c1"/>
<rect x="374.7" y="543.1" width="18.4" height="3.9" fill="#4c40a0"/>
<rect x="393" y="543.1" width="5.4" height="3.9" fill="#2b2088"/>
</g>
<path d="M272.80,564.30 L272.80,560.30 L274.00,561.10 L277.00,561.90 L282.00,562.40 L292.00,563.00 L305.00,563.50 L320.00,563.90 L337.00,564.30 L355.00,564.90 L375.00,565.70 L388.00,566.50 L394.00,567.50 L396.50,568.90 L397.80,570.90 L398.40,572.20 L398.40,564.30 Z" fill="#c9c9c9" stroke="#bbb" stroke-width="0.4"/>
<path d="M272.30,520.90 L275.30,522.70 L275.60,516.50 L276.20,504.90 L278.10,504.90 L278.50,486.90 L280.40,485.80 L280.60,482.80 L282.00,480.00 L282.60,475.40 L286.20,477.20 L286.80,474.20 L313.90,486.90 L315.20,486.20 L330.00,494.30 L351.40,503.50 L355.60,504.00 L387.70,520.20 L388.30,515.80 L398.30,520.80" fill="none" stroke="#6aab3b" stroke-width="1.3" stroke-linejoin="round"/>
<rect x="271.80" y="470.80" width="134.00" height="112.20" fill="none" stroke="#000" stroke-width="1.6"/>
<line x1="268.40" y1="521.10" x2="271.80" y2="521.10" stroke="#000" stroke-width="1.0" />
<line x1="268.40" y1="514.67" x2="271.80" y2="514.67" stroke="#000" stroke-width="1.0" />
<line x1="268.40" y1="508.24" x2="271.80" y2="508.24" stroke="#000" stroke-width="1.0" />
<line x1="268.40" y1="501.81" x2="271.80" y2="501.81" stroke="#000" stroke-width="1.0" />
<line x1="268.40" y1="495.38" x2="271.80" y2="495.38" stroke="#000" stroke-width="1.0" />
<line x1="268.40" y1="488.95" x2="271.80" y2="488.95" stroke="#000" stroke-width="1.0" />
<line x1="268.40" y1="482.52" x2="271.80" y2="482.52" stroke="#000" stroke-width="1.0" />
<line x1="268.40" y1="476.09" x2="271.80" y2="476.09" stroke="#000" stroke-width="1.0" />
<line x1="268.40" y1="555.80" x2="271.80" y2="555.80" stroke="#000" stroke-width="1.0" />
<line x1="268.40" y1="564.50" x2="271.80" y2="564.50" stroke="#000" stroke-width="1.0" />
<line x1="268.40" y1="573.50" x2="271.80" y2="573.50" stroke="#000" stroke-width="1.0" />
<line x1="271.80" y1="583.00" x2="271.80" y2="586.20" stroke="#000" stroke-width="1.0" />
<text x="271.80" y="595.40" font-size="6.4" fill="#555" text-anchor="middle" textLength="3.30" lengthAdjust="spacingAndGlyphs" stroke="#555" stroke-width="0.1" >0</text>
<line x1="290.56" y1="583.00" x2="290.56" y2="586.20" stroke="#000" stroke-width="1.0" />
<text x="290.56" y="595.40" font-size="6.4" fill="#555" text-anchor="middle" textLength="12.40" lengthAdjust="spacingAndGlyphs" stroke="#555" stroke-width="0.1" >1000</text>
<line x1="309.32" y1="583.00" x2="309.32" y2="586.20" stroke="#000" stroke-width="1.0" />
<text x="309.32" y="595.40" font-size="6.4" fill="#555" text-anchor="middle" textLength="12.40" lengthAdjust="spacingAndGlyphs" stroke="#555" stroke-width="0.1" >2000</text>
<line x1="328.08" y1="583.00" x2="328.08" y2="586.20" stroke="#000" stroke-width="1.0" />
<text x="328.08" y="595.40" font-size="6.4" fill="#555" text-anchor="middle" textLength="12.40" lengthAdjust="spacingAndGlyphs" stroke="#555" stroke-width="0.1" >3000</text>
<line x1="346.84" y1="583.00" x2="346.84" y2="586.20" stroke="#000" stroke-width="1.0" />
<text x="346.84" y="595.40" font-size="6.4" fill="#555" text-anchor="middle" textLength="12.40" lengthAdjust="spacingAndGlyphs" stroke="#555" stroke-width="0.1" >4000</text>
<line x1="365.60" y1="583.00" x2="365.60" y2="586.20" stroke="#000" stroke-width="1.0" />
<text x="365.60" y="595.40" font-size="6.4" fill="#555" text-anchor="middle" textLength="12.40" lengthAdjust="spacingAndGlyphs" stroke="#555" stroke-width="0.1" >5000</text>
<line x1="384.36" y1="583.00" x2="384.36" y2="586.20" stroke="#000" stroke-width="1.0" />
<text x="384.36" y="595.40" font-size="6.4" fill="#555" text-anchor="middle" textLength="12.40" lengthAdjust="spacingAndGlyphs" stroke="#555" stroke-width="0.1" >6000</text>
<line x1="403.12" y1="583.00" x2="403.12" y2="586.20" stroke="#000" stroke-width="1.0" />
<text x="403.12" y="595.40" font-size="6.4" fill="#555" text-anchor="middle" textLength="12.40" lengthAdjust="spacingAndGlyphs" stroke="#555" stroke-width="0.1" >7000</text>
<text x="264.60" y="523.50" font-size="6.8" fill="#222" text-anchor="end" textLength="8.00" lengthAdjust="spacingAndGlyphs" stroke="#222" stroke-width="0.1" >0.0</text>
<text x="264.60" y="517.07" font-size="6.8" fill="#222" text-anchor="end" textLength="8.00" lengthAdjust="spacingAndGlyphs" stroke="#222" stroke-width="0.1" >0.1</text>
<text x="264.60" y="510.64" font-size="6.8" fill="#222" text-anchor="end" textLength="8.00" lengthAdjust="spacingAndGlyphs" stroke="#222" stroke-width="0.1" >0.2</text>
<text x="264.60" y="504.21" font-size="6.8" fill="#222" text-anchor="end" textLength="8.00" lengthAdjust="spacingAndGlyphs" stroke="#222" stroke-width="0.1" >0.3</text>
<text x="264.60" y="497.78" font-size="6.8" fill="#222" text-anchor="end" textLength="8.00" lengthAdjust="spacingAndGlyphs" stroke="#222" stroke-width="0.1" >0.4</text>
<text x="264.60" y="491.35" font-size="6.8" fill="#222" text-anchor="end" textLength="8.00" lengthAdjust="spacingAndGlyphs" stroke="#222" stroke-width="0.1" >0.5</text>
<text x="264.60" y="484.92" font-size="6.8" fill="#222" text-anchor="end" textLength="8.00" lengthAdjust="spacingAndGlyphs" stroke="#222" stroke-width="0.1" >0.6</text>
<text x="264.60" y="478.49" font-size="6.8" fill="#222" text-anchor="end" textLength="8.00" lengthAdjust="spacingAndGlyphs" stroke="#222" stroke-width="0.1" >0.7</text>
<text x="264.60" y="558.20" font-size="6.8" fill="#222" text-anchor="end" textLength="8.00" lengthAdjust="spacingAndGlyphs" stroke="#222" stroke-width="0.1" >2.5</text>
<text x="264.60" y="566.90" font-size="6.8" fill="#222" text-anchor="end" textLength="8.00" lengthAdjust="spacingAndGlyphs" stroke="#222" stroke-width="0.1" >0.0</text>
<text x="264.60" y="575.90" font-size="6.8" fill="#222" text-anchor="end" textLength="9.80" lengthAdjust="spacingAndGlyphs" stroke="#222" stroke-width="0.1" >-2.5</text>
<text x="341.70" y="481.20" font-size="6.9" font-weight="bold" fill="#000" textLength="52.10" lengthAdjust="spacingAndGlyphs">NOM <tspan font-style="italic">P</tspan>-value=0.0</text>
<text x="339.70" y="489.60" font-size="6.9" font-weight="bold" fill="#000" textLength="55.80" lengthAdjust="spacingAndGlyphs">FDR <tspan font-style="italic">Q</tspan>-value=0.01</text>
<text x="272.80" y="552.80" font-size="6.9" fill="#d33a40" font-weight="bold" textLength="91.00" lengthAdjust="spacingAndGlyphs" >‘S138F’ (positively correlated)</text>
<text x="308.00" y="564.80" font-size="6.9" fill="#000" font-weight="bold" textLength="57.50" lengthAdjust="spacingAndGlyphs" >Zero cross at 3430</text>
<text x="313.90" y="580.30" font-size="6.9" fill="#3b34a0" font-weight="bold" textLength="86.10" lengthAdjust="spacingAndGlyphs" >‘WT’ (negatively correlated)</text>
<text x="338.50" y="450.20" font-size="6.6" fill="#000" text-anchor="middle" textLength="82.40" lengthAdjust="spacingAndGlyphs">GFP-RPS15<tspan font-size="3.4" dy="-2.6">S138F</tspan><tspan dy="2.6"> vs GFP-RPS15</tspan><tspan font-size="3.4" dy="-2.6">WT</tspan><tspan dy="2.6"></tspan></text>
<text x="338.50" y="457.70" font-size="6.6" fill="#000" text-anchor="middle" textLength="45.00" lengthAdjust="spacingAndGlyphs">Enrichment plot:</text>
<text x="338.50" y="465.20" font-size="6.6" fill="#000" text-anchor="middle" textLength="119.40" lengthAdjust="spacingAndGlyphs">REACTOME Destabilization of mRNA by KSRP</text>
<text x="294.00" y="608.40" font-size="9.4" fill="#111" textLength="88.30" lengthAdjust="spacingAndGlyphs" stroke="#111" stroke-width="0.1" >Rank in ordered dataset</text>
<text transform="translate(243.4,535.80) rotate(-90)" font-size="7.4" fill="#111" stroke="#111" stroke-width="0.2" textLength="80.3" lengthAdjust="spacingAndGlyphs">Enrichment score (ES)</text>
<text transform="translate(236.9,599.50) rotate(-90)" font-size="7.4" fill="#111" stroke="#111" stroke-width="0.2" textLength="66.3" lengthAdjust="spacingAndGlyphs">Ranked list metric</text>
<text transform="translate(246.4,595.40) rotate(-90)" font-size="7.4" fill="#111" stroke="#111" stroke-width="0.2" textLength="58.8" lengthAdjust="spacingAndGlyphs">(signal to noise)</text>
<line x1="292.10" y1="621.40" x2="298.60" y2="621.40" stroke="#6aab3b" stroke-width="1.3" />
<text x="302.90" y="623.60" font-size="6.8" fill="#333" textLength="49.30" lengthAdjust="spacingAndGlyphs" stroke="#333" stroke-width="0.1" >Enrichment profile</text>
<line x1="362.90" y1="621.40" x2="369.40" y2="621.40" stroke="#000" stroke-width="1.3" />
<text x="372.90" y="623.60" font-size="6.8" fill="#333" textLength="10.80" lengthAdjust="spacingAndGlyphs" stroke="#333" stroke-width="0.1" >Hits</text>
<line x1="302.00" y1="630.10" x2="308.30" y2="630.10" stroke="#bbb" stroke-width="1.3" />
<text x="312.30" y="632.30" font-size="6.8" fill="#333" textLength="58.70" lengthAdjust="spacingAndGlyphs" stroke="#333" stroke-width="0.1" >Ranking metric scores</text>
<g shape-rendering="crispEdges">
<rect x="421.8" y="49" width="8.35" height="8.33" fill="#d9585c"/>
<rect x="430.15" y="49" width="8.35" height="8.33" fill="#cb2121"/>
<rect x="438.5" y="49" width="8.35" height="8.33" fill="#3a2a8c"/>
<rect x="446.85" y="49" width="8.35" height="8.33" fill="#4a2c93"/>
<rect x="421.8" y="57.33" width="8.35" height="8.33" fill="#d9585c"/>
<rect x="430.15" y="57.33" width="8.35" height="8.33" fill="#cb2121"/>
<rect x="438.5" y="57.33" width="8.35" height="8.33" fill="#6a5aae"/>
<rect x="446.85" y="57.33" width="8.35" height="8.33" fill="#4a2c93"/>
<rect x="421.8" y="65.66" width="8.35" height="8.33" fill="#de6f7c"/>
<rect x="430.15" y="65.66" width="8.35" height="8.33" fill="#cb2121"/>
<rect x="438.5" y="65.66" width="8.35" height="8.33" fill="#6a5aae"/>
<rect x="446.85" y="65.66" width="8.35" height="8.33" fill="#4a2c93"/>
<rect x="421.8" y="73.99" width="8.35" height="8.33" fill="#d9585c"/>
<rect x="430.15" y="73.99" width="8.35" height="8.33" fill="#cb2121"/>
<rect x="438.5" y="73.99" width="8.35" height="8.33" fill="#6a5aae"/>
<rect x="446.85" y="73.99" width="8.35" height="8.33" fill="#4a2c93"/>
<rect x="421.8" y="82.32" width="8.35" height="8.33" fill="#d9585c"/>
<rect x="430.15" y="82.32" width="8.35" height="8.33" fill="#cb2121"/>
<rect x="438.5" y="82.32" width="8.35" height="8.33" fill="#4a2c93"/>
<rect x="446.85" y="82.32" width="8.35" height="8.33" fill="#4a2c93"/>
<rect x="421.8" y="90.65" width="8.35" height="8.33" fill="#de6f7c"/>
<rect x="430.15" y="90.65" width="8.35" height="8.33" fill="#cb2121"/>
<rect x="438.5" y="90.65" width="8.35" height="8.33" fill="#3a2a8c"/>
<rect x="446.85" y="90.65" width="8.35" height="8.33" fill="#4a2c93"/>
<rect x="421.8" y="98.98" width="8.35" height="8.33" fill="#f1c8e2"/>
<rect x="430.15" y="98.98" width="8.35" height="8.33" fill="#cb2121"/>
<rect x="438.5" y="98.98" width="8.35" height="8.33" fill="#3a2a8c"/>
<rect x="446.85" y="98.98" width="8.35" height="8.33" fill="#4a2c93"/>
<rect x="421.8" y="107.31" width="8.35" height="8.33" fill="#de6f7c"/>
<rect x="430.15" y="107.31" width="8.35" height="8.33" fill="#cb2121"/>
<rect x="438.5" y="107.31" width="8.35" height="8.33" fill="#8580c4"/>
<rect x="446.85" y="107.31" width="8.35" height="8.33" fill="#4a2c93"/>
<rect x="421.8" y="115.64" width="8.35" height="8.33" fill="#e28a8e"/>
<rect x="430.15" y="115.64" width="8.35" height="8.33" fill="#cb2121"/>
<rect x="438.5" y="115.64" width="8.35" height="8.33" fill="#4a2c93"/>
<rect x="446.85" y="115.64" width="8.35" height="8.33" fill="#4a2c93"/>
<rect x="421.8" y="123.97" width="8.35" height="8.33" fill="#f1c8e2"/>
<rect x="430.15" y="123.97" width="8.35" height="8.33" fill="#cb2121"/>
<rect x="438.5" y="123.97" width="8.35" height="8.33" fill="#8580c4"/>
<rect x="446.85" y="123.97" width="8.35" height="8.33" fill="#4a2c93"/>
<rect x="421.8" y="132.3" width="8.35" height="8.33" fill="#cb2121"/>
<rect x="430.15" y="132.3" width="8.35" height="8.33" fill="#d5d3f0"/>
<rect x="438.5" y="132.3" width="8.35" height="8.33" fill="#d5d3f0"/>
<rect x="446.85" y="132.3" width="8.35" height="8.33" fill="#4a2c93"/>
<rect x="421.8" y="140.63" width="8.35" height="8.33" fill="#de6f7c"/>
<rect x="430.15" y="140.63" width="8.35" height="8.33" fill="#cb2121"/>
<rect x="438.5" y="140.63" width="8.35" height="8.33" fill="#4a2c93"/>
<rect x="446.85" y="140.63" width="8.35" height="8.33" fill="#d5d3f0"/>
<rect x="421.8" y="148.96" width="8.35" height="8.33" fill="#e28a8e"/>
<rect x="430.15" y="148.96" width="8.35" height="8.33" fill="#cb2121"/>
<rect x="438.5" y="148.96" width="8.35" height="8.33" fill="#4a2c93"/>
<rect x="446.85" y="148.96" width="8.35" height="8.33" fill="#d5d3f0"/>
<rect x="421.8" y="157.29" width="8.35" height="8.33" fill="#8580c4"/>
<rect x="430.15" y="157.29" width="8.35" height="8.33" fill="#cb2121"/>
<rect x="438.5" y="157.29" width="8.35" height="8.33" fill="#d5d3f0"/>
<rect x="446.85" y="157.29" width="8.35" height="8.33" fill="#4a2c93"/>
<rect x="421.8" y="165.62" width="8.35" height="8.33" fill="#cb2121"/>
<rect x="430.15" y="165.62" width="8.35" height="8.33" fill="#de6f7c"/>
<rect x="438.5" y="165.62" width="8.35" height="8.33" fill="#6a5aae"/>
<rect x="446.85" y="165.62" width="8.35" height="8.33" fill="#4a2c93"/>
<rect x="421.8" y="173.95" width="8.35" height="8.33" fill="#de6f7c"/>
<rect x="430.15" y="173.95" width="8.35" height="8.33" fill="#cb2121"/>
<rect x="438.5" y="173.95" width="8.35" height="8.33" fill="#4a2c93"/>
<rect x="446.85" y="173.95" width="8.35" height="8.33" fill="#d5d3f0"/>
<rect x="421.8" y="182.28" width="8.35" height="8.33" fill="#cb2121"/>
<rect x="430.15" y="182.28" width="8.35" height="8.33" fill="#f1c8e2"/>
<rect x="438.5" y="182.28" width="8.35" height="8.33" fill="#4a2c93"/>
<rect x="446.85" y="182.28" width="8.35" height="8.33" fill="#e28a8e"/>
<rect x="421.8" y="190.61" width="8.35" height="8.33" fill="#cb2121"/>
<rect x="430.15" y="190.61" width="8.35" height="8.33" fill="#d9585c"/>
<rect x="438.5" y="190.61" width="8.35" height="8.33" fill="#4a2c93"/>
<rect x="446.85" y="190.61" width="8.35" height="8.33" fill="#d5d3f0"/>
</g>
<line x1="421.80" y1="49.00" x2="455.20" y2="49.00" stroke="#000" stroke-width="0.9" />
<line x1="421.80" y1="57.33" x2="455.20" y2="57.33" stroke="#000" stroke-width="0.9" />
<line x1="421.80" y1="65.66" x2="455.20" y2="65.66" stroke="#000" stroke-width="0.9" />
<line x1="421.80" y1="73.99" x2="455.20" y2="73.99" stroke="#000" stroke-width="0.9" />
<line x1="421.80" y1="82.32" x2="455.20" y2="82.32" stroke="#000" stroke-width="0.9" />
<line x1="421.80" y1="90.65" x2="455.20" y2="90.65" stroke="#000" stroke-width="0.9" />
<line x1="421.80" y1="98.98" x2="455.20" y2="98.98" stroke="#000" stroke-width="0.9" />
<line x1="421.80" y1="107.31" x2="455.20" y2="107.31" stroke="#000" stroke-width="0.9" />
<line x1="421.80" y1="115.64" x2="455.20" y2="115.64" stroke="#000" stroke-width="0.9" />
<line x1="421.80" y1="123.97" x2="455.20" y2="123.97" stroke="#000" stroke-width="0.9" />
<line x1="421.80" y1="132.30" x2="455.20" y2="132.30" stroke="#000" stroke-width="0.9" />
<line x1="421.80" y1="140.63" x2="455.20" y2="140.63" stroke="#000" stroke-width="0.9" />
<line x1="421.80" y1="148.96" x2="455.20" y2="148.96" stroke="#000" stroke-width="0.9" />
<line x1="421.80" y1="157.29" x2="455.20" y2="157.29" stroke="#000" stroke-width="0.9" />
<line x1="421.80" y1="165.62" x2="455.20" y2="165.62" stroke="#000" stroke-width="0.9" />
<line x1="421.80" y1="173.95" x2="455.20" y2="173.95" stroke="#000" stroke-width="0.9" />
<line x1="421.80" y1="182.28" x2="455.20" y2="182.28" stroke="#000" stroke-width="0.9" />
<line x1="421.80" y1="190.61" x2="455.20" y2="190.61" stroke="#000" stroke-width="0.9" />
<line x1="421.80" y1="198.94" x2="455.20" y2="198.94" stroke="#000" stroke-width="0.9" />
<line x1="421.80" y1="49.00" x2="421.80" y2="198.94" stroke="#000" stroke-width="0.9" />
<line x1="430.15" y1="49.00" x2="430.15" y2="198.94" stroke="#000" stroke-width="0.9" />
<line x1="438.50" y1="49.00" x2="438.50" y2="198.94" stroke="#000" stroke-width="0.9" />
<line x1="446.85" y1="49.00" x2="446.85" y2="198.94" stroke="#000" stroke-width="0.9" />
<line x1="455.20" y1="49.00" x2="455.20" y2="198.94" stroke="#000" stroke-width="0.9" />
<g transform="translate(459.60,0) scale(0.8,1)">
<text x="0.00" y="56.16" font-size="9.0" fill="#111" stroke="#111" stroke-width="0.1" >RPA3</text>
<text x="0.00" y="64.50" font-size="9.0" fill="#111" stroke="#111" stroke-width="0.1" >RPA2</text>
<text x="0.00" y="72.83" font-size="9.0" fill="#111" stroke="#111" stroke-width="0.1" >MCM7</text>
<text x="0.00" y="81.16" font-size="9.0" fill="#111" stroke="#111" stroke-width="0.1" >MCM2</text>
<text x="0.00" y="89.48" font-size="9.0" fill="#111" stroke="#111" stroke-width="0.1" >MCM6</text>
<text x="0.00" y="97.82" font-size="9.0" fill="#111" stroke="#111" stroke-width="0.1" >MCM3</text>
<text x="0.00" y="106.15" font-size="9.0" fill="#111" stroke="#111" stroke-width="0.1" >MCM5</text>
<text x="0.00" y="114.48" font-size="9.0" fill="#111" stroke="#111" stroke-width="0.1" >MCM4</text>
<text x="0.00" y="122.81" font-size="9.0" fill="#111" stroke="#111" stroke-width="0.1" >RPA1</text>
<text x="0.00" y="131.13" font-size="9.0" fill="#111" stroke="#111" stroke-width="0.1" >PCNA</text>
<text x="0.00" y="139.47" font-size="9.0" fill="#111" stroke="#111" stroke-width="0.1" >GINS1</text>
<text x="0.00" y="147.79" font-size="9.0" fill="#111" stroke="#111" stroke-width="0.1" >FEN1</text>
<text x="0.00" y="156.12" font-size="9.0" fill="#111" stroke="#111" stroke-width="0.1" >CDC45</text>
<text x="0.00" y="164.46" font-size="9.0" fill="#111" stroke="#111" stroke-width="0.1" >MCM8</text>
<text x="0.00" y="172.78" font-size="9.0" fill="#111" stroke="#111" stroke-width="0.1" >RFC5</text>
<text x="0.00" y="181.11" font-size="9.0" fill="#111" stroke="#111" stroke-width="0.1" >RFC4</text>
<text x="0.00" y="189.44" font-size="9.0" fill="#111" stroke="#111" stroke-width="0.1" >POLD1</text>
<text x="0.00" y="197.78" font-size="9.0" fill="#111" stroke="#111" stroke-width="0.1" >POLD3</text>
</g>
<path d="M421.80,47.60 L421.80,44.20 L438.30,44.20 L438.30,47.60 M430.40,44.20 L430.40,40.50" fill="none" stroke="#000" stroke-width="0.9"/>
<path d="M438.90,47.60 L438.90,44.20 L455.60,44.20 L455.60,47.60 M447.00,44.20 L447.00,40.50" fill="none" stroke="#000" stroke-width="0.9"/>
<text transform="translate(426.0,37.6) rotate(-45)" font-size="8.6" fill="#111" stroke="#111" stroke-width="0.1" textLength="24.5" lengthAdjust="spacingAndGlyphs">P131S</text>
<text transform="translate(443.4,37.6) rotate(-45)" font-size="8.6" fill="#111" stroke="#111" stroke-width="0.1" textLength="12" lengthAdjust="spacingAndGlyphs">WT</text>
<g shape-rendering="crispEdges">
<rect x="421.6" y="253.1" width="8.35" height="8.32" fill="#d5d3f0"/>
<rect x="429.95" y="253.1" width="8.35" height="8.32" fill="#4a2c93"/>
<rect x="438.3" y="253.1" width="8.35" height="8.32" fill="#cb2121"/>
<rect x="446.65" y="253.1" width="8.35" height="8.32" fill="#e28a8e"/>
<rect x="421.6" y="261.42" width="8.35" height="8.32" fill="#d5d3f0"/>
<rect x="429.95" y="261.42" width="8.35" height="8.32" fill="#4a2c93"/>
<rect x="438.3" y="261.42" width="8.35" height="8.32" fill="#e28a8e"/>
<rect x="446.65" y="261.42" width="8.35" height="8.32" fill="#cb2121"/>
<rect x="421.6" y="269.74" width="8.35" height="8.32" fill="#4a2c93"/>
<rect x="429.95" y="269.74" width="8.35" height="8.32" fill="#4a2c93"/>
<rect x="438.3" y="269.74" width="8.35" height="8.32" fill="#d9585c"/>
<rect x="446.65" y="269.74" width="8.35" height="8.32" fill="#cb2121"/>
<rect x="421.6" y="278.06" width="8.35" height="8.32" fill="#8580c4"/>
<rect x="429.95" y="278.06" width="8.35" height="8.32" fill="#4a2c93"/>
<rect x="438.3" y="278.06" width="8.35" height="8.32" fill="#cb2121"/>
<rect x="446.65" y="278.06" width="8.35" height="8.32" fill="#de6f7c"/>
<rect x="421.6" y="286.38" width="8.35" height="8.32" fill="#4a2c93"/>
<rect x="429.95" y="286.38" width="8.35" height="8.32" fill="#4a2c93"/>
<rect x="438.3" y="286.38" width="8.35" height="8.32" fill="#cb2121"/>
<rect x="446.65" y="286.38" width="8.35" height="8.32" fill="#d9585c"/>
<rect x="421.6" y="294.7" width="8.35" height="8.32" fill="#8580c4"/>
<rect x="429.95" y="294.7" width="8.35" height="8.32" fill="#4a2c93"/>
<rect x="438.3" y="294.7" width="8.35" height="8.32" fill="#cb2121"/>
<rect x="446.65" y="294.7" width="8.35" height="8.32" fill="#cb2121"/>
<rect x="421.6" y="303.02" width="8.35" height="8.32" fill="#8580c4"/>
<rect x="429.95" y="303.02" width="8.35" height="8.32" fill="#4a2c93"/>
<rect x="438.3" y="303.02" width="8.35" height="8.32" fill="#d9585c"/>
<rect x="446.65" y="303.02" width="8.35" height="8.32" fill="#cb2121"/>
<rect x="421.6" y="311.34" width="8.35" height="8.32" fill="#d5d3f0"/>
<rect x="429.95" y="311.34" width="8.35" height="8.32" fill="#4a2c93"/>
<rect x="438.3" y="311.34" width="8.35" height="8.32" fill="#cb2121"/>
<rect x="446.65" y="311.34" width="8.35" height="8.32" fill="#d9585c"/>
<rect x="421.6" y="319.66" width="8.35" height="8.32" fill="#f1c8e2"/>
<rect x="429.95" y="319.66" width="8.35" height="8.32" fill="#4a2c93"/>
<rect x="438.3" y="319.66" width="8.35" height="8.32" fill="#cb2121"/>
<rect x="446.65" y="319.66" width="8.35" height="8.32" fill="#e28a8e"/>
<rect x="421.6" y="327.98" width="8.35" height="8.32" fill="#d5d3f0"/>
<rect x="429.95" y="327.98" width="8.35" height="8.32" fill="#4a2c93"/>
<rect x="438.3" y="327.98" width="8.35" height="8.32" fill="#cb2121"/>
<rect x="446.65" y="327.98" width="8.35" height="8.32" fill="#d9585c"/>
<rect x="421.6" y="336.3" width="8.35" height="8.32" fill="#d5d3f0"/>
<rect x="429.95" y="336.3" width="8.35" height="8.32" fill="#4a2c93"/>
<rect x="438.3" y="336.3" width="8.35" height="8.32" fill="#cb2121"/>
<rect x="446.65" y="336.3" width="8.35" height="8.32" fill="#d9585c"/>
<rect x="421.6" y="344.62" width="8.35" height="8.32" fill="#8580c4"/>
<rect x="429.95" y="344.62" width="8.35" height="8.32" fill="#4a2c93"/>
<rect x="438.3" y="344.62" width="8.35" height="8.32" fill="#d9585c"/>
<rect x="446.65" y="344.62" width="8.35" height="8.32" fill="#cb2121"/>
<rect x="421.6" y="352.94" width="8.35" height="8.32" fill="#d5d3f0"/>
<rect x="429.95" y="352.94" width="8.35" height="8.32" fill="#4a2c93"/>
<rect x="438.3" y="352.94" width="8.35" height="8.32" fill="#d9585c"/>
<rect x="446.65" y="352.94" width="8.35" height="8.32" fill="#cb2121"/>
<rect x="421.6" y="361.26" width="8.35" height="8.32" fill="#d5d3f0"/>
<rect x="429.95" y="361.26" width="8.35" height="8.32" fill="#4a2c93"/>
<rect x="438.3" y="361.26" width="8.35" height="8.32" fill="#cb2121"/>
<rect x="446.65" y="361.26" width="8.35" height="8.32" fill="#de6f7c"/>
<rect x="421.6" y="369.58" width="8.35" height="8.32" fill="#d5d3f0"/>
<rect x="429.95" y="369.58" width="8.35" height="8.32" fill="#4a2c93"/>
<rect x="438.3" y="369.58" width="8.35" height="8.32" fill="#e28a8e"/>
<rect x="446.65" y="369.58" width="8.35" height="8.32" fill="#cb2121"/>
<rect x="421.6" y="377.9" width="8.35" height="8.32" fill="#8580c4"/>
<rect x="429.95" y="377.9" width="8.35" height="8.32" fill="#4a2c93"/>
<rect x="438.3" y="377.9" width="8.35" height="8.32" fill="#cb2121"/>
<rect x="446.65" y="377.9" width="8.35" height="8.32" fill="#de6f7c"/>
<rect x="421.6" y="386.22" width="8.35" height="8.32" fill="#4a2c93"/>
<rect x="429.95" y="386.22" width="8.35" height="8.32" fill="#d5d3f0"/>
<rect x="438.3" y="386.22" width="8.35" height="8.32" fill="#cb2121"/>
<rect x="446.65" y="386.22" width="8.35" height="8.32" fill="#f1c8e2"/>
<rect x="421.6" y="394.54" width="8.35" height="8.32" fill="#d5d3f0"/>
<rect x="429.95" y="394.54" width="8.35" height="8.32" fill="#4a2c93"/>
<rect x="438.3" y="394.54" width="8.35" height="8.32" fill="#d9585c"/>
<rect x="446.65" y="394.54" width="8.35" height="8.32" fill="#cb2121"/>
<rect x="421.6" y="402.86" width="8.35" height="8.32" fill="#8580c4"/>
<rect x="429.95" y="402.86" width="8.35" height="8.32" fill="#4a2c93"/>
<rect x="438.3" y="402.86" width="8.35" height="8.32" fill="#cb2121"/>
<rect x="446.65" y="402.86" width="8.35" height="8.32" fill="#d9585c"/>
</g>
<line x1="421.60" y1="253.10" x2="455.00" y2="253.10" stroke="#000" stroke-width="0.9" />
<line x1="421.60" y1="261.42" x2="455.00" y2="261.42" stroke="#000" stroke-width="0.9" />
<line x1="421.60" y1="269.74" x2="455.00" y2="269.74" stroke="#000" stroke-width="0.9" />
<line x1="421.60" y1="278.06" x2="455.00" y2="278.06" stroke="#000" stroke-width="0.9" />
<line x1="421.60" y1="286.38" x2="455.00" y2="286.38" stroke="#000" stroke-width="0.9" />
<line x1="421.60" y1="294.70" x2="455.00" y2="294.70" stroke="#000" stroke-width="0.9" />
<line x1="421.60" y1="303.02" x2="455.00" y2="303.02" stroke="#000" stroke-width="0.9" />
<line x1="421.60" y1="311.34" x2="455.00" y2="311.34" stroke="#000" stroke-width="0.9" />
<line x1="421.60" y1="319.66" x2="455.00" y2="319.66" stroke="#000" stroke-width="0.9" />
<line x1="421.60" y1="327.98" x2="455.00" y2="327.98" stroke="#000" stroke-width="0.9" />
<line x1="421.60" y1="336.30" x2="455.00" y2="336.30" stroke="#000" stroke-width="0.9" />
<line x1="421.60" y1="344.62" x2="455.00" y2="344.62" stroke="#000" stroke-width="0.9" />
<line x1="421.60" y1="352.94" x2="455.00" y2="352.94" stroke="#000" stroke-width="0.9" />
<line x1="421.60" y1="361.26" x2="455.00" y2="361.26" stroke="#000" stroke-width="0.9" />
<line x1="421.60" y1="369.58" x2="455.00" y2="369.58" stroke="#000" stroke-width="0.9" />
<line x1="421.60" y1="377.90" x2="455.00" y2="377.90" stroke="#000" stroke-width="0.9" />
<line x1="421.60" y1="386.22" x2="455.00" y2="386.22" stroke="#000" stroke-width="0.9" />
<line x1="421.60" y1="394.54" x2="455.00" y2="394.54" stroke="#000" stroke-width="0.9" />
<line x1="421.60" y1="402.86" x2="455.00" y2="402.86" stroke="#000" stroke-width="0.9" />
<line x1="421.60" y1="411.18" x2="455.00" y2="411.18" stroke="#000" stroke-width="0.9" />
<line x1="421.60" y1="253.10" x2="421.60" y2="411.18" stroke="#000" stroke-width="0.9" />
<line x1="429.95" y1="253.10" x2="429.95" y2="411.18" stroke="#000" stroke-width="0.9" />
<line x1="438.30" y1="253.10" x2="438.30" y2="411.18" stroke="#000" stroke-width="0.9" />
<line x1="446.65" y1="253.10" x2="446.65" y2="411.18" stroke="#000" stroke-width="0.9" />
<line x1="455.00" y1="253.10" x2="455.00" y2="411.18" stroke="#000" stroke-width="0.9" />
<g transform="translate(459.60,0) scale(0.8,1)">
<text x="0.00" y="260.26" font-size="9.0" fill="#111" stroke="#111" stroke-width="0.1" >EIF3G</text>
<text x="0.00" y="268.58" font-size="9.0" fill="#111" stroke="#111" stroke-width="0.1" >RPS25</text>
<text x="0.00" y="276.90" font-size="9.0" fill="#111" stroke="#111" stroke-width="0.1" >RPS29</text>
<text x="0.00" y="285.22" font-size="9.0" fill="#111" stroke="#111" stroke-width="0.1" >EIF3I</text>
<text x="0.00" y="293.54" font-size="9.0" fill="#111" stroke="#111" stroke-width="0.1" >EIF2S1</text>
<text x="0.00" y="301.86" font-size="9.0" fill="#111" stroke="#111" stroke-width="0.1" >EIF2S3</text>
<text x="0.00" y="310.18" font-size="9.0" fill="#111" stroke="#111" stroke-width="0.1" >RPS6</text>
<text x="0.00" y="318.50" font-size="9.0" fill="#111" stroke="#111" stroke-width="0.1" >RPS24</text>
<text x="0.00" y="326.82" font-size="9.0" fill="#111" stroke="#111" stroke-width="0.1" >RPS13</text>
<text x="0.00" y="335.14" font-size="9.0" fill="#111" stroke="#111" stroke-width="0.1" >RPS4X</text>
<text x="0.00" y="343.46" font-size="9.0" fill="#111" stroke="#111" stroke-width="0.1" >RPS3A</text>
<text x="0.00" y="351.78" font-size="9.0" fill="#111" stroke="#111" stroke-width="0.1" >RPS5</text>
<text x="0.00" y="360.10" font-size="9.0" fill="#111" stroke="#111" stroke-width="0.1" >RPS11</text>
<text x="0.00" y="368.42" font-size="9.0" fill="#111" stroke="#111" stroke-width="0.1" >RPS9</text>
<text x="0.00" y="376.74" font-size="9.0" fill="#111" stroke="#111" stroke-width="0.1" >RPS23</text>
<text x="0.00" y="385.06" font-size="9.0" fill="#111" stroke="#111" stroke-width="0.1" >EIF2S2</text>
<text x="0.00" y="393.38" font-size="9.0" fill="#111" stroke="#111" stroke-width="0.1" >RPS19</text>
<text x="0.00" y="401.70" font-size="9.0" fill="#111" stroke="#111" stroke-width="0.1" >RPS16</text>
<text x="0.00" y="410.02" font-size="9.0" fill="#111" stroke="#111" stroke-width="0.1" >RPS15</text>
</g>
<path d="M421.60,251.90 L421.60,248.50 L438.10,248.50 L438.10,251.90 M430.20,248.50 L430.20,244.80" fill="none" stroke="#000" stroke-width="0.9"/>
<path d="M438.70,251.90 L438.70,248.50 L455.30,248.50 L455.30,251.90 M446.80,248.50 L446.80,244.80" fill="none" stroke="#000" stroke-width="0.9"/>
<text transform="translate(425.8,241.9) rotate(-45)" font-size="8.6" fill="#111" stroke="#111" stroke-width="0.1" textLength="24.5" lengthAdjust="spacingAndGlyphs">P131S</text>
<text transform="translate(443.2,241.9) rotate(-45)" font-size="8.6" fill="#111" stroke="#111" stroke-width="0.1" textLength="12" lengthAdjust="spacingAndGlyphs">WT</text>
<g shape-rendering="crispEdges">
<rect x="421.8" y="475.8" width="8.38" height="8.31" fill="#cb2121"/>
<rect x="430.18" y="475.8" width="8.38" height="8.31" fill="#d9585c"/>
<rect x="438.56" y="475.8" width="8.38" height="8.31" fill="#cb2121"/>
<rect x="446.94" y="475.8" width="8.38" height="8.31" fill="#d9585c"/>
<rect x="455.32" y="475.8" width="8.38" height="8.31" fill="#4a2c93"/>
<rect x="463.7" y="475.8" width="8.38" height="8.31" fill="#4a2c93"/>
<rect x="421.8" y="484.11" width="8.38" height="8.31" fill="#cb2121"/>
<rect x="430.18" y="484.11" width="8.38" height="8.31" fill="#de6f7c"/>
<rect x="438.56" y="484.11" width="8.38" height="8.31" fill="#cb2121"/>
<rect x="446.94" y="484.11" width="8.38" height="8.31" fill="#e28a8e"/>
<rect x="455.32" y="484.11" width="8.38" height="8.31" fill="#6a5aae"/>
<rect x="463.7" y="484.11" width="8.38" height="8.31" fill="#4a2c93"/>
<rect x="421.8" y="492.42" width="8.38" height="8.31" fill="#f1c8e2"/>
<rect x="430.18" y="492.42" width="8.38" height="8.31" fill="#de6f7c"/>
<rect x="438.56" y="492.42" width="8.38" height="8.31" fill="#de6f7c"/>
<rect x="446.94" y="492.42" width="8.38" height="8.31" fill="#cb2121"/>
<rect x="455.32" y="492.42" width="8.38" height="8.31" fill="#4a2c93"/>
<rect x="463.7" y="492.42" width="8.38" height="8.31" fill="#3a2a8c"/>
<rect x="421.8" y="500.73" width="8.38" height="8.31" fill="#e28a8e"/>
<rect x="430.18" y="500.73" width="8.38" height="8.31" fill="#d9585c"/>
<rect x="438.56" y="500.73" width="8.38" height="8.31" fill="#cb2121"/>
<rect x="446.94" y="500.73" width="8.38" height="8.31" fill="#e28a8e"/>
<rect x="455.32" y="500.73" width="8.38" height="8.31" fill="#3a2a8c"/>
<rect x="463.7" y="500.73" width="8.38" height="8.31" fill="#6a5aae"/>
<rect x="421.8" y="509.04" width="8.38" height="8.31" fill="#cb2121"/>
<rect x="430.18" y="509.04" width="8.38" height="8.31" fill="#d9585c"/>
<rect x="438.56" y="509.04" width="8.38" height="8.31" fill="#d9585c"/>
<rect x="446.94" y="509.04" width="8.38" height="8.31" fill="#de6f7c"/>
<rect x="455.32" y="509.04" width="8.38" height="8.31" fill="#3a2a8c"/>
<rect x="463.7" y="509.04" width="8.38" height="8.31" fill="#4a2c93"/>
<rect x="421.8" y="517.35" width="8.38" height="8.31" fill="#cb2121"/>
<rect x="430.18" y="517.35" width="8.38" height="8.31" fill="#de6f7c"/>
<rect x="438.56" y="517.35" width="8.38" height="8.31" fill="#cb2121"/>
<rect x="446.94" y="517.35" width="8.38" height="8.31" fill="#f1c8e2"/>
<rect x="455.32" y="517.35" width="8.38" height="8.31" fill="#6a5aae"/>
<rect x="463.7" y="517.35" width="8.38" height="8.31" fill="#4a2c93"/>
<rect x="421.8" y="525.66" width="8.38" height="8.31" fill="#cb2121"/>
<rect x="430.18" y="525.66" width="8.38" height="8.31" fill="#cb2121"/>
<rect x="438.56" y="525.66" width="8.38" height="8.31" fill="#8580c4"/>
<rect x="446.94" y="525.66" width="8.38" height="8.31" fill="#d9585c"/>
<rect x="455.32" y="525.66" width="8.38" height="8.31" fill="#4a2c93"/>
<rect x="463.7" y="525.66" width="8.38" height="8.31" fill="#6a5aae"/>
<rect x="421.8" y="533.97" width="8.38" height="8.31" fill="#cb2121"/>
<rect x="430.18" y="533.97" width="8.38" height="8.31" fill="#cb2121"/>
<rect x="438.56" y="533.97" width="8.38" height="8.31" fill="#f1c8e2"/>
<rect x="446.94" y="533.97" width="8.38" height="8.31" fill="#de6f7c"/>
<rect x="455.32" y="533.97" width="8.38" height="8.31" fill="#8580c4"/>
<rect x="463.7" y="533.97" width="8.38" height="8.31" fill="#4a2c93"/>
<rect x="421.8" y="542.28" width="8.38" height="8.31" fill="#d9585c"/>
<rect x="430.18" y="542.28" width="8.38" height="8.31" fill="#d9585c"/>
<rect x="438.56" y="542.28" width="8.38" height="8.31" fill="#cb2121"/>
<rect x="446.94" y="542.28" width="8.38" height="8.31" fill="#d5d3f0"/>
<rect x="455.32" y="542.28" width="8.38" height="8.31" fill="#4a2c93"/>
<rect x="463.7" y="542.28" width="8.38" height="8.31" fill="#4a2c93"/>
<rect x="421.8" y="550.59" width="8.38" height="8.31" fill="#d9585c"/>
<rect x="430.18" y="550.59" width="8.38" height="8.31" fill="#cb2121"/>
<rect x="438.56" y="550.59" width="8.38" height="8.31" fill="#cb2121"/>
<rect x="446.94" y="550.59" width="8.38" height="8.31" fill="#d9585c"/>
<rect x="455.32" y="550.59" width="8.38" height="8.31" fill="#4a2c93"/>
<rect x="463.7" y="550.59" width="8.38" height="8.31" fill="#d5d3f0"/>
<rect x="421.8" y="558.9" width="8.38" height="8.31" fill="#cb2121"/>
<rect x="430.18" y="558.9" width="8.38" height="8.31" fill="#f1c8e2"/>
<rect x="438.56" y="558.9" width="8.38" height="8.31" fill="#d9585c"/>
<rect x="446.94" y="558.9" width="8.38" height="8.31" fill="#f1c8e2"/>
<rect x="455.32" y="558.9" width="8.38" height="8.31" fill="#4a2c93"/>
<rect x="463.7" y="558.9" width="8.38" height="8.31" fill="#4a2c93"/>
<rect x="421.8" y="567.21" width="8.38" height="8.31" fill="#cb2121"/>
<rect x="430.18" y="567.21" width="8.38" height="8.31" fill="#4a2c93"/>
<rect x="438.56" y="567.21" width="8.38" height="8.31" fill="#cb2121"/>
<rect x="446.94" y="567.21" width="8.38" height="8.31" fill="#e28a8e"/>
<rect x="455.32" y="567.21" width="8.38" height="8.31" fill="#3a2a8c"/>
<rect x="463.7" y="567.21" width="8.38" height="8.31" fill="#d5d3f0"/>
<rect x="421.8" y="575.52" width="8.38" height="8.31" fill="#d5d3f0"/>
<rect x="430.18" y="575.52" width="8.38" height="8.31" fill="#8580c4"/>
<rect x="438.56" y="575.52" width="8.38" height="8.31" fill="#cb2121"/>
<rect x="446.94" y="575.52" width="8.38" height="8.31" fill="#4a2c93"/>
<rect x="455.32" y="575.52" width="8.38" height="8.31" fill="#d5d3f0"/>
<rect x="463.7" y="575.52" width="8.38" height="8.31" fill="#d9585c"/>
<rect x="421.8" y="583.83" width="8.38" height="8.31" fill="#cb2121"/>
<rect x="430.18" y="583.83" width="8.38" height="8.31" fill="#4a2c93"/>
<rect x="438.56" y="583.83" width="8.38" height="8.31" fill="#de6f7c"/>
<rect x="446.94" y="583.83" width="8.38" height="8.31" fill="#4a2c93"/>
<rect x="455.32" y="583.83" width="8.38" height="8.31" fill="#e28a8e"/>
<rect x="463.7" y="583.83" width="8.38" height="8.31" fill="#f1c8e2"/>
<rect x="421.8" y="592.14" width="8.38" height="8.31" fill="#4a2c93"/>
<rect x="430.18" y="592.14" width="8.38" height="8.31" fill="#f1c8e2"/>
<rect x="438.56" y="592.14" width="8.38" height="8.31" fill="#d5d3f0"/>
<rect x="446.94" y="592.14" width="8.38" height="8.31" fill="#cb2121"/>
<rect x="455.32" y="592.14" width="8.38" height="8.31" fill="#8580c4"/>
<rect x="463.7" y="592.14" width="8.38" height="8.31" fill="#cb2121"/>
<rect x="421.8" y="600.45" width="8.38" height="8.31" fill="#e28a8e"/>
<rect x="430.18" y="600.45" width="8.38" height="8.31" fill="#4a2c93"/>
<rect x="438.56" y="600.45" width="8.38" height="8.31" fill="#d5d3f0"/>
<rect x="446.94" y="600.45" width="8.38" height="8.31" fill="#4a2c93"/>
<rect x="455.32" y="600.45" width="8.38" height="8.31" fill="#d9585c"/>
<rect x="463.7" y="600.45" width="8.38" height="8.31" fill="#cb2121"/>
</g>
<line x1="421.80" y1="475.80" x2="472.08" y2="475.80" stroke="#000" stroke-width="0.9" />
<line x1="421.80" y1="484.11" x2="472.08" y2="484.11" stroke="#000" stroke-width="0.9" />
<line x1="421.80" y1="492.42" x2="472.08" y2="492.42" stroke="#000" stroke-width="0.9" />
<line x1="421.80" y1="500.73" x2="472.08" y2="500.73" stroke="#000" stroke-width="0.9" />
<line x1="421.80" y1="509.04" x2="472.08" y2="509.04" stroke="#000" stroke-width="0.9" />
<line x1="421.80" y1="517.35" x2="472.08" y2="517.35" stroke="#000" stroke-width="0.9" />
<line x1="421.80" y1="525.66" x2="472.08" y2="525.66" stroke="#000" stroke-width="0.9" />
<line x1="421.80" y1="533.97" x2="472.08" y2="533.97" stroke="#000" stroke-width="0.9" />
<line x1="421.80" y1="542.28" x2="472.08" y2="542.28" stroke="#000" stroke-width="0.9" />
<line x1="421.80" y1="550.59" x2="472.08" y2="550.59" stroke="#000" stroke-width="0.9" />
<line x1="421.80" y1="558.90" x2="472.08" y2="558.90" stroke="#000" stroke-width="0.9" />
<line x1="421.80" y1="567.21" x2="472.08" y2="567.21" stroke="#000" stroke-width="0.9" />
<line x1="421.80" y1="575.52" x2="472.08" y2="575.52" stroke="#000" stroke-width="0.9" />
<line x1="421.80" y1="583.83" x2="472.08" y2="583.83" stroke="#000" stroke-width="0.9" />
<line x1="421.80" y1="592.14" x2="472.08" y2="592.14" stroke="#000" stroke-width="0.9" />
<line x1="421.80" y1="600.45" x2="472.08" y2="600.45" stroke="#000" stroke-width="0.9" />
<line x1="421.80" y1="608.76" x2="472.08" y2="608.76" stroke="#000" stroke-width="0.9" />
<line x1="421.80" y1="475.80" x2="421.80" y2="608.76" stroke="#000" stroke-width="0.9" />
<line x1="430.18" y1="475.80" x2="430.18" y2="608.76" stroke="#000" stroke-width="0.9" />
<line x1="438.56" y1="475.80" x2="438.56" y2="608.76" stroke="#000" stroke-width="0.9" />
<line x1="446.94" y1="475.80" x2="446.94" y2="608.76" stroke="#000" stroke-width="0.9" />
<line x1="455.32" y1="475.80" x2="455.32" y2="608.76" stroke="#000" stroke-width="0.9" />
<line x1="463.70" y1="475.80" x2="463.70" y2="608.76" stroke="#000" stroke-width="0.9" />
<line x1="472.08" y1="475.80" x2="472.08" y2="608.76" stroke="#000" stroke-width="0.9" />
<g transform="translate(476.50,0) scale(0.8,1)">
<text x="0.00" y="482.95" font-size="9.0" fill="#111" stroke="#111" stroke-width="0.1" >EXOSC4</text>
<text x="0.00" y="491.26" font-size="9.0" fill="#111" stroke="#111" stroke-width="0.1" >EXOSC7</text>
<text x="0.00" y="499.57" font-size="9.0" fill="#111" stroke="#111" stroke-width="0.1" >EXOSC8</text>
<text x="0.00" y="507.88" font-size="9.0" fill="#111" stroke="#111" stroke-width="0.1" >EXOSC2</text>
<text x="0.00" y="516.20" font-size="9.0" fill="#111" stroke="#111" stroke-width="0.1" >EXOSC5</text>
<text x="0.00" y="524.50" font-size="9.0" fill="#111" stroke="#111" stroke-width="0.1" >EXOSC3</text>
<text x="0.00" y="532.81" font-size="9.0" fill="#111" stroke="#111" stroke-width="0.1" >MAPK14</text>
<text x="0.00" y="541.12" font-size="9.0" fill="#111" stroke="#111" stroke-width="0.1" >EXOSC9</text>
<text x="0.00" y="549.43" font-size="9.0" fill="#111" stroke="#111" stroke-width="0.1" >EXOSC6</text>
<text x="0.00" y="557.75" font-size="9.0" fill="#111" stroke="#111" stroke-width="0.1" >YWHAZ</text>
<text x="0.00" y="566.05" font-size="9.0" fill="#111" stroke="#111" stroke-width="0.1" >EXOSC1</text>
<text x="0.00" y="574.37" font-size="9.0" fill="#111" stroke="#111" stroke-width="0.1" >PARN</text>
<text x="0.00" y="582.67" font-size="9.0" fill="#111" stroke="#111" stroke-width="0.1" >KHSRP</text>
<text x="0.00" y="590.99" font-size="9.0" fill="#111" stroke="#111" stroke-width="0.1" >DCP2</text>
<text x="0.00" y="599.29" font-size="9.0" fill="#111" stroke="#111" stroke-width="0.1" >AKT1</text>
<text x="0.00" y="607.61" font-size="9.0" fill="#111" stroke="#111" stroke-width="0.1" >DIS3</text>
</g>
<path d="M421.80,474.40 L421.80,471.00 L455.00,471.00 L455.00,474.40 M438.50,471.00 L438.50,467.30" fill="none" stroke="#000" stroke-width="0.9"/>
<path d="M455.60,474.40 L455.60,471.00 L472.10,471.00 L472.10,474.40 M463.60,471.00 L463.60,467.30" fill="none" stroke="#000" stroke-width="0.9"/>
<text transform="translate(434.8,464.3) rotate(-45)" font-size="8.6" fill="#111" stroke="#111" stroke-width="0.1" textLength="21.8" lengthAdjust="spacingAndGlyphs">S138F</text>
<text transform="translate(460.2,463.3) rotate(-45)" font-size="8.6" fill="#111" stroke="#111" stroke-width="0.1" textLength="12" lengthAdjust="spacingAndGlyphs">WT</text>
<line x1="141.80" y1="639.40" x2="141.80" y2="738.80" stroke="#000" stroke-width="1.2" />
<line x1="141.20" y1="738.20" x2="346.60" y2="738.20" stroke="#000" stroke-width="1.4" />
<line x1="138.60" y1="738.20" x2="141.80" y2="738.20" stroke="#000" stroke-width="1.0" />
<text x="134.40" y="741.40" font-size="9" fill="#111" text-anchor="end" textLength="4.60" lengthAdjust="spacingAndGlyphs" stroke="#111" stroke-width="0.1" >0</text>
<line x1="138.60" y1="706.15" x2="141.80" y2="706.15" stroke="#000" stroke-width="1.0" />
<text x="134.40" y="709.35" font-size="9" fill="#111" text-anchor="end" textLength="4.60" lengthAdjust="spacingAndGlyphs" stroke="#111" stroke-width="0.1" >5</text>
<line x1="138.60" y1="674.10" x2="141.80" y2="674.10" stroke="#000" stroke-width="1.0" />
<text x="134.40" y="677.30" font-size="9" fill="#111" text-anchor="end" textLength="8.80" lengthAdjust="spacingAndGlyphs" stroke="#111" stroke-width="0.1" >10</text>
<line x1="138.60" y1="642.05" x2="141.80" y2="642.05" stroke="#000" stroke-width="1.0" />
<text x="134.40" y="645.25" font-size="9" fill="#111" text-anchor="end" textLength="8.80" lengthAdjust="spacingAndGlyphs" stroke="#111" stroke-width="0.1" >15</text>
<text transform="translate(117.3,731.9) rotate(-90)" font-size="10" fill="#111" stroke="#111" stroke-width="0.2" textLength="91" lengthAdjust="spacingAndGlyphs">Relative abundance</text>
<rect x="142.6" y="676.2" width="5.4" height="62" fill="#2b4c8c"/>
<rect x="148" y="680.4" width="5.4" height="57.8" fill="#6cb04a"/>
<line x1="150.70" y1="675.00" x2="150.70" y2="680.40" stroke="#6cb04a" stroke-width="0.9" />
<line x1="149.40" y1="675.00" x2="152.00" y2="675.00" stroke="#6cb04a" stroke-width="0.9" />
<rect x="153.9" y="664" width="5.4" height="74.2" fill="#4c1d5c"/>
<line x1="156.60" y1="659.80" x2="156.60" y2="664.00" stroke="#4c1d5c" stroke-width="0.9" />
<line x1="155.30" y1="659.80" x2="157.90" y2="659.80" stroke="#4c1d5c" stroke-width="0.9" />
<line x1="150.60" y1="738.20" x2="150.60" y2="741.40" stroke="#000" stroke-width="1.0" />
<text x="156.60" y="659.60" font-size="7.2" fill="#111" text-anchor="middle" stroke="#111" stroke-width="0.1" letter-spacing="0.4">*</text>
<text transform="translate(153.60,750.10) rotate(-45)" font-size="9" fill="#111" stroke="#111" stroke-width="0.1" text-anchor="end" textLength="29.0" lengthAdjust="spacingAndGlyphs">EXOSC1</text>
<rect x="163.35" y="677.5" width="5.4" height="60.7" fill="#2b4c8c"/>
<line x1="166.05" y1="672.70" x2="166.05" y2="677.50" stroke="#2b4c8c" stroke-width="0.9" />
<line x1="164.75" y1="672.70" x2="167.35" y2="672.70" stroke="#2b4c8c" stroke-width="0.9" />
<rect x="168.75" y="687.1" width="5.4" height="51.1" fill="#6cb04a"/>
<line x1="171.45" y1="680.40" x2="171.45" y2="687.10" stroke="#6cb04a" stroke-width="0.9" />
<line x1="170.15" y1="680.40" x2="172.75" y2="680.40" stroke="#6cb04a" stroke-width="0.9" />
<rect x="174.65" y="658.3" width="5.4" height="79.9" fill="#4c1d5c"/>
<line x1="177.35" y1="653.80" x2="177.35" y2="658.30" stroke="#4c1d5c" stroke-width="0.9" />
<line x1="176.05" y1="653.80" x2="178.65" y2="653.80" stroke="#4c1d5c" stroke-width="0.9" />
<line x1="171.35" y1="738.20" x2="171.35" y2="741.40" stroke="#000" stroke-width="1.0" />
<text x="177.35" y="653.60" font-size="7.2" fill="#111" text-anchor="middle" stroke="#111" stroke-width="0.1" letter-spacing="0.4">***</text>
<text transform="translate(174.35,750.10) rotate(-45)" font-size="9" fill="#111" stroke="#111" stroke-width="0.1" text-anchor="end" textLength="29.0" lengthAdjust="spacingAndGlyphs">EXOSC2</text>
<rect x="184.1" y="679.4" width="5.4" height="58.8" fill="#2b4c8c"/>
<line x1="186.80" y1="675.20" x2="186.80" y2="679.40" stroke="#2b4c8c" stroke-width="0.9" />
<line x1="185.50" y1="675.20" x2="188.10" y2="675.20" stroke="#2b4c8c" stroke-width="0.9" />
<rect x="189.5" y="683.8" width="5.4" height="54.4" fill="#6cb04a"/>
<line x1="192.20" y1="678.10" x2="192.20" y2="683.80" stroke="#6cb04a" stroke-width="0.9" />
<line x1="190.90" y1="678.10" x2="193.50" y2="678.10" stroke="#6cb04a" stroke-width="0.9" />
<rect x="195.4" y="660.8" width="5.4" height="77.4" fill="#4c1d5c"/>
<line x1="198.10" y1="656.30" x2="198.10" y2="660.80" stroke="#4c1d5c" stroke-width="0.9" />
<line x1="196.80" y1="656.30" x2="199.40" y2="656.30" stroke="#4c1d5c" stroke-width="0.9" />
<line x1="192.10" y1="738.20" x2="192.10" y2="741.40" stroke="#000" stroke-width="1.0" />
<text x="198.10" y="656.10" font-size="7.2" fill="#111" text-anchor="middle" stroke="#111" stroke-width="0.1" letter-spacing="0.4">***</text>
<text transform="translate(195.10,750.10) rotate(-45)" font-size="9" fill="#111" stroke="#111" stroke-width="0.1" text-anchor="end" textLength="29.0" lengthAdjust="spacingAndGlyphs">EXOSC3</text>
<rect x="204.85" y="682.7" width="5.4" height="55.5" fill="#2b4c8c"/>
<line x1="207.55" y1="679.80" x2="207.55" y2="682.70" stroke="#2b4c8c" stroke-width="0.9" />
<line x1="206.25" y1="679.80" x2="208.85" y2="679.80" stroke="#2b4c8c" stroke-width="0.9" />
<rect x="210.25" y="683.3" width="5.4" height="54.9" fill="#6cb04a"/>
<line x1="212.95" y1="678.50" x2="212.95" y2="683.30" stroke="#6cb04a" stroke-width="0.9" />
<line x1="211.65" y1="678.50" x2="214.25" y2="678.50" stroke="#6cb04a" stroke-width="0.9" />
<rect x="216.15" y="659.8" width="5.4" height="78.4" fill="#4c1d5c"/>
<line x1="218.85" y1="658.30" x2="218.85" y2="659.80" stroke="#4c1d5c" stroke-width="0.9" />
<line x1="217.55" y1="658.30" x2="220.15" y2="658.30" stroke="#4c1d5c" stroke-width="0.9" />
<line x1="212.85" y1="738.20" x2="212.85" y2="741.40" stroke="#000" stroke-width="1.0" />
<text x="218.85" y="658.10" font-size="7.2" fill="#111" text-anchor="middle" stroke="#111" stroke-width="0.1" letter-spacing="0.4">***</text>
<text transform="translate(215.85,750.10) rotate(-45)" font-size="9" fill="#111" stroke="#111" stroke-width="0.1" text-anchor="end" textLength="29.0" lengthAdjust="spacingAndGlyphs">EXOSC4</text>
<rect x="225.6" y="679.3" width="5.4" height="58.9" fill="#2b4c8c"/>
<line x1="228.30" y1="676.30" x2="228.30" y2="679.30" stroke="#2b4c8c" stroke-width="0.9" />
<line x1="227.00" y1="676.30" x2="229.60" y2="676.30" stroke="#2b4c8c" stroke-width="0.9" />
<rect x="231" y="684.4" width="5.4" height="53.8" fill="#6cb04a"/>
<line x1="233.70" y1="683.50" x2="233.70" y2="684.40" stroke="#6cb04a" stroke-width="0.9" />
<line x1="232.40" y1="683.50" x2="235.00" y2="683.50" stroke="#6cb04a" stroke-width="0.9" />
<rect x="236.9" y="661" width="5.4" height="77.2" fill="#4c1d5c"/>
<line x1="239.60" y1="659.10" x2="239.60" y2="661.00" stroke="#4c1d5c" stroke-width="0.9" />
<line x1="238.30" y1="659.10" x2="240.90" y2="659.10" stroke="#4c1d5c" stroke-width="0.9" />
<line x1="233.60" y1="738.20" x2="233.60" y2="741.40" stroke="#000" stroke-width="1.0" />
<text x="239.60" y="658.90" font-size="7.2" fill="#111" text-anchor="middle" stroke="#111" stroke-width="0.1" letter-spacing="0.4">***</text>
<text transform="translate(236.60,750.10) rotate(-45)" font-size="9" fill="#111" stroke="#111" stroke-width="0.1" text-anchor="end" textLength="29.0" lengthAdjust="spacingAndGlyphs">EXOSC5</text>
<rect x="246.35" y="677.7" width="5.4" height="60.5" fill="#2b4c8c"/>
<line x1="249.05" y1="677.20" x2="249.05" y2="677.70" stroke="#2b4c8c" stroke-width="0.9" />
<line x1="247.75" y1="677.20" x2="250.35" y2="677.20" stroke="#2b4c8c" stroke-width="0.9" />
<rect x="251.75" y="685.2" width="5.4" height="53" fill="#6cb04a"/>
<line x1="254.45" y1="676.30" x2="254.45" y2="685.20" stroke="#6cb04a" stroke-width="0.9" />
<line x1="253.15" y1="676.30" x2="255.75" y2="676.30" stroke="#6cb04a" stroke-width="0.9" />
<rect x="257.65" y="661.5" width="5.4" height="76.7" fill="#4c1d5c"/>
<line x1="260.35" y1="656.90" x2="260.35" y2="661.50" stroke="#4c1d5c" stroke-width="0.9" />
<line x1="259.05" y1="656.90" x2="261.65" y2="656.90" stroke="#4c1d5c" stroke-width="0.9" />
<line x1="254.35" y1="738.20" x2="254.35" y2="741.40" stroke="#000" stroke-width="1.0" />
<text x="260.35" y="656.70" font-size="7.2" fill="#111" text-anchor="middle" stroke="#111" stroke-width="0.1" letter-spacing="0.4">***</text>
<text transform="translate(257.35,750.10) rotate(-45)" font-size="9" fill="#111" stroke="#111" stroke-width="0.1" text-anchor="end" textLength="29.0" lengthAdjust="spacingAndGlyphs">EXOSC6</text>
<rect x="267.1" y="681.2" width="5.4" height="57" fill="#2b4c8c"/>
<line x1="269.80" y1="675.80" x2="269.80" y2="681.20" stroke="#2b4c8c" stroke-width="0.9" />
<line x1="268.50" y1="675.80" x2="271.10" y2="675.80" stroke="#2b4c8c" stroke-width="0.9" />
<rect x="272.5" y="683" width="5.4" height="55.2" fill="#6cb04a"/>
<line x1="275.20" y1="677.10" x2="275.20" y2="683.00" stroke="#6cb04a" stroke-width="0.9" />
<line x1="273.90" y1="677.10" x2="276.50" y2="677.10" stroke="#6cb04a" stroke-width="0.9" />
<rect x="278.4" y="658.8" width="5.4" height="79.4" fill="#4c1d5c"/>
<line x1="281.10" y1="654.80" x2="281.10" y2="658.80" stroke="#4c1d5c" stroke-width="0.9" />
<line x1="279.80" y1="654.80" x2="282.40" y2="654.80" stroke="#4c1d5c" stroke-width="0.9" />
<line x1="275.10" y1="738.20" x2="275.10" y2="741.40" stroke="#000" stroke-width="1.0" />
<text x="281.10" y="654.60" font-size="7.2" fill="#111" text-anchor="middle" stroke="#111" stroke-width="0.1" letter-spacing="0.4">***</text>
<text transform="translate(278.10,750.10) rotate(-45)" font-size="9" fill="#111" stroke="#111" stroke-width="0.1" text-anchor="end" textLength="29.0" lengthAdjust="spacingAndGlyphs">EXOSC7</text>
<rect x="287.85" y="682.8" width="5.4" height="55.4" fill="#2b4c8c"/>
<line x1="290.55" y1="680.30" x2="290.55" y2="682.80" stroke="#2b4c8c" stroke-width="0.9" />
<line x1="289.25" y1="680.30" x2="291.85" y2="680.30" stroke="#2b4c8c" stroke-width="0.9" />
<rect x="293.25" y="679.3" width="5.4" height="58.9" fill="#6cb04a"/>
<rect x="299.15" y="661.5" width="5.4" height="76.7" fill="#4c1d5c"/>
<line x1="301.85" y1="655.00" x2="301.85" y2="661.50" stroke="#4c1d5c" stroke-width="0.9" />
<line x1="300.55" y1="655.00" x2="303.15" y2="655.00" stroke="#4c1d5c" stroke-width="0.9" />
<line x1="295.85" y1="738.20" x2="295.85" y2="741.40" stroke="#000" stroke-width="1.0" />
<text x="301.85" y="654.80" font-size="7.2" fill="#111" text-anchor="middle" stroke="#111" stroke-width="0.1" letter-spacing="0.4">***</text>
<text transform="translate(298.85,750.10) rotate(-45)" font-size="9" fill="#111" stroke="#111" stroke-width="0.1" text-anchor="end" textLength="29.0" lengthAdjust="spacingAndGlyphs">EXOSC8</text>
<rect x="308.6" y="678.7" width="5.4" height="59.5" fill="#2b4c8c"/>
<line x1="311.30" y1="672.30" x2="311.30" y2="678.70" stroke="#2b4c8c" stroke-width="0.9" />
<line x1="310.00" y1="672.30" x2="312.60" y2="672.30" stroke="#2b4c8c" stroke-width="0.9" />
<rect x="314" y="680.9" width="5.4" height="57.3" fill="#6cb04a"/>
<line x1="316.70" y1="669.00" x2="316.70" y2="680.90" stroke="#6cb04a" stroke-width="0.9" />
<line x1="315.40" y1="669.00" x2="318.00" y2="669.00" stroke="#6cb04a" stroke-width="0.9" />
<rect x="319.9" y="661.8" width="5.4" height="76.4" fill="#4c1d5c"/>
<line x1="322.60" y1="658.30" x2="322.60" y2="661.80" stroke="#4c1d5c" stroke-width="0.9" />
<line x1="321.30" y1="658.30" x2="323.90" y2="658.30" stroke="#4c1d5c" stroke-width="0.9" />
<line x1="316.60" y1="738.20" x2="316.60" y2="741.40" stroke="#000" stroke-width="1.0" />
<text x="322.60" y="658.10" font-size="7.2" fill="#111" text-anchor="middle" stroke="#111" stroke-width="0.1" letter-spacing="0.4">***</text>
<text transform="translate(319.60,750.10) rotate(-45)" font-size="9" fill="#111" stroke="#111" stroke-width="0.1" text-anchor="end" textLength="29.0" lengthAdjust="spacingAndGlyphs">EXOSC9</text>
<rect x="329.35" y="676.6" width="5.4" height="61.6" fill="#2b4c8c"/>
<line x1="332.05" y1="673.10" x2="332.05" y2="676.60" stroke="#2b4c8c" stroke-width="0.9" />
<line x1="330.75" y1="673.10" x2="333.35" y2="673.10" stroke="#2b4c8c" stroke-width="0.9" />
<rect x="334.75" y="673.6" width="5.4" height="64.6" fill="#6cb04a"/>
<line x1="337.45" y1="668.50" x2="337.45" y2="673.60" stroke="#6cb04a" stroke-width="0.9" />
<line x1="336.15" y1="668.50" x2="338.75" y2="668.50" stroke="#6cb04a" stroke-width="0.9" />
<rect x="340.65" y="669.8" width="5.4" height="68.4" fill="#4c1d5c"/>
<line x1="343.35" y1="665.80" x2="343.35" y2="669.80" stroke="#4c1d5c" stroke-width="0.9" />
<line x1="342.05" y1="665.80" x2="344.65" y2="665.80" stroke="#4c1d5c" stroke-width="0.9" />
<line x1="337.35" y1="738.20" x2="337.35" y2="741.40" stroke="#000" stroke-width="1.0" />
<text transform="translate(340.35,750.10) rotate(-45)" font-size="9" fill="#111" stroke="#111" stroke-width="0.1" text-anchor="end" textLength="34.2" lengthAdjust="spacingAndGlyphs">EXOSC10</text>
<rect x="354.3" y="707.3" width="5.3" height="5.3" fill="#2b4c8c"/>
<text x="363.1" y="712.90" font-size="8.7" fill="#111" stroke="#111" stroke-width="0.1"><tspan textLength="40.4" lengthAdjust="spacingAndGlyphs">GFP-RPS15</tspan><tspan font-size="6" dy="-3.8">WT</tspan></text>
<rect x="354.3" y="717.3" width="5.3" height="5.3" fill="#6cb04a"/>
<text x="363.1" y="722.90" font-size="8.7" fill="#111" stroke="#111" stroke-width="0.1"><tspan textLength="40.4" lengthAdjust="spacingAndGlyphs">GFP-RPS15</tspan><tspan font-size="6" dy="-3.8">P131S</tspan></text>
<rect x="354.3" y="727.3" width="5.3" height="5.3" fill="#4c1d5c"/>
<text x="363.1" y="732.90" font-size="8.7" fill="#111" stroke="#111" stroke-width="0.1"><tspan textLength="40.4" lengthAdjust="spacingAndGlyphs">GFP-RPS15</tspan><tspan font-size="6" dy="-3.8">P138F</tspan></text>
</svg></body></html>
